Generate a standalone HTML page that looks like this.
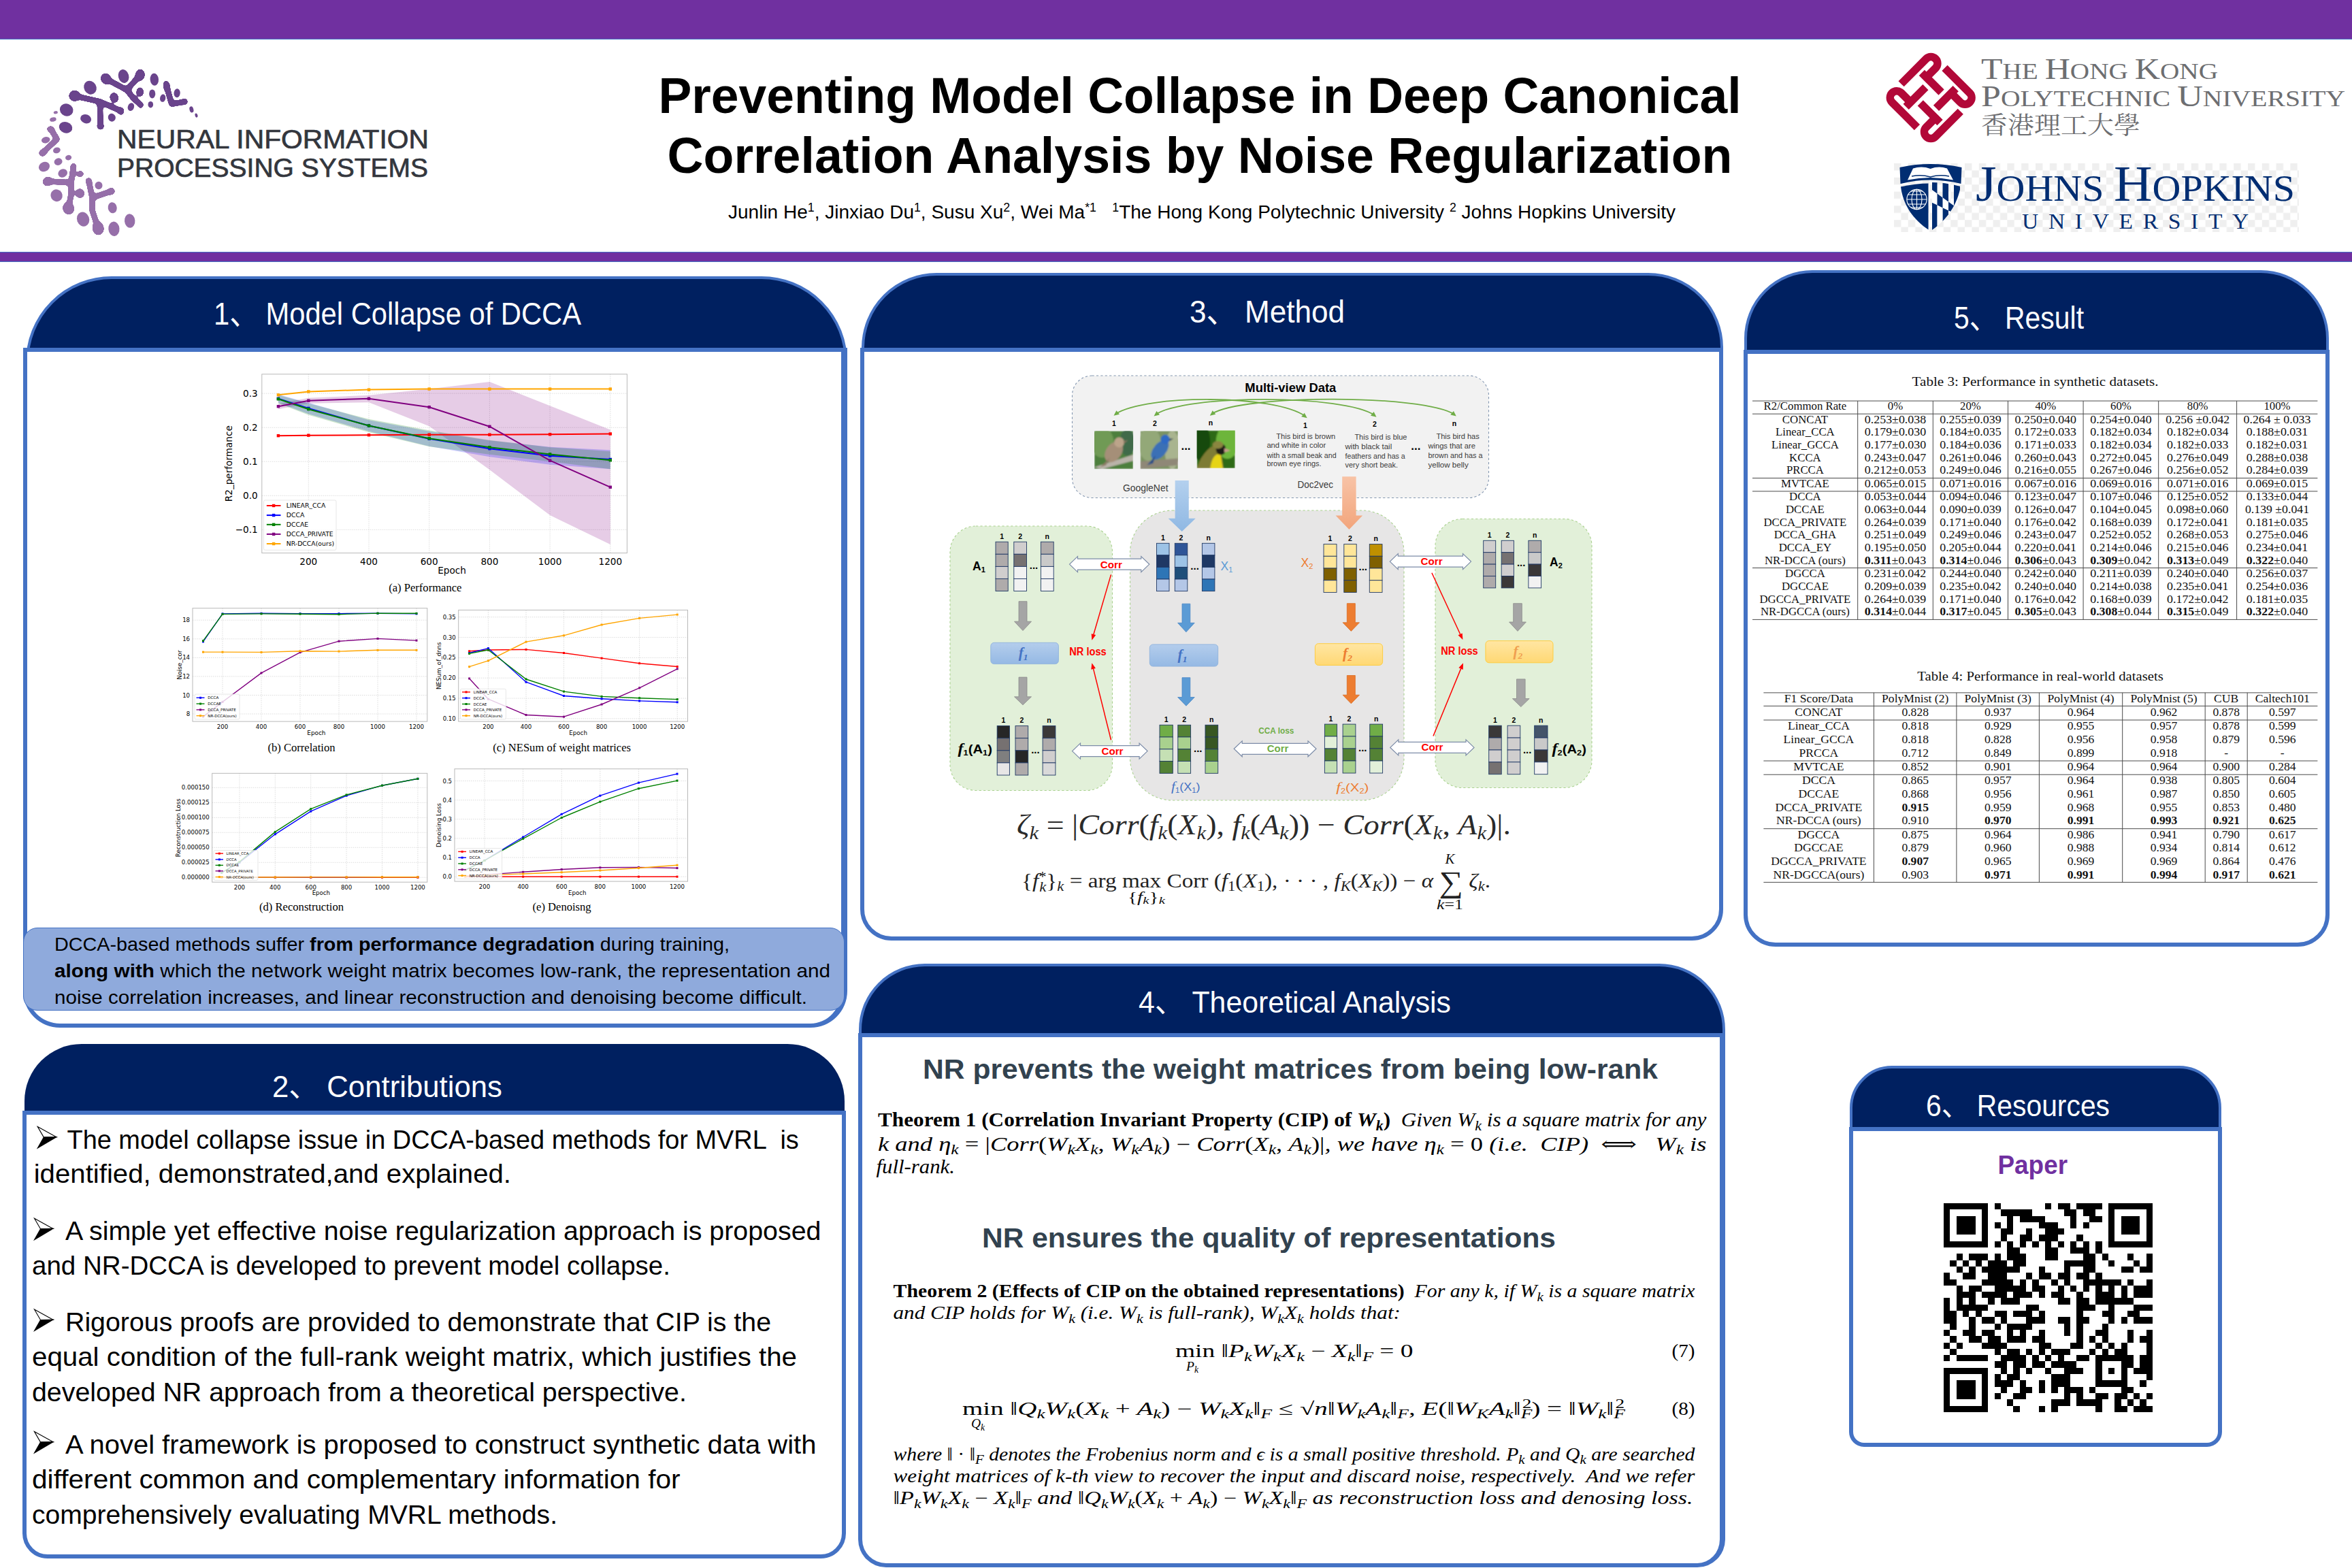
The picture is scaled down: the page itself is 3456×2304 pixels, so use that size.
<!DOCTYPE html>
<html lang="en"><head><meta charset="utf-8">
<title>Preventing Model Collapse in Deep Canonical Correlation Analysis by Noise Regularization</title>
<style>
html,body{margin:0;padding:0;background:#fff;}
#poster{position:relative;width:3456px;height:2304px;overflow:hidden;background:#fff;font-family:"Liberation Sans",sans-serif;}
.abs{position:absolute;box-sizing:border-box;}
.bar{position:absolute;left:0;width:3456px;background:#7030A0;box-sizing:border-box;}
.hd{position:absolute;box-sizing:border-box;background:#002060;}
.bd{position:absolute;box-sizing:border-box;background:#fff;border:6px solid #4472C4;}
svg{position:absolute;left:0;top:0;overflow:visible;}
</style></head>
<body>
<div id="poster">
<div class="bar" style="top:0;height:58px;border-bottom:1px solid #4472C4;"></div>
<div class="bar" style="top:370px;height:15px;border-top:1px solid #4472C4;border-bottom:1px solid #4472C4;"></div>
<div class="hd" id="p1h" style="left:38px;top:406px;width:1207px;height:231px;border-radius:126px 126px 0 0;border:4px solid #4472C4;"></div>
<div class="bd" id="p1b" style="left:34px;top:511px;width:1211px;height:999px;border-width:6px 9px 6px 6px;border-radius:0 0 54px 54px;"></div>
<div class="hd" id="p2h" style="left:36px;top:1534px;width:1205px;height:108px;border-radius:84px 84px 0 0;"></div>
<div class="bd" id="p2b" style="left:33px;top:1632px;width:1210px;height:658px;border-width:6px 6px 6px 6px;border-radius:0 0 37px 37px;"></div>
<div class="hd" id="p3h" style="left:1266px;top:401px;width:1266px;height:120px;border-radius:110px 110px 0 0;border:4px solid #4472C4;"></div>
<div class="bd" id="p3b" style="left:1264px;top:511px;width:1268px;height:871px;border-width:6px 6px 6px 6px;border-radius:0 0 46px 46px;"></div>
<div class="hd" id="p4h" style="left:1262px;top:1416px;width:1273px;height:112px;border-radius:97px 97px 0 0;border:4px solid #4472C4;"></div>
<div class="bd" id="p4b" style="left:1261px;top:1518px;width:1274px;height:785px;border-width:6px 8px 6px 6px;border-radius:0 0 41px 41px;"></div>
<div class="hd" id="p5h" style="left:2563px;top:397px;width:859px;height:127px;border-radius:100px 100px 0 0;border:4px solid #4472C4;"></div>
<div class="bd" id="p5b" style="left:2562px;top:514px;width:861px;height:877px;border-width:6px 6px 6px 6px;border-radius:0 0 47px 47px;"></div>
<div class="hd" id="p6h" style="left:2718px;top:1566px;width:546px;height:100px;border-radius:62px 62px 0 0;border:4px solid #4472C4;"></div>
<div class="bd" id="p6b" style="left:2717px;top:1656px;width:548px;height:470px;border-width:6px 6px 6px 6px;border-radius:0 0 22px 22px;"></div>
<div class="abs" style="left:34px;top:1363px;width:1207px;height:122px;background:#8FAADC;border:1px solid #4472C4;border-radius:21px;"></div>
<svg width="3456" height="2304" viewBox="0 0 3456 2304">
<text x="314" y="477" font-size="47" fill="#fff" font-family='"Liberation Sans", "Noto Sans CJK SC", sans-serif' textLength="540" lengthAdjust="spacingAndGlyphs" xml:space="preserve">1、 Model Collapse of DCCA</text>
<text x="400" y="1612" font-size="44" fill="#fff" font-family='"Liberation Sans", "Noto Sans CJK SC", sans-serif' textLength="338" lengthAdjust="spacingAndGlyphs" xml:space="preserve">2、 Contributions</text>
<text x="1748" y="474" font-size="47" fill="#fff" font-family='"Liberation Sans", "Noto Sans CJK SC", sans-serif' textLength="228" lengthAdjust="spacingAndGlyphs" xml:space="preserve">3、 Method</text>
<text x="1673" y="1488" font-size="44" fill="#fff" font-family='"Liberation Sans", "Noto Sans CJK SC", sans-serif' textLength="459" lengthAdjust="spacingAndGlyphs" xml:space="preserve">4、 Theoretical Analysis</text>
<text x="2871" y="483" font-size="47" fill="#fff" font-family='"Liberation Sans", "Noto Sans CJK SC", sans-serif' textLength="191" lengthAdjust="spacingAndGlyphs" xml:space="preserve">5、 Result</text>
<text x="2830" y="1640" font-size="44" fill="#fff" font-family='"Liberation Sans", "Noto Sans CJK SC", sans-serif' textLength="270" lengthAdjust="spacingAndGlyphs" xml:space="preserve">6、 Resources</text>
<g id="neurips-logo">
<filter id="goo" x="-10%" y="-10%" width="120%" height="120%" color-interpolation-filters="sRGB"><feGaussianBlur in="SourceGraphic" stdDeviation="2.2" result="b"/><feColorMatrix in="b" mode="matrix" values="1 0 0 0 0  0 1 0 0 0  0 0 1 0 0  0 0 0 22 -10"/></filter>
<g fill="#6A448C" stroke="#6A448C" stroke-linecap="round" stroke-linejoin="round" filter="url(#goo)">
<path d="M155.7,115.8 L186.4,132.2 L205.7,110.3" fill="none" stroke-width="8.5"/><path d="M186.4,132.2 L195.8,144.2 L206.7,154.1" fill="none" stroke-width="8.5"/><path d="M109.7,140.8 L146.8,149.4 L177.8,163.2" fill="none" stroke-width="8.5"/><path d="M146.8,149.4 L147.6,185.6" fill="none" stroke-width="8.5"/><path d="M244.9,127.0 L252.2,152.9 L271.6,149.4" fill="none" stroke-width="8.5"/><ellipse cx="205.7" cy="110.3" rx="7.2" ry="9.0" stroke="none" transform="rotate(10 205.7 110.3)"/><ellipse cx="244.9" cy="127.0" rx="5.2" ry="9.0" stroke="none" transform="rotate(-10 244.9 127.0)"/><ellipse cx="155.7" cy="115.8" rx="7.7" ry="8.6" stroke="none" transform="rotate(-30 155.7 115.8)"/><ellipse cx="205.7" cy="135.1" rx="5.5" ry="7.2" stroke="none" transform="rotate(0 205.7 135.1)"/><ellipse cx="167.8" cy="143.4" rx="6.5" ry="7.7" stroke="none" transform="rotate(-20 167.8 143.4)"/><ellipse cx="109.7" cy="140.8" rx="8.6" ry="8.3" stroke="none" transform="rotate(0 109.7 140.8)"/><ellipse cx="206.7" cy="154.1" rx="4.3" ry="5.2" stroke="none" transform="rotate(0 206.7 154.1)"/><ellipse cx="271.6" cy="149.4" rx="4.3" ry="5.2" stroke="none" transform="rotate(0 271.6 149.4)"/><ellipse cx="147.6" cy="185.6" rx="5.5" ry="5.2" stroke="none" transform="rotate(0 147.6 185.6)"/><ellipse cx="177.8" cy="163.2" rx="4.8" ry="6.0" stroke="none" transform="rotate(0 177.8 163.2)"/>
</g>
<g fill="#6A448C"><ellipse cx="181.6" cy="112.0" rx="7.7" ry="10.0" stroke="none" transform="rotate(-15 181.6 112.0)"/><ellipse cx="226.8" cy="116.7" rx="6.2" ry="9.0" stroke="none" transform="rotate(-5 226.8 116.7)"/><ellipse cx="260.1" cy="136.8" rx="4.6" ry="6.5" stroke="none" transform="rotate(5 260.1 136.8)"/><ellipse cx="132.5" cy="128.7" rx="9.0" ry="10.3" stroke="none" transform="rotate(-30 132.5 128.7)"/><ellipse cx="223.7" cy="137.9" rx="4.6" ry="6.5" stroke="none" transform="rotate(0 223.7 137.9)"/><ellipse cx="239.2" cy="144.2" rx="4.1" ry="5.7" stroke="none" transform="rotate(10 239.2 144.2)"/><ellipse cx="97.7" cy="161.5" rx="10.0" ry="9.0" stroke="none" transform="rotate(20 97.7 161.5)"/><ellipse cx="192.4" cy="157.2" rx="4.6" ry="6.0" stroke="none" transform="rotate(20 192.4 157.2)"/><ellipse cx="221.3" cy="153.7" rx="3.8" ry="4.8" stroke="none" transform="rotate(0 221.3 153.7)"/><ellipse cx="281.4" cy="160.9" rx="2.9" ry="4.6" stroke="none" transform="rotate(-15 281.4 160.9)"/><ellipse cx="288.5" cy="169.6" rx="1.9" ry="3.1" stroke="none" transform="rotate(-15 288.5 169.6)"/><ellipse cx="126.1" cy="174.7" rx="8.1" ry="6.5" stroke="none" transform="rotate(20 126.1 174.7)"/><ellipse cx="164.3" cy="172.7" rx="5.5" ry="6.0" stroke="none" transform="rotate(-20 164.3 172.7)"/><ellipse cx="96.5" cy="187.3" rx="10.0" ry="8.1" stroke="none" transform="rotate(20 96.5 187.3)"/></g>
<g fill="#966FA9" stroke="#966FA9" stroke-linecap="round" stroke-linejoin="round" filter="url(#goo)">
<path d="M70.1,266.5 L104.6,268.2 L108.0,244.1" fill="none" stroke-width="8.5"/><path d="M104.6,268.2 L104.1,288.0 L100.6,306.1" fill="none" stroke-width="8.5"/><path d="M130.4,265.7 L135.6,290.6 L163.6,281.1" fill="none" stroke-width="8.5"/><path d="M135.6,290.6 L135.1,307.8 L144.2,335.4" fill="none" stroke-width="8.5"/><path d="M74.4,189.5 L83.9,204.5 L63.2,224.0" fill="none" stroke-width="8.5"/><ellipse cx="74.4" cy="189.5" rx="6.0" ry="4.3" stroke="none" transform="rotate(0 74.4 189.5)"/><ellipse cx="63.2" cy="224.3" rx="6.5" ry="5.5" stroke="none" transform="rotate(-30 63.2 224.3)"/><ellipse cx="108.0" cy="244.1" rx="4.8" ry="4.3" stroke="none" transform="rotate(0 108.0 244.1)"/><ellipse cx="117.8" cy="255.7" rx="5.5" ry="4.8" stroke="none" transform="rotate(-15 117.8 255.7)"/><ellipse cx="70.1" cy="266.5" rx="7.7" ry="6.9" stroke="none" transform="rotate(-20 70.1 266.5)"/><ellipse cx="130.4" cy="265.7" rx="5.2" ry="4.6" stroke="none" transform="rotate(0 130.4 265.7)"/><ellipse cx="117.5" cy="284.1" rx="6.9" ry="7.2" stroke="none" transform="rotate(-20 117.5 284.1)"/><ellipse cx="163.6" cy="281.1" rx="5.5" ry="5.5" stroke="none" transform="rotate(0 163.6 281.1)"/><ellipse cx="100.6" cy="306.1" rx="8.6" ry="9.5" stroke="none" transform="rotate(-20 100.6 306.1)"/><ellipse cx="144.2" cy="335.4" rx="8.6" ry="10.3" stroke="none" transform="rotate(-10 144.2 335.4)"/>
</g>
<g fill="#966FA9"><ellipse cx="81.8" cy="165.3" rx="3.1" ry="2.1" stroke="none" transform="rotate(-10 81.8 165.3)"/><ellipse cx="77.9" cy="175.6" rx="4.8" ry="3.1" stroke="none" transform="rotate(-10 77.9 175.6)"/><ellipse cx="67.2" cy="205.7" rx="6.4" ry="4.6" stroke="none" transform="rotate(-15 67.2 205.7)"/><ellipse cx="83.4" cy="220.9" rx="5.5" ry="4.3" stroke="none" transform="rotate(-20 83.4 220.9)"/><ellipse cx="100.6" cy="231.6" rx="4.6" ry="3.8" stroke="none" transform="rotate(-15 100.6 231.6)"/><ellipse cx="85.6" cy="237.6" rx="6.0" ry="5.2" stroke="none" transform="rotate(-20 85.6 237.6)"/><ellipse cx="65.0" cy="245.0" rx="8.3" ry="6.9" stroke="none" transform="rotate(-25 65.0 245.0)"/><ellipse cx="92.2" cy="254.5" rx="6.9" ry="6.0" stroke="none" transform="rotate(-25 92.2 254.5)"/><ellipse cx="145.0" cy="272.5" rx="5.5" ry="5.7" stroke="none" transform="rotate(0 145.0 272.5)"/><ellipse cx="83.1" cy="287.2" rx="8.6" ry="9.0" stroke="none" transform="rotate(-30 83.1 287.2)"/><ellipse cx="165.2" cy="305.3" rx="6.5" ry="8.1" stroke="none" transform="rotate(-10 165.2 305.3)"/><ellipse cx="122.1" cy="322.1" rx="9.0" ry="10.7" stroke="none" transform="rotate(-20 122.1 322.1)"/><ellipse cx="190.7" cy="324.5" rx="7.7" ry="10.3" stroke="none" transform="rotate(-5 190.7 324.5)"/><ellipse cx="167.4" cy="336.3" rx="8.1" ry="10.7" stroke="none" transform="rotate(-5 167.4 336.3)"/></g>
<text x="172" y="218" font-size="38.5" fill="#33363D" font-family='"Liberation Sans", "DejaVu Sans", sans-serif' textLength="458" lengthAdjust="spacingAndGlyphs" stroke="#33363D" stroke-width="0.7" xml:space="preserve">NEURAL INFORMATION</text>
<text x="172" y="260" font-size="38.5" fill="#33363D" font-family='"Liberation Sans", "DejaVu Sans", sans-serif' textLength="457" lengthAdjust="spacingAndGlyphs" stroke="#33363D" stroke-width="0.7" xml:space="preserve">PROCESSING SYSTEMS</text>
</g>
<text x="1763" y="165.5" font-size="73.3" fill="#000" font-family='"Liberation Sans", "DejaVu Sans", sans-serif' font-weight="bold" text-anchor="middle" textLength="1591" lengthAdjust="spacingAndGlyphs" xml:space="preserve">Preventing Model Collapse in Deep Canonical</text>
<text x="1763" y="253.5" font-size="73.3" fill="#000" font-family='"Liberation Sans", "DejaVu Sans", sans-serif' font-weight="bold" text-anchor="middle" textLength="1565" lengthAdjust="spacingAndGlyphs" xml:space="preserve">Correlation Analysis by Noise Regularization</text>
<text x="1070" y="321" font-size="28.4" fill="#000" font-family='"Liberation Sans", "DejaVu Sans", sans-serif' textLength="1392" lengthAdjust="spacingAndGlyphs" xml:space="preserve"><tspan>Junlin He</tspan><tspan font-size="18" dy="-10">1</tspan><tspan dy="10">, Jinxiao Du</tspan><tspan font-size="18" dy="-10">1</tspan><tspan dy="10">, Susu Xu</tspan><tspan font-size="18" dy="-10">2</tspan><tspan dy="10">, Wei Ma</tspan><tspan font-size="18" dy="-10">*1</tspan><tspan dy="10">   </tspan><tspan font-size="18" dy="-10">1</tspan><tspan dy="10">The Hong Kong Polytechnic University </tspan><tspan font-size="18" dy="-10">2</tspan><tspan dy="10"> Johns Hopkins University</tspan></text>
<g id="polyu-logo"><g transform="translate(2837.2 143.5) rotate(-45)" fill="none" stroke="#B20838" stroke-width="11.6">
<g transform="rotate(0)"><path d="M-16.5,-45.15 H35.5 A9.65,9.65 0 0 1 35.5,-25.85 H11.2"/><path d="M16.4,-35.3 V5.4"/></g>
<g transform="rotate(90)"><path d="M-16.5,-45.15 H35.5 A9.65,9.65 0 0 1 35.5,-25.85 H11.2"/><path d="M16.4,-35.3 V5.4"/></g>
<g transform="rotate(180)"><path d="M-16.5,-45.15 H35.5 A9.65,9.65 0 0 1 35.5,-25.85 H11.2"/><path d="M16.4,-35.3 V5.4"/></g>
<g transform="rotate(270)"><path d="M-16.5,-45.15 H35.5 A9.65,9.65 0 0 1 35.5,-25.85 H11.2"/><path d="M16.4,-35.3 V5.4"/></g>
</g>
<text x="2911" y="116" font-size="33.5" fill="#6D6E71" font-family='"Liberation Serif", "DejaVu Serif", serif' textLength="348" lengthAdjust="spacingAndGlyphs" xml:space="preserve"><tspan font-size="44">T</tspan><tspan>HE </tspan><tspan font-size="44">H</tspan><tspan>ONG </tspan><tspan font-size="44">K</tspan><tspan>ONG</tspan></text>
<text x="2911" y="156" font-size="33.5" fill="#6D6E71" font-family='"Liberation Serif", "DejaVu Serif", serif' textLength="535" lengthAdjust="spacingAndGlyphs" xml:space="preserve"><tspan font-size="44">P</tspan><tspan>OLYTECHNIC </tspan><tspan font-size="44">U</tspan><tspan>NIVERSITY</tspan></text>
<text x="2911" y="197" font-size="36" fill="#6D6E71" font-family='"Liberation Serif", "Noto Serif CJK TC", "Noto Serif CJK SC", serif' textLength="234" lengthAdjust="spacingAndGlyphs" xml:space="preserve">香港理工大學</text>
</g>
<g id="jhu-logo">
<defs><pattern id="chk" x="2783" y="240" width="20.8" height="20.8" patternUnits="userSpaceOnUse"><rect width="20.8" height="20.8" fill="#fff"/><rect width="10.4" height="10.4" fill="#EFEFEF"/><rect x="10.4" y="10.4" width="10.4" height="10.4" fill="#EFEFEF"/></pattern><clipPath id="shl"><path d="M2793,273 Q2836,262 2881,274 C2876,300 2862,322 2838.5,338 L2838.5,266 L2834,266 L2834,338 C2808,320 2796,298 2793,273 Z"/></clipPath></defs>
<rect x="2783" y="240" width="595" height="101" fill="url(#chk)"/>
<path d="M2791.5,246 Q2836,236 2882.5,246 L2881.5,270 Q2836,259 2792.5,270 Z" fill="#002D72"/>
<path d="M2803,264.5 L2811,247.5 Q2824,243.5 2836.5,248 Q2849,243.5 2861,247.5 L2870,264.5 Q2836,257.5 2803,264.5 Z" fill="#fff"/><path d="M2809,259 Q2823,256 2836.5,260 Q2850,256 2864,259" fill="none" stroke="#002D72" stroke-width="1.6"/>
<path d="M2793,274.5 Q2815,269.5 2833.5,269.5 L2833.5,337.5 C2808,320 2796,298 2793,274.5 Z" fill="#002D72"/>
<g fill="none" stroke="#fff" stroke-width="1.1"><circle cx="2816.5" cy="293" r="14.6"/><ellipse cx="2816.5" cy="293" rx="7.5" ry="14.6"/><path d="M2816.5,278.4 V307.6 M2801.9,293 H2831.1 M2803.5,286 H2829.5 M2803.5,300 H2829.5 M2808,281 H2825 M2808,305 H2825"/></g>
<g clip-path="url(#shl)"><rect x="2839" y="266" width="7.5" height="80" fill="#002D72"/><rect x="2854.5" y="266" width="8.5" height="80" fill="#002D72"/><rect x="2871" y="266" width="9" height="80" fill="#002D72"/><path d="M2839,279 L2872,303 L2868,312 L2839,298 Z" fill="#fff"/><path d="M2846.5,284.5 L2854.5,290.5 L2854.5,305.5 L2846.5,301.5 Z" fill="#002D72"/><path d="M2863,296.5 L2872,303 L2868,312 L2863,309.5 Z" fill="#002D72"/><path d="M2839,298 L2846.5,301.5 L2846.5,345 L2839,345 Z" fill="#002D72"/><path d="M2854.5,305.5 L2863,309.5 L2863,330 L2854.5,330 Z" fill="#002D72"/><path d="M2846.5,301.5 L2854.5,305.5 L2854.5,345 L2846.5,345 Z" fill="#fff"/><path d="M2863,309.5 L2868,312 L2863,322 Z" fill="#fff"/></g>
<text x="2903" y="295" font-size="54" fill="#002D72" font-family='"Liberation Serif", "DejaVu Serif", serif' textLength="469" lengthAdjust="spacingAndGlyphs" xml:space="preserve"><tspan font-size="73">J</tspan><tspan>OHNS </tspan><tspan font-size="73">H</tspan><tspan>OPKINS</tspan></text>
<text x="2971" y="336" font-size="32" fill="#002D72" font-family='"Liberation Serif", "DejaVu Serif", serif' textLength="348" lengthAdjust="spacingAndGlyphs" letter-spacing="14" xml:space="preserve">UNIVERSITY</text>
</g>
<g id="panel1">
<g id="ca" font-family='"DejaVu Sans", "Liberation Sans", sans-serif'>
<rect x="384.8" y="549.8" width="536.6" height="262.8" fill="#fff" stroke="none"/>
<path d="M453.3,549.8V812.6M542.0,549.8V812.6M630.7,549.8V812.6M719.4,549.8V812.6M808.1,549.8V812.6M896.8,549.8V812.6M384.8,578.1H921.4M384.8,628.2H921.4M384.8,678.2H921.4M384.8,728.3H921.4M384.8,778.3H921.4" stroke="#cfcfcf" stroke-width="0.7" stroke-dasharray="1.5 1.5" fill="none"/>
<clipPath id="cac"><rect x="384.8" y="549.8" width="536.6" height="262.8"/></clipPath><g clip-path="url(#cac)">
<polygon points="408.9,593.2 453.3,584.7 542.0,580.7 630.7,571.6 719.4,561.1 808.1,596.2 896.8,631.5 896.8,800.1 808.1,757.1 719.4,690.3 630.7,626.2 542.0,591.2 453.3,592.7 408.9,601.2" fill="#800080" fill-opacity="0.2"/>
<polygon points="408.9,579.7 453.3,591.7 542.0,617.2 630.7,633.7 719.4,647.2 808.1,656.7 896.8,661.2 896.8,689.3 808.1,682.8 719.4,671.2 630.7,655.7 542.0,633.7 453.3,608.2 408.9,591.7" fill="#0000FF" fill-opacity="0.2"/>
<polygon points="408.9,580.2 453.3,592.7 542.0,615.7 630.7,632.2 719.4,646.7 808.1,657.2 896.8,663.2 896.8,689.3 808.1,678.2 719.4,667.7 630.7,656.2 542.0,635.2 453.3,609.7 408.9,592.7" fill="#008000" fill-opacity="0.2"/>
<polyline points="408.9,640.2 453.3,639.7 542.0,639.2 630.7,638.7 719.4,638.7 808.1,638.2 896.8,637.5" fill="none" stroke="#FF0000" stroke-width="2" stroke-linejoin="round"/><rect x="406.7" y="638.0" width="4.4" height="4.4" fill="#FF0000"/><rect x="451.1" y="637.5" width="4.4" height="4.4" fill="#FF0000"/><rect x="539.8" y="637.0" width="4.4" height="4.4" fill="#FF0000"/><rect x="628.5" y="636.5" width="4.4" height="4.4" fill="#FF0000"/><rect x="717.2" y="636.5" width="4.4" height="4.4" fill="#FF0000"/><rect x="805.9" y="636.0" width="4.4" height="4.4" fill="#FF0000"/><rect x="894.6" y="635.3" width="4.4" height="4.4" fill="#FF0000"/>
<polyline points="408.9,585.7 453.3,599.9 542.0,625.5 630.7,644.7 719.4,659.2 808.1,669.7 896.8,675.0" fill="none" stroke="#0000FF" stroke-width="2" stroke-linejoin="round"/><rect x="406.7" y="583.5" width="4.4" height="4.4" fill="#0000FF"/><rect x="451.1" y="597.7" width="4.4" height="4.4" fill="#0000FF"/><rect x="539.8" y="623.3" width="4.4" height="4.4" fill="#0000FF"/><rect x="628.5" y="642.5" width="4.4" height="4.4" fill="#0000FF"/><rect x="717.2" y="657.0" width="4.4" height="4.4" fill="#0000FF"/><rect x="805.9" y="667.5" width="4.4" height="4.4" fill="#0000FF"/><rect x="894.6" y="672.8" width="4.4" height="4.4" fill="#0000FF"/>
<polyline points="408.9,586.3 453.3,601.2 542.0,625.5 630.7,644.2 719.4,657.2 808.1,667.4 896.8,676.2" fill="none" stroke="#008000" stroke-width="2" stroke-linejoin="round"/><rect x="406.7" y="584.1" width="4.4" height="4.4" fill="#008000"/><rect x="451.1" y="599.0" width="4.4" height="4.4" fill="#008000"/><rect x="539.8" y="623.3" width="4.4" height="4.4" fill="#008000"/><rect x="628.5" y="642.0" width="4.4" height="4.4" fill="#008000"/><rect x="717.2" y="655.0" width="4.4" height="4.4" fill="#008000"/><rect x="805.9" y="665.2" width="4.4" height="4.4" fill="#008000"/><rect x="894.6" y="674.0" width="4.4" height="4.4" fill="#008000"/>
<polyline points="408.9,597.2 453.3,588.7 542.0,585.7 630.7,598.2 719.4,626.7 808.1,676.7 896.8,715.8" fill="none" stroke="#800080" stroke-width="2" stroke-linejoin="round"/><rect x="406.7" y="595.0" width="4.4" height="4.4" fill="#800080"/><rect x="451.1" y="586.5" width="4.4" height="4.4" fill="#800080"/><rect x="539.8" y="583.5" width="4.4" height="4.4" fill="#800080"/><rect x="628.5" y="596.0" width="4.4" height="4.4" fill="#800080"/><rect x="717.2" y="624.5" width="4.4" height="4.4" fill="#800080"/><rect x="805.9" y="674.5" width="4.4" height="4.4" fill="#800080"/><rect x="894.6" y="713.6" width="4.4" height="4.4" fill="#800080"/>
<polyline points="408.9,580.3 453.3,575.4 542.0,572.6 630.7,571.6 719.4,571.6 808.1,571.6 896.8,571.6" fill="none" stroke="#FFA500" stroke-width="2" stroke-linejoin="round"/><rect x="406.7" y="578.1" width="4.4" height="4.4" fill="#FFA500"/><rect x="451.1" y="573.2" width="4.4" height="4.4" fill="#FFA500"/><rect x="539.8" y="570.4" width="4.4" height="4.4" fill="#FFA500"/><rect x="628.5" y="569.4" width="4.4" height="4.4" fill="#FFA500"/><rect x="717.2" y="569.4" width="4.4" height="4.4" fill="#FFA500"/><rect x="805.9" y="569.4" width="4.4" height="4.4" fill="#FFA500"/><rect x="894.6" y="569.4" width="4.4" height="4.4" fill="#FFA500"/>
</g>
<rect x="387.5" y="735" width="106.5" height="73.3" rx="2" fill="#fff" fill-opacity="0.8" stroke="#ddd" stroke-width="0.7"/>
<path d="M391.8,743H412.5" stroke="#FF0000" stroke-width="2"/><rect x="399.9" y="740.8" width="4.4" height="4.4" fill="#FF0000"/><text x="420.8" y="746.3" font-size="9.3" fill="#000" font-family='"DejaVu Sans", "Liberation Sans", sans-serif' xml:space="preserve">LINEAR_CCA</text>
<path d="M391.8,757.1H412.5" stroke="#0000FF" stroke-width="2"/><rect x="399.9" y="754.9" width="4.4" height="4.4" fill="#0000FF"/><text x="420.8" y="760.4" font-size="9.3" fill="#000" font-family='"DejaVu Sans", "Liberation Sans", sans-serif' xml:space="preserve">DCCA</text>
<path d="M391.8,770.8H412.5" stroke="#008000" stroke-width="2"/><rect x="399.9" y="768.6" width="4.4" height="4.4" fill="#008000"/><text x="420.8" y="774.1" font-size="9.3" fill="#000" font-family='"DejaVu Sans", "Liberation Sans", sans-serif' xml:space="preserve">DCCAE</text>
<path d="M391.8,784.9H412.5" stroke="#800080" stroke-width="2"/><rect x="399.9" y="782.7" width="4.4" height="4.4" fill="#800080"/><text x="420.8" y="788.2" font-size="9.3" fill="#000" font-family='"DejaVu Sans", "Liberation Sans", sans-serif' xml:space="preserve">DCCA_PRIVATE</text>
<path d="M391.8,799H412.5" stroke="#FFA500" stroke-width="2"/><rect x="399.9" y="796.8" width="4.4" height="4.4" fill="#FFA500"/><text x="420.8" y="802.3" font-size="9.3" fill="#000" font-family='"DejaVu Sans", "Liberation Sans", sans-serif' xml:space="preserve">NR-DCCA(ours)</text>
<rect x="384.8" y="549.8" width="536.6" height="262.8" fill="none" stroke="#b8b8b8" stroke-width="1"/>
<text x="453.3" y="830.3" font-size="13.6" fill="#000" font-family='"DejaVu Sans", "Liberation Sans", sans-serif' text-anchor="middle" xml:space="preserve">200</text>
<text x="542.0" y="830.3" font-size="13.6" fill="#000" font-family='"DejaVu Sans", "Liberation Sans", sans-serif' text-anchor="middle" xml:space="preserve">400</text>
<text x="630.7" y="830.3" font-size="13.6" fill="#000" font-family='"DejaVu Sans", "Liberation Sans", sans-serif' text-anchor="middle" xml:space="preserve">600</text>
<text x="719.4" y="830.3" font-size="13.6" fill="#000" font-family='"DejaVu Sans", "Liberation Sans", sans-serif' text-anchor="middle" xml:space="preserve">800</text>
<text x="808.1" y="830.3" font-size="13.6" fill="#000" font-family='"DejaVu Sans", "Liberation Sans", sans-serif' text-anchor="middle" xml:space="preserve">1000</text>
<text x="896.8" y="830.3" font-size="13.6" fill="#000" font-family='"DejaVu Sans", "Liberation Sans", sans-serif' text-anchor="middle" xml:space="preserve">1200</text>
<text x="378.7" y="583.0" font-size="13.6" fill="#000" font-family='"DejaVu Sans", "Liberation Sans", sans-serif' text-anchor="end" xml:space="preserve">0.3</text>
<text x="378.7" y="633.1" font-size="13.6" fill="#000" font-family='"DejaVu Sans", "Liberation Sans", sans-serif' text-anchor="end" xml:space="preserve">0.2</text>
<text x="378.7" y="683.1" font-size="13.6" fill="#000" font-family='"DejaVu Sans", "Liberation Sans", sans-serif' text-anchor="end" xml:space="preserve">0.1</text>
<text x="378.7" y="733.2" font-size="13.6" fill="#000" font-family='"DejaVu Sans", "Liberation Sans", sans-serif' text-anchor="end" xml:space="preserve">0.0</text>
<text x="378.7" y="783.2" font-size="13.6" fill="#000" font-family='"DejaVu Sans", "Liberation Sans", sans-serif' text-anchor="end" xml:space="preserve">−0.1</text>
<text x="664.1" y="842.6" font-size="13.6" fill="#000" font-family='"DejaVu Sans", "Liberation Sans", sans-serif' text-anchor="middle" xml:space="preserve">Epoch</text>
<text transform="translate(341 681.2) rotate(-90)" text-anchor="middle" font-size="13.6" fill="#000">R2_performance</text>
</g>
<g id="cb" font-family='"DejaVu Sans", "Liberation Sans", sans-serif'>
<rect x="283" y="893.7" width="344.8" height="166.4" fill="#fff" stroke="none"/>
<path d="M327.0,893.7V1060.1M384.0,893.7V1060.1M441.0,893.7V1060.1M498.0,893.7V1060.1M555.0,893.7V1060.1M612.0,893.7V1060.1M283,911.2H627.8M283,938.8H627.8M283,966.4H627.8M283,993.9H627.8M283,1021.5H627.8M283,1049.0H627.8" stroke="#cfcfcf" stroke-width="0.7" stroke-dasharray="1.5 1.5" fill="none"/>
<clipPath id="cbc"><rect x="283" y="893.7" width="344.8" height="166.4"/></clipPath><g clip-path="url(#cbc)">
<polyline points="298.5,942.9 327.0,901.9 384.0,901.3 441.0,901.6 498.0,901.6 555.0,901.3 612.0,901.9" fill="none" stroke="#0000FF" stroke-width="1.4" stroke-linejoin="round"/><rect x="297.0" y="941.4" width="3" height="3" fill="#0000FF"/><rect x="325.5" y="900.4" width="3" height="3" fill="#0000FF"/><rect x="382.5" y="899.8" width="3" height="3" fill="#0000FF"/><rect x="439.5" y="900.1" width="3" height="3" fill="#0000FF"/><rect x="496.5" y="900.1" width="3" height="3" fill="#0000FF"/><rect x="553.5" y="899.8" width="3" height="3" fill="#0000FF"/><rect x="610.5" y="900.4" width="3" height="3" fill="#0000FF"/>
<polyline points="298.5,941.6 327.0,902.4 384.0,901.9 441.0,902.2 498.0,902.7 555.0,901.1 612.0,901.3" fill="none" stroke="#008000" stroke-width="1.4" stroke-linejoin="round"/><rect x="297.0" y="940.1" width="3" height="3" fill="#008000"/><rect x="325.5" y="900.9" width="3" height="3" fill="#008000"/><rect x="382.5" y="900.4" width="3" height="3" fill="#008000"/><rect x="439.5" y="900.7" width="3" height="3" fill="#008000"/><rect x="496.5" y="901.2" width="3" height="3" fill="#008000"/><rect x="553.5" y="899.6" width="3" height="3" fill="#008000"/><rect x="610.5" y="899.8" width="3" height="3" fill="#008000"/>
<polyline points="298.5,1053.1 327.0,1031.4 384.0,988.9 441.0,958.6 498.0,942.2 555.0,938.4 612.0,941.1" fill="none" stroke="#800080" stroke-width="1.4" stroke-linejoin="round"/><rect x="297.0" y="1051.6" width="3" height="3" fill="#800080"/><rect x="325.5" y="1029.9" width="3" height="3" fill="#800080"/><rect x="382.5" y="987.4" width="3" height="3" fill="#800080"/><rect x="439.5" y="957.1" width="3" height="3" fill="#800080"/><rect x="496.5" y="940.7" width="3" height="3" fill="#800080"/><rect x="553.5" y="936.9" width="3" height="3" fill="#800080"/><rect x="610.5" y="939.6" width="3" height="3" fill="#800080"/>
<polyline points="298.5,958.1 327.0,958.1 384.0,958.4 441.0,956.7 498.0,957.1 555.0,955.3 612.0,955.3" fill="none" stroke="#FFA500" stroke-width="1.4" stroke-linejoin="round"/><rect x="297.0" y="956.6" width="3" height="3" fill="#FFA500"/><rect x="325.5" y="956.6" width="3" height="3" fill="#FFA500"/><rect x="382.5" y="956.9" width="3" height="3" fill="#FFA500"/><rect x="439.5" y="955.2" width="3" height="3" fill="#FFA500"/><rect x="496.5" y="955.6" width="3" height="3" fill="#FFA500"/><rect x="553.5" y="953.8" width="3" height="3" fill="#FFA500"/><rect x="610.5" y="953.8" width="3" height="3" fill="#FFA500"/>
</g>
<rect x="286" y="1020" width="66" height="37" rx="2" fill="#fff" fill-opacity="0.8" stroke="#ddd" stroke-width="0.7"/>
<path d="M288.5,1025.3H300.5" stroke="#0000FF" stroke-width="1.4"/><rect x="293.0" y="1023.8" width="3" height="3" fill="#0000FF"/><text x="305.3" y="1027.3" font-size="5.6" fill="#000" font-family='"DejaVu Sans", "Liberation Sans", sans-serif' xml:space="preserve">DCCA</text>
<path d="M288.5,1034.1H300.5" stroke="#008000" stroke-width="1.4"/><rect x="293.0" y="1032.6" width="3" height="3" fill="#008000"/><text x="305.3" y="1036.1" font-size="5.6" fill="#000" font-family='"DejaVu Sans", "Liberation Sans", sans-serif' xml:space="preserve">DCCAE</text>
<path d="M288.5,1042.9H300.5" stroke="#800080" stroke-width="1.4"/><rect x="293.0" y="1041.4" width="3" height="3" fill="#800080"/><text x="305.3" y="1044.9" font-size="5.6" fill="#000" font-family='"DejaVu Sans", "Liberation Sans", sans-serif' xml:space="preserve">DCCA_PRIVATE</text>
<path d="M288.5,1051.7H300.5" stroke="#FFA500" stroke-width="1.4"/><rect x="293.0" y="1050.2" width="3" height="3" fill="#FFA500"/><text x="305.3" y="1053.7" font-size="5.6" fill="#000" font-family='"DejaVu Sans", "Liberation Sans", sans-serif' xml:space="preserve">NR-DCCA(ours)</text>
<rect x="283" y="893.7" width="344.8" height="166.4" fill="none" stroke="#b8b8b8" stroke-width="1"/>
<text x="327.0" y="1071.3" font-size="8.6" fill="#000" font-family='"DejaVu Sans", "Liberation Sans", sans-serif' text-anchor="middle" xml:space="preserve">200</text>
<text x="384.0" y="1071.3" font-size="8.6" fill="#000" font-family='"DejaVu Sans", "Liberation Sans", sans-serif' text-anchor="middle" xml:space="preserve">400</text>
<text x="441.0" y="1071.3" font-size="8.6" fill="#000" font-family='"DejaVu Sans", "Liberation Sans", sans-serif' text-anchor="middle" xml:space="preserve">600</text>
<text x="498.0" y="1071.3" font-size="8.6" fill="#000" font-family='"DejaVu Sans", "Liberation Sans", sans-serif' text-anchor="middle" xml:space="preserve">800</text>
<text x="555.0" y="1071.3" font-size="8.6" fill="#000" font-family='"DejaVu Sans", "Liberation Sans", sans-serif' text-anchor="middle" xml:space="preserve">1000</text>
<text x="612.0" y="1071.3" font-size="8.6" fill="#000" font-family='"DejaVu Sans", "Liberation Sans", sans-serif' text-anchor="middle" xml:space="preserve">1200</text>
<text x="279.1" y="914.3" font-size="8.6" fill="#000" font-family='"DejaVu Sans", "Liberation Sans", sans-serif' text-anchor="end" xml:space="preserve">18</text>
<text x="279.1" y="941.9" font-size="8.6" fill="#000" font-family='"DejaVu Sans", "Liberation Sans", sans-serif' text-anchor="end" xml:space="preserve">16</text>
<text x="279.1" y="969.4" font-size="8.6" fill="#000" font-family='"DejaVu Sans", "Liberation Sans", sans-serif' text-anchor="end" xml:space="preserve">14</text>
<text x="279.1" y="997.0" font-size="8.6" fill="#000" font-family='"DejaVu Sans", "Liberation Sans", sans-serif' text-anchor="end" xml:space="preserve">12</text>
<text x="279.1" y="1024.5" font-size="8.6" fill="#000" font-family='"DejaVu Sans", "Liberation Sans", sans-serif' text-anchor="end" xml:space="preserve">10</text>
<text x="279.1" y="1052.1" font-size="8.6" fill="#000" font-family='"DejaVu Sans", "Liberation Sans", sans-serif' text-anchor="end" xml:space="preserve">8</text>
<text x="464.9" y="1079.6" font-size="8.9" fill="#000" font-family='"DejaVu Sans", "Liberation Sans", sans-serif' text-anchor="middle" xml:space="preserve">Epoch</text>
<text transform="translate(266.5 976.9) rotate(-90)" text-anchor="middle" font-size="8.9" fill="#000">Noise_cor</text>
</g>
<g id="cc" font-family='"DejaVu Sans", "Liberation Sans", sans-serif'>
<rect x="673.7" y="896.4" width="336.8" height="163.7" fill="#fff" stroke="none"/>
<path d="M717.4,896.4V1060.1M773.0,896.4V1060.1M828.5,896.4V1060.1M884.1,896.4V1060.1M939.6,896.4V1060.1M995.2,896.4V1060.1M673.7,906.7H1010.5M673.7,936.5H1010.5M673.7,966.4H1010.5M673.7,996.2H1010.5M673.7,1026.1H1010.5M673.7,1055.9H1010.5" stroke="#cfcfcf" stroke-width="0.7" stroke-dasharray="1.5 1.5" fill="none"/>
<clipPath id="ccc"><rect x="673.7" y="896.4" width="336.8" height="163.7"/></clipPath><g clip-path="url(#ccc)">
<polyline points="689.6,956.8 717.4,955.0 773.0,954.4 828.5,959.5 884.1,967.1 939.6,974.7 995.2,979.5" fill="none" stroke="#FF0000" stroke-width="1.4" stroke-linejoin="round"/><rect x="688.1" y="955.3" width="3" height="3" fill="#FF0000"/><rect x="715.9" y="953.5" width="3" height="3" fill="#FF0000"/><rect x="771.5" y="952.9" width="3" height="3" fill="#FF0000"/><rect x="827.0" y="958.0" width="3" height="3" fill="#FF0000"/><rect x="882.6" y="965.6" width="3" height="3" fill="#FF0000"/><rect x="938.1" y="973.2" width="3" height="3" fill="#FF0000"/><rect x="993.7" y="978.0" width="3" height="3" fill="#FF0000"/>
<polyline points="689.6,959.5 717.4,952.6 773.0,1002.2 828.5,1022.5 884.1,1026.8 939.6,1029.9 995.2,1031.8" fill="none" stroke="#0000FF" stroke-width="1.4" stroke-linejoin="round"/><rect x="688.1" y="958.0" width="3" height="3" fill="#0000FF"/><rect x="715.9" y="951.1" width="3" height="3" fill="#0000FF"/><rect x="771.5" y="1000.7" width="3" height="3" fill="#0000FF"/><rect x="827.0" y="1021.0" width="3" height="3" fill="#0000FF"/><rect x="882.6" y="1025.3" width="3" height="3" fill="#0000FF"/><rect x="938.1" y="1028.4" width="3" height="3" fill="#0000FF"/><rect x="993.7" y="1030.3" width="3" height="3" fill="#0000FF"/>
<polyline points="689.6,960.4 717.4,955.0 773.0,998.0 828.5,1016.1 884.1,1023.4 939.6,1025.7 995.2,1027.6" fill="none" stroke="#008000" stroke-width="1.4" stroke-linejoin="round"/><rect x="688.1" y="958.9" width="3" height="3" fill="#008000"/><rect x="715.9" y="953.5" width="3" height="3" fill="#008000"/><rect x="771.5" y="996.5" width="3" height="3" fill="#008000"/><rect x="827.0" y="1014.6" width="3" height="3" fill="#008000"/><rect x="882.6" y="1021.9" width="3" height="3" fill="#008000"/><rect x="938.1" y="1024.2" width="3" height="3" fill="#008000"/><rect x="993.7" y="1026.1" width="3" height="3" fill="#008000"/>
<polyline points="689.6,997.0 717.4,1027.2 773.0,1050.5 828.5,1053.2 884.1,1035.0 939.6,1010.8 995.2,982.8" fill="none" stroke="#800080" stroke-width="1.4" stroke-linejoin="round"/><rect x="688.1" y="995.5" width="3" height="3" fill="#800080"/><rect x="715.9" y="1025.7" width="3" height="3" fill="#800080"/><rect x="771.5" y="1049.0" width="3" height="3" fill="#800080"/><rect x="827.0" y="1051.7" width="3" height="3" fill="#800080"/><rect x="882.6" y="1033.5" width="3" height="3" fill="#800080"/><rect x="938.1" y="1009.3" width="3" height="3" fill="#800080"/><rect x="993.7" y="981.3" width="3" height="3" fill="#800080"/>
<polyline points="689.6,979.7 717.4,970.9 773.0,943.1 828.5,933.8 884.1,918.0 939.6,908.4 995.2,903.1" fill="none" stroke="#FFA500" stroke-width="1.4" stroke-linejoin="round"/><rect x="688.1" y="978.2" width="3" height="3" fill="#FFA500"/><rect x="715.9" y="969.4" width="3" height="3" fill="#FFA500"/><rect x="771.5" y="941.6" width="3" height="3" fill="#FFA500"/><rect x="827.0" y="932.3" width="3" height="3" fill="#FFA500"/><rect x="882.6" y="916.5" width="3" height="3" fill="#FFA500"/><rect x="938.1" y="906.9" width="3" height="3" fill="#FFA500"/><rect x="993.7" y="901.6" width="3" height="3" fill="#FFA500"/>
</g>
<rect x="676.4" y="1012.3" width="67.0" height="44.7" rx="2" fill="#fff" fill-opacity="0.8" stroke="#ddd" stroke-width="0.7"/>
<path d="M679,1016.9H691" stroke="#FF0000" stroke-width="1.4"/><rect x="683.5" y="1015.4" width="3" height="3" fill="#FF0000"/><text x="695.8" y="1018.9" font-size="5.6" fill="#000" font-family='"DejaVu Sans", "Liberation Sans", sans-serif' xml:space="preserve">LINEAR_CCA</text>
<path d="M679,1025.7H691" stroke="#0000FF" stroke-width="1.4"/><rect x="683.5" y="1024.2" width="3" height="3" fill="#0000FF"/><text x="695.8" y="1027.7" font-size="5.6" fill="#000" font-family='"DejaVu Sans", "Liberation Sans", sans-serif' xml:space="preserve">DCCA</text>
<path d="M679,1034.5H691" stroke="#008000" stroke-width="1.4"/><rect x="683.5" y="1033.0" width="3" height="3" fill="#008000"/><text x="695.8" y="1036.5" font-size="5.6" fill="#000" font-family='"DejaVu Sans", "Liberation Sans", sans-serif' xml:space="preserve">DCCAE</text>
<path d="M679,1042.9H691" stroke="#800080" stroke-width="1.4"/><rect x="683.5" y="1041.4" width="3" height="3" fill="#800080"/><text x="695.8" y="1044.9" font-size="5.6" fill="#000" font-family='"DejaVu Sans", "Liberation Sans", sans-serif' xml:space="preserve">DCCA_PRIVATE</text>
<path d="M679,1051.7H691" stroke="#FFA500" stroke-width="1.4"/><rect x="683.5" y="1050.2" width="3" height="3" fill="#FFA500"/><text x="695.8" y="1053.7" font-size="5.6" fill="#000" font-family='"DejaVu Sans", "Liberation Sans", sans-serif' xml:space="preserve">NR-DCCA(ours)</text>
<rect x="673.7" y="896.4" width="336.8" height="163.7" fill="none" stroke="#b8b8b8" stroke-width="1"/>
<text x="717.4" y="1071.3" font-size="8.6" fill="#000" font-family='"DejaVu Sans", "Liberation Sans", sans-serif' text-anchor="middle" xml:space="preserve">200</text>
<text x="773.0" y="1071.3" font-size="8.6" fill="#000" font-family='"DejaVu Sans", "Liberation Sans", sans-serif' text-anchor="middle" xml:space="preserve">400</text>
<text x="828.5" y="1071.3" font-size="8.6" fill="#000" font-family='"DejaVu Sans", "Liberation Sans", sans-serif' text-anchor="middle" xml:space="preserve">600</text>
<text x="884.1" y="1071.3" font-size="8.6" fill="#000" font-family='"DejaVu Sans", "Liberation Sans", sans-serif' text-anchor="middle" xml:space="preserve">800</text>
<text x="939.6" y="1071.3" font-size="8.6" fill="#000" font-family='"DejaVu Sans", "Liberation Sans", sans-serif' text-anchor="middle" xml:space="preserve">1000</text>
<text x="995.2" y="1071.3" font-size="8.6" fill="#000" font-family='"DejaVu Sans", "Liberation Sans", sans-serif' text-anchor="middle" xml:space="preserve">1200</text>
<text x="669.8" y="909.7" font-size="8.6" fill="#000" font-family='"DejaVu Sans", "Liberation Sans", sans-serif' text-anchor="end" xml:space="preserve">0.35</text>
<text x="669.8" y="939.6" font-size="8.6" fill="#000" font-family='"DejaVu Sans", "Liberation Sans", sans-serif' text-anchor="end" xml:space="preserve">0.30</text>
<text x="669.8" y="969.4" font-size="8.6" fill="#000" font-family='"DejaVu Sans", "Liberation Sans", sans-serif' text-anchor="end" xml:space="preserve">0.25</text>
<text x="669.8" y="999.3" font-size="8.6" fill="#000" font-family='"DejaVu Sans", "Liberation Sans", sans-serif' text-anchor="end" xml:space="preserve">0.20</text>
<text x="669.8" y="1029.1" font-size="8.6" fill="#000" font-family='"DejaVu Sans", "Liberation Sans", sans-serif' text-anchor="end" xml:space="preserve">0.15</text>
<text x="669.8" y="1059.0" font-size="8.6" fill="#000" font-family='"DejaVu Sans", "Liberation Sans", sans-serif' text-anchor="end" xml:space="preserve">0.10</text>
<text x="849.6" y="1079.6" font-size="8.7" fill="#000" font-family='"DejaVu Sans", "Liberation Sans", sans-serif' text-anchor="middle" xml:space="preserve">Epoch</text>
<text transform="translate(648 978.2) rotate(-90)" text-anchor="middle" font-size="8.7" fill="#000">NESum_of_dnns</text>
</g>
<g id="cd" font-family='"DejaVu Sans", "Liberation Sans", sans-serif'>
<rect x="311.7" y="1136.3" width="316.1" height="159.9" fill="#fff" stroke="none"/>
<path d="M351.9,1136.3V1296.2M404.3,1136.3V1296.2M456.7,1136.3V1296.2M509.1,1136.3V1296.2M561.5,1136.3V1296.2M613.9,1136.3V1296.2M311.7,1157.3H627.8M311.7,1179.3H627.8M311.7,1201.3H627.8M311.7,1223.3H627.8M311.7,1245.3H627.8M311.7,1267.3H627.8M311.7,1289.3H627.8" stroke="#cfcfcf" stroke-width="0.7" stroke-dasharray="1.5 1.5" fill="none"/>
<clipPath id="cdc"><rect x="311.7" y="1136.3" width="316.1" height="159.9"/></clipPath><g clip-path="url(#cdc)">
<polyline points="325.7,1289.3 351.9,1289.3 404.3,1289.3 456.7,1289.3 509.1,1289.3 561.5,1289.3 613.9,1289.3" fill="none" stroke="#FF0000" stroke-width="1.4" stroke-linejoin="round"/><rect x="324.2" y="1287.8" width="3" height="3" fill="#FF0000"/><rect x="350.4" y="1287.8" width="3" height="3" fill="#FF0000"/><rect x="402.8" y="1287.8" width="3" height="3" fill="#FF0000"/><rect x="455.2" y="1287.8" width="3" height="3" fill="#FF0000"/><rect x="507.6" y="1287.8" width="3" height="3" fill="#FF0000"/><rect x="560.0" y="1287.8" width="3" height="3" fill="#FF0000"/><rect x="612.4" y="1287.8" width="3" height="3" fill="#FF0000"/>
<polyline points="325.7,1282.3 351.9,1267.3 404.3,1225.8 456.7,1192.1 509.1,1169.2 561.5,1154.2 613.9,1144.3" fill="none" stroke="#0000FF" stroke-width="1.4" stroke-linejoin="round"/><rect x="324.2" y="1280.8" width="3" height="3" fill="#0000FF"/><rect x="350.4" y="1265.8" width="3" height="3" fill="#0000FF"/><rect x="402.8" y="1224.3" width="3" height="3" fill="#0000FF"/><rect x="455.2" y="1190.6" width="3" height="3" fill="#0000FF"/><rect x="507.6" y="1167.7" width="3" height="3" fill="#0000FF"/><rect x="560.0" y="1152.7" width="3" height="3" fill="#0000FF"/><rect x="612.4" y="1142.8" width="3" height="3" fill="#0000FF"/>
<polyline points="325.7,1282.3 351.9,1266.4 404.3,1222.4 456.7,1188.7 509.1,1167.9 561.5,1154.2 613.9,1144.3" fill="none" stroke="#008000" stroke-width="1.4" stroke-linejoin="round"/><rect x="324.2" y="1280.8" width="3" height="3" fill="#008000"/><rect x="350.4" y="1264.9" width="3" height="3" fill="#008000"/><rect x="402.8" y="1220.9" width="3" height="3" fill="#008000"/><rect x="455.2" y="1187.2" width="3" height="3" fill="#008000"/><rect x="507.6" y="1166.4" width="3" height="3" fill="#008000"/><rect x="560.0" y="1152.7" width="3" height="3" fill="#008000"/><rect x="612.4" y="1142.8" width="3" height="3" fill="#008000"/>
<polyline points="325.7,1289.3 351.9,1289.3 404.3,1289.3 456.7,1289.3 509.1,1289.3 561.5,1288.9 613.9,1288.9" fill="none" stroke="#800080" stroke-width="1.4" stroke-linejoin="round"/><rect x="324.2" y="1287.8" width="3" height="3" fill="#800080"/><rect x="350.4" y="1287.8" width="3" height="3" fill="#800080"/><rect x="402.8" y="1287.8" width="3" height="3" fill="#800080"/><rect x="455.2" y="1287.8" width="3" height="3" fill="#800080"/><rect x="507.6" y="1287.8" width="3" height="3" fill="#800080"/><rect x="560.0" y="1287.4" width="3" height="3" fill="#800080"/><rect x="612.4" y="1287.4" width="3" height="3" fill="#800080"/>
<polyline points="325.7,1289.0 351.9,1289.0 404.3,1289.0 456.7,1288.9 509.1,1288.9 561.5,1288.8 613.9,1288.7" fill="none" stroke="#FFA500" stroke-width="1.4" stroke-linejoin="round"/><rect x="324.2" y="1287.5" width="3" height="3" fill="#FFA500"/><rect x="350.4" y="1287.5" width="3" height="3" fill="#FFA500"/><rect x="402.8" y="1287.5" width="3" height="3" fill="#FFA500"/><rect x="455.2" y="1287.4" width="3" height="3" fill="#FFA500"/><rect x="507.6" y="1287.4" width="3" height="3" fill="#FFA500"/><rect x="560.0" y="1287.3" width="3" height="3" fill="#FFA500"/><rect x="612.4" y="1287.2" width="3" height="3" fill="#FFA500"/>
</g>
<rect x="314" y="1249.5" width="65" height="44.0" rx="2" fill="#fff" fill-opacity="0.8" stroke="#ddd" stroke-width="0.7"/>
<path d="M316.5,1254.1H328" stroke="#FF0000" stroke-width="1.4"/><rect x="320.8" y="1252.6" width="3" height="3" fill="#FF0000"/><text x="332.6" y="1256.0" font-size="5.3" fill="#000" font-family='"DejaVu Sans", "Liberation Sans", sans-serif' xml:space="preserve">LINEAR_CCA</text>
<path d="M316.5,1262.9H328" stroke="#0000FF" stroke-width="1.4"/><rect x="320.8" y="1261.4" width="3" height="3" fill="#0000FF"/><text x="332.6" y="1264.8" font-size="5.3" fill="#000" font-family='"DejaVu Sans", "Liberation Sans", sans-serif' xml:space="preserve">DCCA</text>
<path d="M316.5,1271.4H328" stroke="#008000" stroke-width="1.4"/><rect x="320.8" y="1269.9" width="3" height="3" fill="#008000"/><text x="332.6" y="1273.3" font-size="5.3" fill="#000" font-family='"DejaVu Sans", "Liberation Sans", sans-serif' xml:space="preserve">DCCAE</text>
<path d="M316.5,1279.8H328" stroke="#800080" stroke-width="1.4"/><rect x="320.8" y="1278.3" width="3" height="3" fill="#800080"/><text x="332.6" y="1281.7" font-size="5.3" fill="#000" font-family='"DejaVu Sans", "Liberation Sans", sans-serif' xml:space="preserve">DCCA_PRIVATE</text>
<path d="M316.5,1288.6H328" stroke="#FFA500" stroke-width="1.4"/><rect x="320.8" y="1287.1" width="3" height="3" fill="#FFA500"/><text x="332.6" y="1290.5" font-size="5.3" fill="#000" font-family='"DejaVu Sans", "Liberation Sans", sans-serif' xml:space="preserve">NR-DCCA(ours)</text>
<rect x="311.7" y="1136.3" width="316.1" height="159.9" fill="none" stroke="#b8b8b8" stroke-width="1"/>
<text x="351.9" y="1307.4" font-size="8.6" fill="#000" font-family='"DejaVu Sans", "Liberation Sans", sans-serif' text-anchor="middle" xml:space="preserve">200</text>
<text x="404.3" y="1307.4" font-size="8.6" fill="#000" font-family='"DejaVu Sans", "Liberation Sans", sans-serif' text-anchor="middle" xml:space="preserve">400</text>
<text x="456.7" y="1307.4" font-size="8.6" fill="#000" font-family='"DejaVu Sans", "Liberation Sans", sans-serif' text-anchor="middle" xml:space="preserve">600</text>
<text x="509.1" y="1307.4" font-size="8.6" fill="#000" font-family='"DejaVu Sans", "Liberation Sans", sans-serif' text-anchor="middle" xml:space="preserve">800</text>
<text x="561.5" y="1307.4" font-size="8.6" fill="#000" font-family='"DejaVu Sans", "Liberation Sans", sans-serif' text-anchor="middle" xml:space="preserve">1000</text>
<text x="613.9" y="1307.4" font-size="8.6" fill="#000" font-family='"DejaVu Sans", "Liberation Sans", sans-serif' text-anchor="middle" xml:space="preserve">1200</text>
<text x="307.8" y="1160.4" font-size="8.6" fill="#000" font-family='"DejaVu Sans", "Liberation Sans", sans-serif' text-anchor="end" xml:space="preserve">0.000150</text>
<text x="307.8" y="1182.4" font-size="8.6" fill="#000" font-family='"DejaVu Sans", "Liberation Sans", sans-serif' text-anchor="end" xml:space="preserve">0.000125</text>
<text x="307.8" y="1204.4" font-size="8.6" fill="#000" font-family='"DejaVu Sans", "Liberation Sans", sans-serif' text-anchor="end" xml:space="preserve">0.000100</text>
<text x="307.8" y="1226.4" font-size="8.6" fill="#000" font-family='"DejaVu Sans", "Liberation Sans", sans-serif' text-anchor="end" xml:space="preserve">0.000075</text>
<text x="307.8" y="1248.4" font-size="8.6" fill="#000" font-family='"DejaVu Sans", "Liberation Sans", sans-serif' text-anchor="end" xml:space="preserve">0.000050</text>
<text x="307.8" y="1270.4" font-size="8.6" fill="#000" font-family='"DejaVu Sans", "Liberation Sans", sans-serif' text-anchor="end" xml:space="preserve">0.000025</text>
<text x="307.8" y="1292.4" font-size="8.6" fill="#000" font-family='"DejaVu Sans", "Liberation Sans", sans-serif' text-anchor="end" xml:space="preserve">0.000000</text>
<text x="471.8" y="1314.7" font-size="8.6" fill="#000" font-family='"DejaVu Sans", "Liberation Sans", sans-serif' text-anchor="middle" xml:space="preserve">Epoch</text>
<text transform="translate(265 1216.2) rotate(-90)" text-anchor="middle" font-size="8.6" fill="#000">Reconstruction Loss</text>
</g>
<g id="ce" font-family='"DejaVu Sans", "Liberation Sans", sans-serif'>
<rect x="668" y="1129.8" width="342.5" height="165.3" fill="#fff" stroke="none"/>
<path d="M712.0,1129.8V1295.1M768.6,1129.8V1295.1M825.2,1129.8V1295.1M881.8,1129.8V1295.1M938.4,1129.8V1295.1M995.0,1129.8V1295.1M668,1147.4H1010.5M668,1175.6H1010.5M668,1203.7H1010.5M668,1231.9H1010.5M668,1260.0H1010.5M668,1288.2H1010.5" stroke="#cfcfcf" stroke-width="0.7" stroke-dasharray="1.5 1.5" fill="none"/>
<clipPath id="cec"><rect x="668" y="1129.8" width="342.5" height="165.3"/></clipPath><g clip-path="url(#cec)">
<polyline points="683.7,1288.2 712.0,1288.2 768.6,1288.2 825.2,1288.2 881.8,1288.2 938.4,1288.2 995.0,1288.2" fill="none" stroke="#FF0000" stroke-width="1.4" stroke-linejoin="round"/><rect x="682.2" y="1286.7" width="3" height="3" fill="#FF0000"/><rect x="710.5" y="1286.7" width="3" height="3" fill="#FF0000"/><rect x="767.1" y="1286.7" width="3" height="3" fill="#FF0000"/><rect x="823.7" y="1286.7" width="3" height="3" fill="#FF0000"/><rect x="880.3" y="1286.7" width="3" height="3" fill="#FF0000"/><rect x="936.9" y="1286.7" width="3" height="3" fill="#FF0000"/><rect x="993.5" y="1286.7" width="3" height="3" fill="#FF0000"/>
<polyline points="683.7,1278.3 712.0,1264.3 768.6,1230.0 825.2,1196.4 881.8,1169.2 938.4,1150.1 995.0,1137.1" fill="none" stroke="#0000FF" stroke-width="1.4" stroke-linejoin="round"/><rect x="682.2" y="1276.8" width="3" height="3" fill="#0000FF"/><rect x="710.5" y="1262.8" width="3" height="3" fill="#0000FF"/><rect x="767.1" y="1228.5" width="3" height="3" fill="#0000FF"/><rect x="823.7" y="1194.9" width="3" height="3" fill="#0000FF"/><rect x="880.3" y="1167.7" width="3" height="3" fill="#0000FF"/><rect x="936.9" y="1148.6" width="3" height="3" fill="#0000FF"/><rect x="993.5" y="1135.6" width="3" height="3" fill="#0000FF"/>
<polyline points="683.7,1278.6 712.0,1264.5 768.6,1232.4 825.2,1201.5 881.8,1178.1 938.4,1158.7 995.0,1147.1" fill="none" stroke="#008000" stroke-width="1.4" stroke-linejoin="round"/><rect x="682.2" y="1277.1" width="3" height="3" fill="#008000"/><rect x="710.5" y="1263.0" width="3" height="3" fill="#008000"/><rect x="767.1" y="1230.9" width="3" height="3" fill="#008000"/><rect x="823.7" y="1200.0" width="3" height="3" fill="#008000"/><rect x="880.3" y="1176.6" width="3" height="3" fill="#008000"/><rect x="936.9" y="1157.2" width="3" height="3" fill="#008000"/><rect x="993.5" y="1145.6" width="3" height="3" fill="#008000"/>
<polyline points="683.7,1287.1 712.0,1285.4 768.6,1281.3 825.2,1277.5 881.8,1274.8 938.4,1274.4 995.0,1275.5" fill="none" stroke="#800080" stroke-width="1.4" stroke-linejoin="round"/><rect x="682.2" y="1285.6" width="3" height="3" fill="#800080"/><rect x="710.5" y="1283.9" width="3" height="3" fill="#800080"/><rect x="767.1" y="1279.8" width="3" height="3" fill="#800080"/><rect x="823.7" y="1276.0" width="3" height="3" fill="#800080"/><rect x="880.3" y="1273.3" width="3" height="3" fill="#800080"/><rect x="936.9" y="1272.9" width="3" height="3" fill="#800080"/><rect x="993.5" y="1274.0" width="3" height="3" fill="#800080"/>
<polyline points="683.7,1287.4 712.0,1285.9 768.6,1284.0 825.2,1281.7 881.8,1279.0 938.4,1275.5 995.0,1271.3" fill="none" stroke="#FFA500" stroke-width="1.4" stroke-linejoin="round"/><rect x="682.2" y="1285.9" width="3" height="3" fill="#FFA500"/><rect x="710.5" y="1284.4" width="3" height="3" fill="#FFA500"/><rect x="767.1" y="1282.5" width="3" height="3" fill="#FFA500"/><rect x="823.7" y="1280.2" width="3" height="3" fill="#FFA500"/><rect x="880.3" y="1277.5" width="3" height="3" fill="#FFA500"/><rect x="936.9" y="1274.0" width="3" height="3" fill="#FFA500"/><rect x="993.5" y="1269.8" width="3" height="3" fill="#FFA500"/>
</g>
<rect x="670.7" y="1246.5" width="66.9" height="45.1" rx="2" fill="#fff" fill-opacity="0.8" stroke="#ddd" stroke-width="0.7"/>
<path d="M673.2,1251.4H685" stroke="#FF0000" stroke-width="1.4"/><rect x="677.6" y="1249.9" width="3" height="3" fill="#FF0000"/><text x="689.7" y="1253.4" font-size="5.6" fill="#000" font-family='"DejaVu Sans", "Liberation Sans", sans-serif' xml:space="preserve">LINEAR_CCA</text>
<path d="M673.2,1260.2H685" stroke="#0000FF" stroke-width="1.4"/><rect x="677.6" y="1258.7" width="3" height="3" fill="#0000FF"/><text x="689.7" y="1262.2" font-size="5.6" fill="#000" font-family='"DejaVu Sans", "Liberation Sans", sans-serif' xml:space="preserve">DCCA</text>
<path d="M673.2,1269H685" stroke="#008000" stroke-width="1.4"/><rect x="677.6" y="1267.5" width="3" height="3" fill="#008000"/><text x="689.7" y="1271.0" font-size="5.6" fill="#000" font-family='"DejaVu Sans", "Liberation Sans", sans-serif' xml:space="preserve">DCCAE</text>
<path d="M673.2,1277.8H685" stroke="#800080" stroke-width="1.4"/><rect x="677.6" y="1276.3" width="3" height="3" fill="#800080"/><text x="689.7" y="1279.8" font-size="5.6" fill="#000" font-family='"DejaVu Sans", "Liberation Sans", sans-serif' xml:space="preserve">DCCA_PRIVATE</text>
<path d="M673.2,1286.6H685" stroke="#FFA500" stroke-width="1.4"/><rect x="677.6" y="1285.1" width="3" height="3" fill="#FFA500"/><text x="689.7" y="1288.6" font-size="5.6" fill="#000" font-family='"DejaVu Sans", "Liberation Sans", sans-serif' xml:space="preserve">NR-DCCA(ours)</text>
<rect x="668" y="1129.8" width="342.5" height="165.3" fill="none" stroke="#b8b8b8" stroke-width="1"/>
<text x="712.0" y="1306.3" font-size="8.6" fill="#000" font-family='"DejaVu Sans", "Liberation Sans", sans-serif' text-anchor="middle" xml:space="preserve">200</text>
<text x="768.6" y="1306.3" font-size="8.6" fill="#000" font-family='"DejaVu Sans", "Liberation Sans", sans-serif' text-anchor="middle" xml:space="preserve">400</text>
<text x="825.2" y="1306.3" font-size="8.6" fill="#000" font-family='"DejaVu Sans", "Liberation Sans", sans-serif' text-anchor="middle" xml:space="preserve">600</text>
<text x="881.8" y="1306.3" font-size="8.6" fill="#000" font-family='"DejaVu Sans", "Liberation Sans", sans-serif' text-anchor="middle" xml:space="preserve">800</text>
<text x="938.4" y="1306.3" font-size="8.6" fill="#000" font-family='"DejaVu Sans", "Liberation Sans", sans-serif' text-anchor="middle" xml:space="preserve">1000</text>
<text x="995.0" y="1306.3" font-size="8.6" fill="#000" font-family='"DejaVu Sans", "Liberation Sans", sans-serif' text-anchor="middle" xml:space="preserve">1200</text>
<text x="664.1" y="1150.5" font-size="8.6" fill="#000" font-family='"DejaVu Sans", "Liberation Sans", sans-serif' text-anchor="end" xml:space="preserve">0.5</text>
<text x="664.1" y="1178.7" font-size="8.6" fill="#000" font-family='"DejaVu Sans", "Liberation Sans", sans-serif' text-anchor="end" xml:space="preserve">0.4</text>
<text x="664.1" y="1206.8" font-size="8.6" fill="#000" font-family='"DejaVu Sans", "Liberation Sans", sans-serif' text-anchor="end" xml:space="preserve">0.3</text>
<text x="664.1" y="1235.0" font-size="8.6" fill="#000" font-family='"DejaVu Sans", "Liberation Sans", sans-serif' text-anchor="end" xml:space="preserve">0.2</text>
<text x="664.1" y="1263.1" font-size="8.6" fill="#000" font-family='"DejaVu Sans", "Liberation Sans", sans-serif' text-anchor="end" xml:space="preserve">0.1</text>
<text x="664.1" y="1291.3" font-size="8.6" fill="#000" font-family='"DejaVu Sans", "Liberation Sans", sans-serif' text-anchor="end" xml:space="preserve">0.0</text>
<text x="848.2" y="1314.6" font-size="8.7" fill="#000" font-family='"DejaVu Sans", "Liberation Sans", sans-serif' text-anchor="middle" xml:space="preserve">Epoch</text>
<text transform="translate(647.5 1212.4) rotate(-90)" text-anchor="middle" font-size="8.7" fill="#000">Denoising Loss</text>
</g>
<text x="624.8" y="868.7" font-size="16.6" fill="#000" font-family='"Liberation Serif", "DejaVu Serif", serif' text-anchor="middle" xml:space="preserve">(a) Performance</text>
<text x="443" y="1103.8" font-size="16.6" fill="#000" font-family='"Liberation Serif", "DejaVu Serif", serif' text-anchor="middle" xml:space="preserve">(b) Correlation</text>
<text x="825.6" y="1103.8" font-size="16.6" fill="#000" font-family='"Liberation Serif", "DejaVu Serif", serif' text-anchor="middle" xml:space="preserve">(c) NESum of weight matrices</text>
<text x="443" y="1338.3" font-size="16.6" fill="#000" font-family='"Liberation Serif", "DejaVu Serif", serif' text-anchor="middle" xml:space="preserve">(d) Reconstruction</text>
<text x="825.6" y="1338.3" font-size="16.6" fill="#000" font-family='"Liberation Serif", "DejaVu Serif", serif' text-anchor="middle" xml:space="preserve">(e) Denoisng</text>
<text x="80" y="1397" font-size="28" fill="#000" font-family='"Liberation Sans", sans-serif' textLength="992" lengthAdjust="spacingAndGlyphs" xml:space="preserve"><tspan>DCCA-based methods suffer </tspan><tspan font-weight="bold">from performance degradation</tspan><tspan> during training,</tspan></text>
<text x="80" y="1436" font-size="28" fill="#000" font-family='"Liberation Sans", sans-serif' textLength="1140" lengthAdjust="spacingAndGlyphs" xml:space="preserve"><tspan font-weight="bold">along with</tspan><tspan> which the network weight matrix becomes low-rank, the representation and</tspan></text>
<text x="80" y="1475" font-size="28" fill="#000" font-family='"Liberation Sans", sans-serif' textLength="1106" lengthAdjust="spacingAndGlyphs" xml:space="preserve">noise correlation increases, and linear reconstruction and denoising become difficult.</text>
</g>
<g id="panel2">
<g stroke="#000" stroke-width="1.1" stroke-linejoin="miter"><path d="M55.3,1655.6 L82.8,1670.8 L64.3,1671.1 Z" fill="#fff"/><path d="M64.3,1671.1 L82.8,1670.8 L55.3,1687.1 Z" fill="#000"/></g>
<text x="98.5" y="1687.6" font-size="39.5" fill="#000" font-family='"Liberation Sans", sans-serif' textLength="1075.3" lengthAdjust="spacingAndGlyphs" xml:space="preserve">The model collapse issue in DCCA-based methods for MVRL  is</text>
<text x="49.7" y="1738.4" font-size="39.5" fill="#000" font-family='"Liberation Sans", sans-serif' textLength="701.3" lengthAdjust="spacingAndGlyphs" xml:space="preserve">identified, demonstrated,and explained.</text>
<g stroke="#000" stroke-width="1.1" stroke-linejoin="miter"><path d="M50.5,1790.2 L78.0,1805.4 L59.5,1805.7 Z" fill="#fff"/><path d="M59.5,1805.7 L78.0,1805.4 L50.5,1821.7 Z" fill="#000"/></g>
<text x="96" y="1822.2" font-size="39.5" fill="#000" font-family='"Liberation Sans", sans-serif' textLength="1110.4" lengthAdjust="spacingAndGlyphs" xml:space="preserve">A simple yet effective noise regularization approach is proposed</text>
<text x="47" y="1873.3" font-size="39.5" fill="#000" font-family='"Liberation Sans", sans-serif' textLength="938" lengthAdjust="spacingAndGlyphs" xml:space="preserve">and NR-DCCA is developed to prevent model collapse.</text>
<g stroke="#000" stroke-width="1.1" stroke-linejoin="miter"><path d="M50.5,1924 L78.0,1939.2 L59.5,1939.5 Z" fill="#fff"/><path d="M59.5,1939.5 L78.0,1939.2 L50.5,1955.5 Z" fill="#000"/></g>
<text x="96" y="1956" font-size="39.5" fill="#000" font-family='"Liberation Sans", sans-serif' textLength="1037" lengthAdjust="spacingAndGlyphs" xml:space="preserve">Rigorous proofs are provided to demonstrate that CIP is the</text>
<text x="47" y="2007.2" font-size="39.5" fill="#000" font-family='"Liberation Sans", sans-serif' textLength="1124" lengthAdjust="spacingAndGlyphs" xml:space="preserve">equal condition of the full-rank weight matrix, which justifies the</text>
<text x="47" y="2058.9" font-size="39.5" fill="#000" font-family='"Liberation Sans", sans-serif' textLength="961.9" lengthAdjust="spacingAndGlyphs" xml:space="preserve">developed NR approach from a theoretical perspective.</text>
<g stroke="#000" stroke-width="1.1" stroke-linejoin="miter"><path d="M50.5,2103.6 L78.0,2118.7999999999997 L59.5,2119.1 Z" fill="#fff"/><path d="M59.5,2119.1 L78.0,2118.7999999999997 L50.5,2135.1 Z" fill="#000"/></g>
<text x="96" y="2135.6" font-size="39.5" fill="#000" font-family='"Liberation Sans", sans-serif' textLength="1103.4" lengthAdjust="spacingAndGlyphs" xml:space="preserve">A novel framework is proposed to construct synthetic data with</text>
<text x="47" y="2186.8" font-size="39.5" fill="#000" font-family='"Liberation Sans", sans-serif' textLength="952.6" lengthAdjust="spacingAndGlyphs" xml:space="preserve">different common and complementary information for</text>
<text x="47" y="2238.5" font-size="39.5" fill="#000" font-family='"Liberation Sans", sans-serif' textLength="772" lengthAdjust="spacingAndGlyphs" xml:space="preserve">comprehensively evaluating MVRL methods.</text>
</g>
<g id="panel3">
<rect x="1575.5" y="552" width="612" height="179.5" rx="29" fill="#F2F2F2" stroke="#8497B0" stroke-width="1.1" stroke-dasharray="3.2 3.2"/>
<rect x="1396" y="773" width="238.5" height="388.5" rx="38" fill="#E2F0D9" stroke="#A9D18E" stroke-width="1.1" stroke-dasharray="3.2 3.2"/>
<rect x="2109" y="762.5" width="230" height="395" rx="40" fill="#E2F0D9" stroke="#A9D18E" stroke-width="1.1" stroke-dasharray="3.2 3.2"/>
<rect x="1660.5" y="750" width="402.5" height="426" rx="62" fill="#E7E6E6" stroke="#A9D18E" stroke-width="1.1" stroke-dasharray="3.2 3.2"/>
<text x="1896.3" y="576.2" font-size="17.8" fill="#000" font-family='"Liberation Sans", "DejaVu Sans", sans-serif' font-weight="bold" text-anchor="middle" textLength="134" lengthAdjust="spacingAndGlyphs" xml:space="preserve">Multi-view Data</text>
<path d="M1639,608.3 C1684,579.3 1873.2,579.3 1918.2,611.8" fill="none" stroke="#70AD47" stroke-width="1.8"/><path d="M1636.5,610.8 l8.5,-2 l-4.6,-5.6 Z" fill="#70AD47"/><path d="M1920.7,614.3 l-8.5,-2 l4.6,-5.6 Z" fill="#70AD47"/>
<path d="M1698,609 C1743,579.3 1975,579.3 2020,610.2" fill="none" stroke="#70AD47" stroke-width="1.8"/><path d="M1695.5,611.5 l8.5,-2 l-4.6,-5.6 Z" fill="#70AD47"/><path d="M2022.5,612.7 l-8.5,-2 l4.6,-5.6 Z" fill="#70AD47"/>
<path d="M1780.3,608.3 C1825.3,579.3 2092.3,579.3 2137.3,609" fill="none" stroke="#70AD47" stroke-width="1.8"/><path d="M1777.8,610.8 l8.5,-2 l-4.6,-5.6 Z" fill="#70AD47"/><path d="M2139.8,611.5 l-8.5,-2 l4.6,-5.6 Z" fill="#70AD47"/>
<text x="1637" y="625.7" font-size="10.5" fill="#000" font-family='"Liberation Sans", "DejaVu Sans", sans-serif' font-weight="bold" text-anchor="middle" xml:space="preserve">1</text>
<text x="1697" y="625.7" font-size="10.5" fill="#000" font-family='"Liberation Sans", "DejaVu Sans", sans-serif' font-weight="bold" text-anchor="middle" xml:space="preserve">2</text>
<text x="1779" y="624.5" font-size="10.5" fill="#000" font-family='"Liberation Sans", "DejaVu Sans", sans-serif' font-weight="bold" text-anchor="middle" xml:space="preserve">n</text>
<text x="1918" y="629" font-size="10.5" fill="#000" font-family='"Liberation Sans", "DejaVu Sans", sans-serif' font-weight="bold" text-anchor="middle" xml:space="preserve">1</text>
<text x="2020" y="627" font-size="10.5" fill="#000" font-family='"Liberation Sans", "DejaVu Sans", sans-serif' font-weight="bold" text-anchor="middle" xml:space="preserve">2</text>
<text x="2137" y="626" font-size="10.5" fill="#000" font-family='"Liberation Sans", "DejaVu Sans", sans-serif' font-weight="bold" text-anchor="middle" xml:space="preserve">n</text>
<filter id="bblur" x="-10%" y="-10%" width="120%" height="120%"><feGaussianBlur stdDeviation="0.9"/></filter><clipPath id="b1"><rect x="1608" y="633.2" width="57.1" height="56"/></clipPath><g clip-path="url(#b1)"><g filter="url(#bblur)"><rect x="1608" y="633.2" width="57.1" height="56" fill="#4E7F3C"/><ellipse cx="1619.42" cy="650.0" rx="17.13" ry="22.400000000000002" fill="#6F9A55"/><ellipse cx="1656.535" cy="650.0" rx="11.420000000000002" ry="19.599999999999998" fill="#3F6B4A"/><path d="M1608,686.4000000000001 L1665.1,667.9200000000001 L1665.1,676.88 L1619.42,689.2 Z" fill="#B9B3A9"/><ellipse cx="1636.55" cy="664.0" rx="11.420000000000002" ry="16.8" fill="#A58F78" transform="rotate(35 1636.55 664.0)"/><circle cx="1644.544" cy="650.0" r="7.423" fill="#BCA48A"/><path d="M1650.825,648.32 L1657.677,646.6400000000001 L1651.396,651.6800000000001 Z" fill="#8A7560"/><path d="M1630.84,672.4000000000001 L1616.565,686.4000000000001 L1625.13,683.6 Z" fill="#8E7B66"/></g></g>
<clipPath id="b2"><rect x="1675.5" y="633.2" width="55.5" height="56"/></clipPath><g clip-path="url(#b2)"><g filter="url(#bblur)"><rect x="1675.5" y="633.2" width="55.5" height="56" fill="#7C9362"/><ellipse cx="1689.375" cy="652.8000000000001" rx="16.65" ry="25.2" fill="#93A878"/><ellipse cx="1722.675" cy="661.2" rx="11.100000000000001" ry="28.0" fill="#A9B48F"/><path d="M1675.5,678.0 L1731.0,673.5200000000001 L1731.0,683.6 L1675.5,689.2 Z" fill="#8F8877"/><ellipse cx="1704.36" cy="661.2" rx="9.435" ry="16.8" fill="#3B6FB5" transform="rotate(40 1704.36 661.2)"/><circle cx="1712.13" cy="645.5200000000001" r="6.66" fill="#2F69C4"/><path d="M1718.235,644.4000000000001 L1724.34,644.4000000000001 L1718.235,648.32 Z" fill="#39465A"/><path d="M1697.7,669.6 L1685.49,683.6 L1694.37,680.8000000000001 Z" fill="#2C4F86"/></g></g>
<clipPath id="b3"><rect x="1758.6" y="632.4" width="56.2" height="55.7"/></clipPath><g clip-path="url(#b3)"><g filter="url(#bblur)"><rect x="1758.6" y="632.4" width="56.2" height="55.7" fill="#2E6A14"/><ellipse cx="1803.56" cy="649.11" rx="16.86" ry="25.065" fill="#6DB53A"/><ellipse cx="1764.2199999999998" cy="649.11" rx="14.05" ry="27.85" fill="#174A0C"/><path d="M1758.6,688.1 L1764.2199999999998,674.175 Q1778.27,651.895 1792.32,653.566 L1797.9399999999998,688.1 Z" fill="#7E7B35"/><path d="M1778.27,688.1 Q1781.08,665.8199999999999 1793.444,666.934 L1796.8159999999998,688.1 Z" fill="#E6D417"/><ellipse cx="1794.0059999999999" cy="660.25" rx="7.306000000000001" ry="8.355" fill="#1B1B18"/><path d="M1799.0639999999999,658.579 L1808.0559999999998,661.9209999999999 L1799.0639999999999,664.706 Z" fill="#C99A8C"/><ellipse cx="1789.51" cy="653.566" rx="7.868000000000001" ry="5.57" fill="#8A8640"/></g></g>
<text x="1742.5" y="660.5" font-size="17" fill="#000" font-family='"Liberation Sans", "DejaVu Sans", sans-serif' font-weight="bold" text-anchor="middle" xml:space="preserve">...</text>
<text x="2080.3" y="660.5" font-size="17" fill="#000" font-family='"Liberation Sans", "DejaVu Sans", sans-serif' font-weight="bold" text-anchor="middle" xml:space="preserve">...</text>
<text x="1875.3000000000002" y="644.5" font-size="11.6" fill="#3A3A3A" font-family='"Liberation Sans", "DejaVu Sans", sans-serif' textLength="86.9" lengthAdjust="spacingAndGlyphs" xml:space="preserve">This bird is brown</text>
<text x="1861.4" y="658.4" font-size="11.6" fill="#3A3A3A" font-family='"Liberation Sans", "DejaVu Sans", sans-serif' textLength="86.9" lengthAdjust="spacingAndGlyphs" xml:space="preserve">and white in color</text>
<text x="1861.4" y="672.6" font-size="11.6" fill="#3A3A3A" font-family='"Liberation Sans", "DejaVu Sans", sans-serif' textLength="102.2" lengthAdjust="spacingAndGlyphs" xml:space="preserve">with a small beak and</text>
<text x="1861.4" y="685.4" font-size="11.6" fill="#3A3A3A" font-family='"Liberation Sans", "DejaVu Sans", sans-serif' textLength="80.2" lengthAdjust="spacingAndGlyphs" xml:space="preserve">brown eye rings.</text>
<text x="1990.4" y="645.8" font-size="11.6" fill="#3A3A3A" font-family='"Liberation Sans", "DejaVu Sans", sans-serif' textLength="77.1" lengthAdjust="spacingAndGlyphs" xml:space="preserve">This bird is blue</text>
<text x="1976.5" y="660" font-size="11.6" fill="#3A3A3A" font-family='"Liberation Sans", "DejaVu Sans", sans-serif' textLength="68.7" lengthAdjust="spacingAndGlyphs" xml:space="preserve">with black tail</text>
<text x="1976.5" y="673.9" font-size="11.6" fill="#3A3A3A" font-family='"Liberation Sans", "DejaVu Sans", sans-serif' textLength="88.3" lengthAdjust="spacingAndGlyphs" xml:space="preserve">feathers and has a</text>
<text x="1976.5" y="687.3" font-size="11.6" fill="#3A3A3A" font-family='"Liberation Sans", "DejaVu Sans", sans-serif' textLength="77.6" lengthAdjust="spacingAndGlyphs" xml:space="preserve">very short beak.</text>
<text x="2110.4" y="645" font-size="11.6" fill="#3A3A3A" font-family='"Liberation Sans", "DejaVu Sans", sans-serif' textLength="63.4" lengthAdjust="spacingAndGlyphs" xml:space="preserve">This bird has</text>
<text x="2098.4" y="659.2" font-size="11.6" fill="#3A3A3A" font-family='"Liberation Sans", "DejaVu Sans", sans-serif' textLength="69.5" lengthAdjust="spacingAndGlyphs" xml:space="preserve">wings that are</text>
<text x="2098.4" y="673.1" font-size="11.6" fill="#3A3A3A" font-family='"Liberation Sans", "DejaVu Sans", sans-serif' textLength="80.2" lengthAdjust="spacingAndGlyphs" xml:space="preserve">brown and has a</text>
<text x="2098.4" y="686.8" font-size="11.6" fill="#3A3A3A" font-family='"Liberation Sans", "DejaVu Sans", sans-serif' textLength="59.3" lengthAdjust="spacingAndGlyphs" xml:space="preserve">yellow belly</text>
<text x="1650" y="722.1" font-size="15" fill="#3A3A3A" font-family='"Liberation Sans", "DejaVu Sans", sans-serif' textLength="66.5" lengthAdjust="spacingAndGlyphs" xml:space="preserve">GoogleNet</text>
<text x="1906.5" y="716.8" font-size="15" fill="#3A3A3A" font-family='"Liberation Sans", "DejaVu Sans", sans-serif' textLength="52.5" lengthAdjust="spacingAndGlyphs" xml:space="preserve">Doc2vec</text>
<linearGradient id="gbl" x1="0" y1="0" x2="0" y2="1"><stop offset="0" stop-color="#B4D0EE"/><stop offset="1" stop-color="#8FB8E3"/></linearGradient><linearGradient id="gor" x1="0" y1="0" x2="0" y2="1"><stop offset="0" stop-color="#F8C3A6"/><stop offset="1" stop-color="#F2A57C"/></linearGradient>
<path d="M1726.65,706 H1746.75 V761.8 H1756.7 L1736.7,781.1 L1716.7,761.8 H1726.65 Z" fill="url(#gbl)"/>
<path d="M1972.2,700.2 H1992.6000000000001 V757.5 H2002.2 L1982.4,777.9 L1962.6000000000001,757.5 H1972.2 Z" fill="url(#gor)"/>
<rect x="1463" y="796.2" width="18.2" height="18.1" fill="#AFABAB" stroke="#1F3864" stroke-width="0.9"/><rect x="1463" y="814.3" width="18.2" height="18.1" fill="#AFABAB" stroke="#1F3864" stroke-width="0.9"/><rect x="1463" y="832.4" width="18.2" height="18.1" fill="#D0CECE" stroke="#1F3864" stroke-width="0.9"/><rect x="1463" y="850.4" width="18.2" height="18.1" fill="#AFABAB" stroke="#1F3864" stroke-width="0.9"/><text x="1472.1" y="791.5" font-size="10.5" fill="#000" font-family='"Liberation Sans", "DejaVu Sans", sans-serif' font-weight="bold" text-anchor="middle" xml:space="preserve">1</text>

<rect x="1489.8" y="796.2" width="18.7" height="18.1" fill="#D0CECE" stroke="#1F3864" stroke-width="0.9"/><rect x="1489.8" y="814.3" width="18.7" height="18.1" fill="#767171" stroke="#1F3864" stroke-width="0.9"/><rect x="1489.8" y="832.4" width="18.7" height="18.1" fill="#F2F2F2" stroke="#1F3864" stroke-width="0.9"/><rect x="1489.8" y="850.4" width="18.7" height="18.1" fill="#F2F2F2" stroke="#1F3864" stroke-width="0.9"/><text x="1499.2" y="791.5" font-size="10.5" fill="#000" font-family='"Liberation Sans", "DejaVu Sans", sans-serif' font-weight="bold" text-anchor="middle" xml:space="preserve">2</text>

<rect x="1529.4" y="796.2" width="18.8" height="18.1" fill="#AFABAB" stroke="#1F3864" stroke-width="0.9"/><rect x="1529.4" y="814.3" width="18.8" height="18.1" fill="#C9C9C9" stroke="#1F3864" stroke-width="0.9"/><rect x="1529.4" y="832.4" width="18.8" height="18.1" fill="#F2F2F2" stroke="#1F3864" stroke-width="0.9"/><rect x="1529.4" y="850.4" width="18.8" height="18.1" fill="#F2F2F2" stroke="#1F3864" stroke-width="0.9"/><text x="1538.8" y="791.5" font-size="10.5" fill="#000" font-family='"Liberation Sans", "DejaVu Sans", sans-serif' font-weight="bold" text-anchor="middle" xml:space="preserve">n</text>

<text x="1519.0" y="836" font-size="15" fill="#000" font-family='"Liberation Sans", "DejaVu Sans", sans-serif' font-weight="bold" text-anchor="middle" xml:space="preserve">...</text>
<text x="1429" y="837.7" font-size="17.5" fill="#000" font-family='"Liberation Sans", "DejaVu Sans", sans-serif' font-weight="bold" xml:space="preserve"><tspan>A</tspan><tspan font-size="11" dy="3">1</tspan></text>
<path d="M1497.0,883.7 H1509.0 V913.2 H1515.5 L1503,926.6 L1490.5,913.2 H1497.0 Z" fill="#A5A5A5" stroke="#8C8C8C" stroke-width="0.8"/>
<linearGradient id="g1455" x1="0" y1="0" x2="0" y2="1"><stop offset="0" stop-color="#B4CDEC"/><stop offset="1" stop-color="#95B9E4"/></linearGradient><rect x="1455.8" y="944.3" width="99.6" height="31.3" rx="5" fill="url(#g1455)" stroke="#8FB2DD" stroke-width="0.9"/><text x="1503.6" y="965.6" font-size="21.5" fill="#4472C4" font-family='"Liberation Serif", "DejaVu Serif", serif' text-anchor="middle" xml:space="preserve"><tspan font-weight="bold" font-style="italic" font-size="21.5" font-family='"Liberation Serif", "DejaVu Serif", serif'>f</tspan><tspan font-weight="bold" font-style="italic" font-size="13.5" dy="4" font-family='"Liberation Serif", "DejaVu Serif", serif'>1</tspan></text>

<path d="M1497.0,995.1 H1509.0 V1023.8 H1515.5 L1503,1035.8 L1490.5,1023.8 H1497.0 Z" fill="#A5A5A5" stroke="#8C8C8C" stroke-width="0.8"/>
<rect x="1465.2" y="1066.6" width="18.2" height="18.1" fill="#262626" stroke="#1F3864" stroke-width="0.9"/><rect x="1465.2" y="1084.7" width="18.2" height="18.1" fill="#767171" stroke="#1F3864" stroke-width="0.9"/><rect x="1465.2" y="1102.8" width="18.2" height="18.1" fill="#7F7F7F" stroke="#1F3864" stroke-width="0.9"/><rect x="1465.2" y="1120.9" width="18.2" height="18.1" fill="#E7E6E6" stroke="#1F3864" stroke-width="0.9"/><text x="1474.3" y="1062" font-size="10.5" fill="#000" font-family='"Liberation Sans", "DejaVu Sans", sans-serif' font-weight="bold" text-anchor="middle" xml:space="preserve">1</text>

<rect x="1492" y="1066.6" width="18.7" height="18.1" fill="#AFABAB" stroke="#1F3864" stroke-width="0.9"/><rect x="1492" y="1084.7" width="18.7" height="18.1" fill="#AFABAB" stroke="#1F3864" stroke-width="0.9"/><rect x="1492" y="1102.8" width="18.7" height="18.1" fill="#262626" stroke="#1F3864" stroke-width="0.9"/><rect x="1492" y="1120.9" width="18.7" height="18.1" fill="#AFABAB" stroke="#1F3864" stroke-width="0.9"/><text x="1501.3" y="1062" font-size="10.5" fill="#000" font-family='"Liberation Sans", "DejaVu Sans", sans-serif' font-weight="bold" text-anchor="middle" xml:space="preserve">2</text>

<rect x="1532.1" y="1066.6" width="18.8" height="18.1" fill="#3B3838" stroke="#1F3864" stroke-width="0.9"/><rect x="1532.1" y="1084.7" width="18.8" height="18.1" fill="#AFABAB" stroke="#1F3864" stroke-width="0.9"/><rect x="1532.1" y="1102.8" width="18.8" height="18.1" fill="#D0CECE" stroke="#1F3864" stroke-width="0.9"/><rect x="1532.1" y="1120.9" width="18.8" height="18.1" fill="#D9D9D9" stroke="#1F3864" stroke-width="0.9"/><text x="1541.5" y="1062" font-size="10.5" fill="#000" font-family='"Liberation Sans", "DejaVu Sans", sans-serif' font-weight="bold" text-anchor="middle" xml:space="preserve">n</text>

<text x="1521.4" y="1107" font-size="15" fill="#000" font-family='"Liberation Sans", "DejaVu Sans", sans-serif' font-weight="bold" text-anchor="middle" xml:space="preserve">...</text>
<text x="1407.5" y="1106.8" font-size="17.5" fill="#000" font-family='"Liberation Sans", "DejaVu Sans", sans-serif' font-weight="bold" textLength="50.5" lengthAdjust="spacingAndGlyphs" xml:space="preserve"><tspan font-style="italic" font-size="21" font-family='"Liberation Serif", "DejaVu Serif", serif'>f</tspan><tspan font-size="11" dy="3">1</tspan><tspan dy="-3">(A</tspan><tspan font-size="11" dy="3">1</tspan><tspan dy="-3">)</tspan></text>
<path d="M1571.5,829.1 L1583.5,817.6 V821.1 H1676.8 V817.6 L1688.8,829.1 L1676.8,840.6 V837.1 H1583.5 V840.6 Z" fill="#fff" stroke="#7C8CA8" stroke-width="1.2" stroke-linejoin="miter"/><text x="1632.8" y="834.5" font-size="15.5" fill="#FF0000" font-family='"Liberation Sans", "DejaVu Sans", sans-serif' font-weight="bold" text-anchor="middle" textLength="32" lengthAdjust="spacingAndGlyphs" xml:space="preserve">Corr</text>
<path d="M1575.5,1103.6 L1587.5,1092.1 V1095.6 H1674.1 V1092.1 L1686.1,1103.6 L1674.1,1115.1 V1111.6 H1587.5 V1115.1 Z" fill="#fff" stroke="#7C8CA8" stroke-width="1.2" stroke-linejoin="miter"/><text x="1634.5" y="1109" font-size="15.5" fill="#FF0000" font-family='"Liberation Sans", "DejaVu Sans", sans-serif' font-weight="bold" text-anchor="middle" textLength="32" lengthAdjust="spacingAndGlyphs" xml:space="preserve">Corr</text>
<text x="1571.2" y="963" font-size="15.8" fill="#FF0000" font-family='"Liberation Sans", "DejaVu Sans", sans-serif' font-weight="bold" textLength="54.6" lengthAdjust="spacingAndGlyphs" xml:space="preserve">NR loss</text>
<path d="M1632.5,844.4 L1606.9,932.2" stroke="#FF0000" stroke-width="1.5" fill="none"/><path d="M1604.4,940.8 L1603.7,931.2 L1610.2,933.1 Z" fill="#FF0000"/>
<path d="M1632.5,1087.3 L1606.6,982.9" stroke="#FF0000" stroke-width="1.5" fill="none"/><path d="M1604.4,974.2 L1609.9,982.1 L1603.3,983.8 Z" fill="#FF0000"/>
<rect x="1699.5" y="798.3" width="18.5" height="17.6" fill="#9DC3E6" stroke="#1F3864" stroke-width="0.9"/><rect x="1699.5" y="815.8" width="18.5" height="17.6" fill="#1F3864" stroke="#1F3864" stroke-width="0.9"/><rect x="1699.5" y="833.4" width="18.5" height="17.6" fill="#2E75B6" stroke="#1F3864" stroke-width="0.9"/><rect x="1699.5" y="851.0" width="18.5" height="17.6" fill="#B4C7E7" stroke="#1F3864" stroke-width="0.9"/><text x="1708.8" y="793.5" font-size="10.5" fill="#000" font-family='"Liberation Sans", "DejaVu Sans", sans-serif' font-weight="bold" text-anchor="middle" xml:space="preserve">1</text>

<rect x="1726.3" y="798.3" width="18.5" height="17.6" fill="#2F5597" stroke="#1F3864" stroke-width="0.9"/><rect x="1726.3" y="815.8" width="18.5" height="17.6" fill="#9DC3E6" stroke="#1F3864" stroke-width="0.9"/><rect x="1726.3" y="833.4" width="18.5" height="17.6" fill="#1F4E79" stroke="#1F3864" stroke-width="0.9"/><rect x="1726.3" y="851.0" width="18.5" height="17.6" fill="#B4C7E7" stroke="#1F3864" stroke-width="0.9"/><text x="1735.5" y="793.5" font-size="10.5" fill="#000" font-family='"Liberation Sans", "DejaVu Sans", sans-serif' font-weight="bold" text-anchor="middle" xml:space="preserve">2</text>

<rect x="1766.4" y="798.3" width="18.5" height="17.6" fill="#B4C7E7" stroke="#1F3864" stroke-width="0.9"/><rect x="1766.4" y="815.8" width="18.5" height="17.6" fill="#1F3864" stroke="#1F3864" stroke-width="0.9"/><rect x="1766.4" y="833.4" width="18.5" height="17.6" fill="#B4C7E7" stroke="#1F3864" stroke-width="0.9"/><rect x="1766.4" y="851.0" width="18.5" height="17.6" fill="#2E75B6" stroke="#1F3864" stroke-width="0.9"/><text x="1775.7" y="793.5" font-size="10.5" fill="#000" font-family='"Liberation Sans", "DejaVu Sans", sans-serif' font-weight="bold" text-anchor="middle" xml:space="preserve">n</text>

<text x="1755.6" y="837" font-size="15" fill="#000" font-family='"Liberation Sans", "DejaVu Sans", sans-serif' font-weight="bold" text-anchor="middle" xml:space="preserve">...</text>
<text x="1793.5" y="837.7" font-size="17.5" fill="#5B9BD5" font-family='"Liberation Sans", "DejaVu Sans", sans-serif' xml:space="preserve"><tspan>X</tspan><tspan font-size="11" dy="3">1</tspan></text>
<path d="M1737.0,887.2 H1748.8000000000002 V915.3 H1755.2 L1742.9,928.7 L1730.6000000000001,915.3 H1737.0 Z" fill="#5B9BD5" stroke="#4A86C5" stroke-width="0.8"/>
<linearGradient id="g1689" x1="0" y1="0" x2="0" y2="1"><stop offset="0" stop-color="#B4CDEC"/><stop offset="1" stop-color="#95B9E4"/></linearGradient><rect x="1689.3" y="946.9" width="100.4" height="32.2" rx="5" fill="url(#g1689)" stroke="#8FB2DD" stroke-width="0.9"/><text x="1737.5" y="968.8" font-size="21.5" fill="#4472C4" font-family='"Liberation Serif", "DejaVu Serif", serif' text-anchor="middle" xml:space="preserve"><tspan font-weight="bold" font-style="italic" font-size="21.5" font-family='"Liberation Serif", "DejaVu Serif", serif'>f</tspan><tspan font-weight="bold" font-style="italic" font-size="13.5" dy="4" font-family='"Liberation Serif", "DejaVu Serif", serif'>1</tspan></text>

<path d="M1737.0,995.7 H1748.8000000000002 V1024.5 H1755.2 L1742.9,1037.2 L1730.6000000000001,1024.5 H1737.0 Z" fill="#5B9BD5" stroke="#4A86C5" stroke-width="0.8"/>
<rect x="1704" y="1065.3" width="19.3" height="17.8" fill="#70AD47" stroke="#1F3864" stroke-width="0.9"/><rect x="1704" y="1083.0" width="19.3" height="17.8" fill="#A9D18E" stroke="#1F3864" stroke-width="0.9"/><rect x="1704" y="1100.8" width="19.3" height="17.8" fill="#C5E0B4" stroke="#1F3864" stroke-width="0.9"/><rect x="1704" y="1118.5" width="19.3" height="17.8" fill="#548235" stroke="#1F3864" stroke-width="0.9"/><text x="1713.7" y="1060.5" font-size="10.5" fill="#000" font-family='"Liberation Sans", "DejaVu Sans", sans-serif' font-weight="bold" text-anchor="middle" xml:space="preserve">1</text>

<rect x="1730.8" y="1065.3" width="18.8" height="17.8" fill="#548235" stroke="#1F3864" stroke-width="0.9"/><rect x="1730.8" y="1083.0" width="18.8" height="17.8" fill="#A9D18E" stroke="#1F3864" stroke-width="0.9"/><rect x="1730.8" y="1100.8" width="18.8" height="17.8" fill="#548235" stroke="#1F3864" stroke-width="0.9"/><rect x="1730.8" y="1118.5" width="18.8" height="17.8" fill="#C5E0B4" stroke="#1F3864" stroke-width="0.9"/><text x="1740.2" y="1060.5" font-size="10.5" fill="#000" font-family='"Liberation Sans", "DejaVu Sans", sans-serif' font-weight="bold" text-anchor="middle" xml:space="preserve">2</text>

<rect x="1771" y="1065.3" width="18.7" height="17.8" fill="#385723" stroke="#1F3864" stroke-width="0.9"/><rect x="1771" y="1083.0" width="18.7" height="17.8" fill="#385723" stroke="#1F3864" stroke-width="0.9"/><rect x="1771" y="1100.8" width="18.7" height="17.8" fill="#548235" stroke="#1F3864" stroke-width="0.9"/><rect x="1771" y="1118.5" width="18.7" height="17.8" fill="#A9D18E" stroke="#1F3864" stroke-width="0.9"/><text x="1780.3" y="1060.5" font-size="10.5" fill="#000" font-family='"Liberation Sans", "DejaVu Sans", sans-serif' font-weight="bold" text-anchor="middle" xml:space="preserve">n</text>

<text x="1760.3" y="1105" font-size="15" fill="#000" font-family='"Liberation Sans", "DejaVu Sans", sans-serif' font-weight="bold" text-anchor="middle" xml:space="preserve">...</text>
<text x="1721" y="1161.7" font-size="16" fill="#4472C4" font-family='"Liberation Sans", "DejaVu Sans", sans-serif' textLength="42.5" lengthAdjust="spacingAndGlyphs" xml:space="preserve"><tspan font-style="italic" font-size="19" font-family='"Liberation Serif", "DejaVu Serif", serif'>f</tspan><tspan font-size="10" dy="3">1</tspan><tspan dy="-3">(X</tspan><tspan font-size="10" dy="3">1</tspan><tspan dy="-3">)</tspan></text>
<text x="1849.3" y="1078" font-size="13.2" fill="#70AD47" font-family='"Liberation Sans", "DejaVu Sans", sans-serif' font-weight="bold" textLength="52" lengthAdjust="spacingAndGlyphs" xml:space="preserve">CCA loss</text>
<path d="M1813.2,1100.3 L1825.2,1088.8 V1092.3 H1922 V1088.8 L1934,1100.3 L1922,1111.8 V1108.3 H1825.2 V1111.8 Z" fill="#fff" stroke="#7C8CA8" stroke-width="1.2" stroke-linejoin="miter"/><text x="1877.5" y="1104.6" font-size="15.5" fill="#70AD47" font-family='"Liberation Sans", "DejaVu Sans", sans-serif' font-weight="bold" text-anchor="middle" textLength="31.5" lengthAdjust="spacingAndGlyphs" xml:space="preserve">Corr</text>
<rect x="1945" y="799.6" width="19" height="17.7" fill="#FFE699" stroke="#1F3864" stroke-width="0.9"/><rect x="1945" y="817.3" width="19" height="17.7" fill="#FFE699" stroke="#1F3864" stroke-width="0.9"/><rect x="1945" y="835.0" width="19" height="17.7" fill="#7F6000" stroke="#1F3864" stroke-width="0.9"/><rect x="1945" y="852.7" width="19" height="17.7" fill="#FFE699" stroke="#1F3864" stroke-width="0.9"/><text x="1954.5" y="795" font-size="10.5" fill="#000" font-family='"Liberation Sans", "DejaVu Sans", sans-serif' font-weight="bold" text-anchor="middle" xml:space="preserve">1</text>

<rect x="1974.8" y="799.6" width="18.4" height="17.7" fill="#FFE699" stroke="#1F3864" stroke-width="0.9"/><rect x="1974.8" y="817.3" width="18.4" height="17.7" fill="#FFE699" stroke="#1F3864" stroke-width="0.9"/><rect x="1974.8" y="835.0" width="18.4" height="17.7" fill="#7F6000" stroke="#1F3864" stroke-width="0.9"/><rect x="1974.8" y="852.7" width="18.4" height="17.7" fill="#7F6000" stroke="#1F3864" stroke-width="0.9"/><text x="1984.0" y="795" font-size="10.5" fill="#000" font-family='"Liberation Sans", "DejaVu Sans", sans-serif' font-weight="bold" text-anchor="middle" xml:space="preserve">2</text>

<rect x="2012.3" y="799.6" width="18.7" height="17.7" fill="#BF9000" stroke="#1F3864" stroke-width="0.9"/><rect x="2012.3" y="817.3" width="18.7" height="17.7" fill="#7F6000" stroke="#1F3864" stroke-width="0.9"/><rect x="2012.3" y="835.0" width="18.7" height="17.7" fill="#FFE699" stroke="#1F3864" stroke-width="0.9"/><rect x="2012.3" y="852.7" width="18.7" height="17.7" fill="#FFE699" stroke="#1F3864" stroke-width="0.9"/><text x="2021.7" y="795" font-size="10.5" fill="#000" font-family='"Liberation Sans", "DejaVu Sans", sans-serif' font-weight="bold" text-anchor="middle" xml:space="preserve">n</text>

<text x="2002.8" y="838" font-size="15" fill="#000" font-family='"Liberation Sans", "DejaVu Sans", sans-serif' font-weight="bold" text-anchor="middle" xml:space="preserve">...</text>
<text x="1911.5" y="832.9" font-size="17.5" fill="#ED7D31" font-family='"Liberation Sans", "DejaVu Sans", sans-serif' xml:space="preserve"><tspan>X</tspan><tspan font-size="11" dy="3">2</tspan></text>
<path d="M1979.3,886.7 H1991.3 V914.8 H1997.5 L1985.3,927.4 L1973.1,914.8 H1979.3 Z" fill="#ED7D31" stroke="#D96C22" stroke-width="0.8"/>
<linearGradient id="g1932" x1="0" y1="0" x2="0" y2="1"><stop offset="0" stop-color="#FFE6A3"/><stop offset="1" stop-color="#FFD874"/></linearGradient><rect x="1932.4" y="945.7" width="99.2" height="31.8" rx="5" fill="url(#g1932)" stroke="#FFC933" stroke-width="0.9"/><text x="1980.0" y="967.3" font-size="21.5" fill="#ED7D31" font-family='"Liberation Serif", "DejaVu Serif", serif' text-anchor="middle" xml:space="preserve"><tspan font-weight="bold" font-style="italic" font-size="21.5" font-family='"Liberation Serif", "DejaVu Serif", serif'>f</tspan><tspan font-weight="bold" font-style="italic" font-size="13.5" dy="4" font-family='"Liberation Serif", "DejaVu Serif", serif'>2</tspan></text>

<path d="M1979.3,992.5 H1991.3 V1021.2 H1997.5 L1985.3,1033.8 L1973.1,1021.2 H1979.3 Z" fill="#ED7D31" stroke="#D96C22" stroke-width="0.8"/>
<rect x="1946.4" y="1064.1" width="18.2" height="18.0" fill="#70AD47" stroke="#1F3864" stroke-width="0.9"/><rect x="1946.4" y="1082.0" width="18.2" height="18.0" fill="#E2F0D9" stroke="#1F3864" stroke-width="0.9"/><rect x="1946.4" y="1100.0" width="18.2" height="18.0" fill="#548235" stroke="#1F3864" stroke-width="0.9"/><rect x="1946.4" y="1118.0" width="18.2" height="18.0" fill="#C5E0B4" stroke="#1F3864" stroke-width="0.9"/><text x="1955.5" y="1059.5" font-size="10.5" fill="#000" font-family='"Liberation Sans", "DejaVu Sans", sans-serif' font-weight="bold" text-anchor="middle" xml:space="preserve">1</text>

<rect x="1973.1" y="1064.1" width="18.8" height="18.0" fill="#A9D18E" stroke="#1F3864" stroke-width="0.9"/><rect x="1973.1" y="1082.0" width="18.8" height="18.0" fill="#A9D18E" stroke="#1F3864" stroke-width="0.9"/><rect x="1973.1" y="1100.0" width="18.8" height="18.0" fill="#548235" stroke="#1F3864" stroke-width="0.9"/><rect x="1973.1" y="1118.0" width="18.8" height="18.0" fill="#A9D18E" stroke="#1F3864" stroke-width="0.9"/><text x="1982.5" y="1059.5" font-size="10.5" fill="#000" font-family='"Liberation Sans", "DejaVu Sans", sans-serif' font-weight="bold" text-anchor="middle" xml:space="preserve">2</text>

<rect x="2012.8" y="1064.1" width="18.8" height="18.0" fill="#70AD47" stroke="#1F3864" stroke-width="0.9"/><rect x="2012.8" y="1082.0" width="18.8" height="18.0" fill="#548235" stroke="#1F3864" stroke-width="0.9"/><rect x="2012.8" y="1100.0" width="18.8" height="18.0" fill="#548235" stroke="#1F3864" stroke-width="0.9"/><rect x="2012.8" y="1118.0" width="18.8" height="18.0" fill="#E2F0D9" stroke="#1F3864" stroke-width="0.9"/><text x="2022.2" y="1059.5" font-size="10.5" fill="#000" font-family='"Liberation Sans", "DejaVu Sans", sans-serif' font-weight="bold" text-anchor="middle" xml:space="preserve">n</text>

<text x="2002.3" y="1104" font-size="15" fill="#000" font-family='"Liberation Sans", "DejaVu Sans", sans-serif' font-weight="bold" text-anchor="middle" xml:space="preserve">...</text>
<text x="1963.3" y="1163.2" font-size="16" fill="#ED7D31" font-family='"Liberation Sans", "DejaVu Sans", sans-serif' textLength="48" lengthAdjust="spacingAndGlyphs" xml:space="preserve"><tspan font-style="italic" font-size="19" font-family='"Liberation Serif", "DejaVu Serif", serif'>f</tspan><tspan font-size="10" dy="3">2</tspan><tspan dy="-3">(X</tspan><tspan font-size="10" dy="3">2</tspan><tspan dy="-3">)</tspan></text>
<path d="M2042.3,825.1 L2054.3,813.6 V817.1 H2149.5 V813.6 L2161.5,825.1 L2149.5,836.6 V833.1 H2054.3 V836.6 Z" fill="#fff" stroke="#7C8CA8" stroke-width="1.2" stroke-linejoin="miter"/><text x="2103.6" y="830.3" font-size="15.5" fill="#FF0000" font-family='"Liberation Sans", "DejaVu Sans", sans-serif' font-weight="bold" text-anchor="middle" textLength="32" lengthAdjust="spacingAndGlyphs" xml:space="preserve">Corr</text>
<path d="M2042.8,1098.4 L2054.8,1086.9 V1090.4 H2154 V1086.9 L2166,1098.4 L2154,1109.9 V1106.4 H2054.8 V1109.9 Z" fill="#fff" stroke="#7C8CA8" stroke-width="1.2" stroke-linejoin="miter"/><text x="2104.5" y="1103.2" font-size="15.5" fill="#FF0000" font-family='"Liberation Sans", "DejaVu Sans", sans-serif' font-weight="bold" text-anchor="middle" textLength="32" lengthAdjust="spacingAndGlyphs" xml:space="preserve">Corr</text>
<text x="2117.2" y="961.5" font-size="15.8" fill="#FF0000" font-family='"Liberation Sans", "DejaVu Sans", sans-serif' font-weight="bold" textLength="54.6" lengthAdjust="spacingAndGlyphs" xml:space="preserve">NR loss</text>
<path d="M2103.9,841.7 L2145.6,931.8" stroke="#FF0000" stroke-width="1.5" fill="none"/><path d="M2149.4,940 L2142.5,933.3 L2148.7,930.4 Z" fill="#FF0000"/>
<path d="M2106,1081.5 L2146.6,982.6" stroke="#FF0000" stroke-width="1.5" fill="none"/><path d="M2150,974.3 L2149.7,983.9 L2143.4,981.3 Z" fill="#FF0000"/>
<rect x="2179.7" y="794.3" width="18.0" height="17.4" fill="#D0CECE" stroke="#1F3864" stroke-width="0.9"/><rect x="2179.7" y="811.7" width="18.0" height="17.4" fill="#AFABAB" stroke="#1F3864" stroke-width="0.9"/><rect x="2179.7" y="829.1" width="18.0" height="17.4" fill="#AFABAB" stroke="#1F3864" stroke-width="0.9"/><rect x="2179.7" y="846.5" width="18.0" height="17.4" fill="#AFABAB" stroke="#1F3864" stroke-width="0.9"/><text x="2188.7" y="789.5" font-size="10.5" fill="#000" font-family='"Liberation Sans", "DejaVu Sans", sans-serif' font-weight="bold" text-anchor="middle" xml:space="preserve">1</text>

<rect x="2206.2" y="794.3" width="18.2" height="17.4" fill="#D0CECE" stroke="#1F3864" stroke-width="0.9"/><rect x="2206.2" y="811.7" width="18.2" height="17.4" fill="#767171" stroke="#1F3864" stroke-width="0.9"/><rect x="2206.2" y="829.1" width="18.2" height="17.4" fill="#D0CECE" stroke="#1F3864" stroke-width="0.9"/><rect x="2206.2" y="846.5" width="18.2" height="17.4" fill="#3B3838" stroke="#1F3864" stroke-width="0.9"/><text x="2215.3" y="789.5" font-size="10.5" fill="#000" font-family='"Liberation Sans", "DejaVu Sans", sans-serif' font-weight="bold" text-anchor="middle" xml:space="preserve">2</text>

<rect x="2245.9" y="794.3" width="18.7" height="17.4" fill="#AFABAB" stroke="#1F3864" stroke-width="0.9"/><rect x="2245.9" y="811.7" width="18.7" height="17.4" fill="#C9C9C9" stroke="#1F3864" stroke-width="0.9"/><rect x="2245.9" y="829.1" width="18.7" height="17.4" fill="#3B3838" stroke="#1F3864" stroke-width="0.9"/><rect x="2245.9" y="846.5" width="18.7" height="17.4" fill="#F2F2F2" stroke="#1F3864" stroke-width="0.9"/><text x="2255.2" y="789.5" font-size="10.5" fill="#000" font-family='"Liberation Sans", "DejaVu Sans", sans-serif' font-weight="bold" text-anchor="middle" xml:space="preserve">n</text>

<text x="2235.2" y="832" font-size="15" fill="#000" font-family='"Liberation Sans", "DejaVu Sans", sans-serif' font-weight="bold" text-anchor="middle" xml:space="preserve">...</text>
<text x="2277" y="831.8" font-size="17.5" fill="#000" font-family='"Liberation Sans", "DejaVu Sans", sans-serif' font-weight="bold" xml:space="preserve"><tspan>A</tspan><tspan font-size="11" dy="3">2</tspan></text>
<path d="M2223.7,886.7 H2236.3 V914 H2242.4 L2230,927.4 L2217.6,914 H2223.7 Z" fill="#A5A5A5" stroke="#8C8C8C" stroke-width="0.8"/>
<linearGradient id="g2182" x1="0" y1="0" x2="0" y2="1"><stop offset="0" stop-color="#FFE6A3"/><stop offset="1" stop-color="#FFD874"/></linearGradient><rect x="2182.9" y="941.6" width="99.1" height="32.2" rx="5" fill="url(#g2182)" stroke="#FFC933" stroke-width="0.9"/><text x="2230.4" y="963.5" font-size="21.5" fill="#F0A050" font-family='"Liberation Serif", "DejaVu Serif", serif' text-anchor="middle" xml:space="preserve"><tspan font-weight="bold" font-style="italic" font-size="21.5" font-family='"Liberation Serif", "DejaVu Serif", serif'>f</tspan><tspan font-weight="bold" font-style="italic" font-size="13.5" dy="4" font-family='"Liberation Serif", "DejaVu Serif", serif'>2</tspan></text>

<path d="M2228.5,997.9 H2241.1000000000004 V1026.6 H2247.2000000000003 L2234.8,1038.6 L2222.4,1026.6 H2228.5 Z" fill="#A5A5A5" stroke="#8C8C8C" stroke-width="0.8"/>
<rect x="2187.7" y="1066.2" width="18.5" height="17.9" fill="#3B3838" stroke="#1F3864" stroke-width="0.9"/><rect x="2187.7" y="1084.1" width="18.5" height="17.9" fill="#AFABAB" stroke="#1F3864" stroke-width="0.9"/><rect x="2187.7" y="1102.0" width="18.5" height="17.9" fill="#D0CECE" stroke="#1F3864" stroke-width="0.9"/><rect x="2187.7" y="1119.8" width="18.5" height="17.9" fill="#767171" stroke="#1F3864" stroke-width="0.9"/><text x="2196.9" y="1061.5" font-size="10.5" fill="#000" font-family='"Liberation Sans", "DejaVu Sans", sans-serif' font-weight="bold" text-anchor="middle" xml:space="preserve">1</text>

<rect x="2215.1" y="1066.2" width="18.7" height="17.9" fill="#D0CECE" stroke="#1F3864" stroke-width="0.9"/><rect x="2215.1" y="1084.1" width="18.7" height="17.9" fill="#D0CECE" stroke="#1F3864" stroke-width="0.9"/><rect x="2215.1" y="1102.0" width="18.7" height="17.9" fill="#D0CECE" stroke="#1F3864" stroke-width="0.9"/><rect x="2215.1" y="1119.8" width="18.7" height="17.9" fill="#D0CECE" stroke="#1F3864" stroke-width="0.9"/><text x="2224.4" y="1061.5" font-size="10.5" fill="#000" font-family='"Liberation Sans", "DejaVu Sans", sans-serif' font-weight="bold" text-anchor="middle" xml:space="preserve">2</text>

<rect x="2254.7" y="1066.2" width="19.3" height="17.9" fill="#44546A" stroke="#1F3864" stroke-width="0.9"/><rect x="2254.7" y="1084.1" width="19.3" height="17.9" fill="#C9C9C9" stroke="#1F3864" stroke-width="0.9"/><rect x="2254.7" y="1102.0" width="19.3" height="17.9" fill="#3B3838" stroke="#1F3864" stroke-width="0.9"/><rect x="2254.7" y="1119.8" width="19.3" height="17.9" fill="#F2F2F2" stroke="#1F3864" stroke-width="0.9"/><text x="2264.3" y="1061.5" font-size="10.5" fill="#000" font-family='"Liberation Sans", "DejaVu Sans", sans-serif' font-weight="bold" text-anchor="middle" xml:space="preserve">n</text>

<text x="2244.2" y="1107" font-size="15" fill="#000" font-family='"Liberation Sans", "DejaVu Sans", sans-serif' font-weight="bold" text-anchor="middle" xml:space="preserve">...</text>
<text x="2280.5" y="1106.9" font-size="17.5" fill="#000" font-family='"Liberation Sans", "DejaVu Sans", sans-serif' font-weight="bold" textLength="50.5" lengthAdjust="spacingAndGlyphs" xml:space="preserve"><tspan font-style="italic" font-size="21" font-family='"Liberation Serif", "DejaVu Serif", serif'>f</tspan><tspan font-size="11" dy="3">2</tspan><tspan dy="-3">(A</tspan><tspan font-size="11" dy="3">2</tspan><tspan dy="-3">)</tspan></text>
<text x="1494" y="1226.3" font-size="42" fill="#2a2a2a" font-family='"Liberation Serif", "DejaVu Serif", serif' textLength="726" lengthAdjust="spacingAndGlyphs" xml:space="preserve"><tspan font-style="italic">ζ</tspan><tspan font-style="italic" font-size="28" dy="7">k</tspan><tspan dy="-7"> = |</tspan><tspan font-style="italic">Corr</tspan><tspan>(</tspan><tspan font-style="italic">f</tspan><tspan font-style="italic" font-size="28" dy="7">k</tspan><tspan dy="-7">(</tspan><tspan font-style="italic">X</tspan><tspan font-style="italic" font-size="28" dy="7">k</tspan><tspan dy="-7">), </tspan><tspan font-style="italic">f</tspan><tspan font-style="italic" font-size="28" dy="7">k</tspan><tspan dy="-7">(</tspan><tspan font-style="italic">A</tspan><tspan font-style="italic" font-size="28" dy="7">k</tspan><tspan dy="-7">)) − </tspan><tspan font-style="italic">Corr</tspan><tspan>(</tspan><tspan font-style="italic">X</tspan><tspan font-style="italic" font-size="28" dy="7">k</tspan><tspan dy="-7">, </tspan><tspan font-style="italic">A</tspan><tspan font-style="italic" font-size="28" dy="7">k</tspan><tspan dy="-7">)|.</tspan></text>
<text x="1501" y="1303.7" font-size="29.5" fill="#222" font-family='"Liberation Serif", "DejaVu Serif", serif' textLength="689" lengthAdjust="spacingAndGlyphs" xml:space="preserve"><tspan>{</tspan><tspan font-style="italic">f</tspan><tspan font-size="20" dy="-9">*</tspan><tspan font-style="italic" font-size="20" dy="15" dx="-9">k</tspan><tspan dy="-6">}</tspan><tspan font-style="italic" font-size="20" dy="5.5">k</tspan><tspan dy="-5.5"> = arg max Corr (</tspan><tspan font-style="italic">f</tspan><tspan font-size="20" dy="5.5">1</tspan><tspan dy="-5.5">(</tspan><tspan font-style="italic">X</tspan><tspan font-size="20" dy="5.5">1</tspan><tspan dy="-5.5">), · · · , </tspan><tspan font-style="italic">f</tspan><tspan font-style="italic" font-size="20" dy="5.5">K</tspan><tspan dy="-5.5">(</tspan><tspan font-style="italic">X</tspan><tspan font-style="italic" font-size="20" dy="5.5">K</tspan><tspan dy="-5.5">)) − </tspan><tspan font-style="italic">α </tspan><tspan font-size="44" dy="7">∑</tspan><tspan dy="-7"> </tspan><tspan font-style="italic">ζ</tspan><tspan font-style="italic" font-size="20" dy="5.5">k</tspan><tspan dy="-5.5">.</tspan></text>
<text x="1684.5" y="1324.5" font-size="21" fill="#111" font-family='"Liberation Serif", "DejaVu Serif", serif' text-anchor="middle" textLength="55" lengthAdjust="spacingAndGlyphs" xml:space="preserve"><tspan>{</tspan><tspan font-style="italic">f</tspan><tspan font-style="italic" font-size="15" dy="3.5">k</tspan><tspan dy="-3.5">}</tspan><tspan font-style="italic" font-size="15" dy="3.5">k</tspan></text>
<text x="2130.5" y="1268.5" font-size="21" fill="#111" font-family='"Liberation Serif", "DejaVu Serif", serif' font-style="italic" text-anchor="middle" xml:space="preserve">K</text>
<text x="2130.5" y="1336" font-size="21" fill="#111" font-family='"Liberation Serif", "DejaVu Serif", serif' text-anchor="middle" textLength="39" lengthAdjust="spacingAndGlyphs" xml:space="preserve"><tspan font-style="italic">k</tspan><tspan>=1</tspan></text>
</g>
<g id="panel4">
<text x="1356" y="1585.2" font-size="41.5" fill="#32424F" font-family='"Liberation Sans", "DejaVu Sans", sans-serif' font-weight="bold" textLength="1080" lengthAdjust="spacingAndGlyphs" xml:space="preserve">NR prevents the weight matrices from being low-rank</text>
<text x="1443" y="1833.3" font-size="41.5" fill="#32424F" font-family='"Liberation Sans", "DejaVu Sans", sans-serif' font-weight="bold" textLength="843" lengthAdjust="spacingAndGlyphs" xml:space="preserve">NR ensures the quality of representations</text>
<text x="1290" y="1655.4" font-size="28.75" fill="#000" font-family='"Liberation Serif", "DejaVu Serif", serif' textLength="1217.5" lengthAdjust="spacingAndGlyphs" xml:space="preserve"><tspan font-weight="bold">Theorem 1 (Correlation Invariant Property (CIP) of </tspan><tspan font-weight="bold" font-style="italic">W</tspan><tspan font-weight="bold" font-style="italic" font-size="20.1" dy="5.75">k</tspan><tspan font-weight="bold" dy="-5.75">)</tspan><tspan font-style="italic">  Given </tspan><tspan font-style="italic">W</tspan><tspan font-style="italic" font-size="20.1" dy="5.75">k</tspan><tspan font-style="italic" dy="-5.75"> is a square matrix for any</tspan></text>
<text x="1290" y="1690.7" font-size="28.75" fill="#000" font-family='"Liberation Serif", "DejaVu Serif", serif' textLength="1217.5" lengthAdjust="spacingAndGlyphs" xml:space="preserve"><tspan font-style="italic">k and </tspan><tspan font-style="italic">η</tspan><tspan font-style="italic" font-size="20.1" dy="5.75">k</tspan><tspan dy="-5.75"> = |</tspan><tspan font-style="italic">Corr</tspan><tspan>(</tspan><tspan font-style="italic">W</tspan><tspan font-style="italic" font-size="20.1" dy="5.75">k</tspan><tspan font-style="italic" dy="-5.75">X</tspan><tspan font-style="italic" font-size="20.1" dy="5.75">k</tspan><tspan dy="-5.75">, </tspan><tspan font-style="italic">W</tspan><tspan font-style="italic" font-size="20.1" dy="5.75">k</tspan><tspan font-style="italic" dy="-5.75">A</tspan><tspan font-style="italic" font-size="20.1" dy="5.75">k</tspan><tspan dy="-5.75">) − </tspan><tspan font-style="italic">Corr</tspan><tspan>(</tspan><tspan font-style="italic">X</tspan><tspan font-style="italic" font-size="20.1" dy="5.75">k</tspan><tspan dy="-5.75">, </tspan><tspan font-style="italic">A</tspan><tspan font-style="italic" font-size="20.1" dy="5.75">k</tspan><tspan dy="-5.75">)|</tspan><tspan font-style="italic">, we have </tspan><tspan font-style="italic">η</tspan><tspan font-style="italic" font-size="20.1" dy="5.75">k</tspan><tspan dy="-5.75"> = 0 </tspan><tspan font-style="italic">(i.e.  CIP)</tspan><tspan>  ⟺   </tspan><tspan font-style="italic">W</tspan><tspan font-style="italic" font-size="20.1" dy="5.75">k</tspan><tspan font-style="italic" dy="-5.75"> is</tspan></text>
<text x="1287.5" y="1724.4" font-size="28.75" fill="#000" font-family='"Liberation Serif", "DejaVu Serif", serif' textLength="115.5" lengthAdjust="spacingAndGlyphs" xml:space="preserve"><tspan font-style="italic">full-rank.</tspan></text>
<text x="1312.5" y="1906.2" font-size="26.7" fill="#000" font-family='"Liberation Serif", "DejaVu Serif", serif' textLength="1178" lengthAdjust="spacingAndGlyphs" xml:space="preserve"><tspan font-weight="bold">Theorem 2 (Effects of CIP on the obtained representations)</tspan><tspan font-style="italic">  For any </tspan><tspan font-style="italic">k</tspan><tspan font-style="italic">, if </tspan><tspan font-style="italic">W</tspan><tspan font-style="italic" font-size="18.7" dy="5.34">k</tspan><tspan font-style="italic" dy="-5.34"> is a square matrix</tspan></text>
<text x="1312.5" y="1938.2" font-size="26.7" fill="#000" font-family='"Liberation Serif", "DejaVu Serif", serif' textLength="745.5" lengthAdjust="spacingAndGlyphs" xml:space="preserve"><tspan font-style="italic">and CIP holds for </tspan><tspan font-style="italic">W</tspan><tspan font-style="italic" font-size="18.7" dy="5.34">k</tspan><tspan font-style="italic" dy="-5.34"> (i.e. </tspan><tspan font-style="italic">W</tspan><tspan font-style="italic" font-size="18.7" dy="5.34">k</tspan><tspan font-style="italic" dy="-5.34"> is full-rank), </tspan><tspan font-style="italic">W</tspan><tspan font-style="italic" font-size="18.7" dy="5.34">k</tspan><tspan font-style="italic" dy="-5.34">X</tspan><tspan font-style="italic" font-size="18.7" dy="5.34">k</tspan><tspan font-style="italic" dy="-5.34"> holds that:</tspan></text>
<text x="1727" y="1994.3" font-size="26.7" fill="#000" font-family='"Liberation Serif", "DejaVu Serif", serif' textLength="349.5" lengthAdjust="spacingAndGlyphs" xml:space="preserve"><tspan>min ‖</tspan><tspan font-style="italic">P</tspan><tspan font-style="italic" font-size="18.7" dy="5.34">k</tspan><tspan font-style="italic" dy="-5.34">W</tspan><tspan font-style="italic" font-size="18.7" dy="5.34">k</tspan><tspan font-style="italic" dy="-5.34">X</tspan><tspan font-style="italic" font-size="18.7" dy="5.34">k</tspan><tspan dy="-5.34"> − </tspan><tspan font-style="italic">X</tspan><tspan font-style="italic" font-size="18.7" dy="5.34">k</tspan><tspan dy="-5.34">‖</tspan><tspan font-style="italic" font-size="18.7" dy="5.34">F</tspan><tspan dy="-5.34"> = 0</tspan></text>
<text x="1752" y="2013.5" font-size="19.5" fill="#000" font-family='"Liberation Serif", "DejaVu Serif", serif' text-anchor="middle" xml:space="preserve"><tspan font-style="italic">P</tspan><tspan font-style="italic" font-size="13.6" dy="3.9">k</tspan></text>
<text x="2456.5" y="1994.3" font-size="26.7" fill="#000" font-family='"Liberation Serif", "DejaVu Serif", serif' textLength="34" lengthAdjust="spacingAndGlyphs" xml:space="preserve">(7)</text>
<text x="1414" y="2078.5" font-size="26.7" fill="#000" font-family='"Liberation Serif", "DejaVu Serif", serif' textLength="974" lengthAdjust="spacingAndGlyphs" xml:space="preserve"><tspan>min ‖</tspan><tspan font-style="italic">Q</tspan><tspan font-style="italic" font-size="18.7" dy="5.34">k</tspan><tspan font-style="italic" dy="-5.34">W</tspan><tspan font-style="italic" font-size="18.7" dy="5.34">k</tspan><tspan dy="-5.34">(</tspan><tspan font-style="italic">X</tspan><tspan font-style="italic" font-size="18.7" dy="5.34">k</tspan><tspan dy="-5.34"> + </tspan><tspan font-style="italic">A</tspan><tspan font-style="italic" font-size="18.7" dy="5.34">k</tspan><tspan dy="-5.34">) − </tspan><tspan font-style="italic">W</tspan><tspan font-style="italic" font-size="18.7" dy="5.34">k</tspan><tspan font-style="italic" dy="-5.34">X</tspan><tspan font-style="italic" font-size="18.7" dy="5.34">k</tspan><tspan dy="-5.34">‖</tspan><tspan font-style="italic" font-size="18.7" dy="5.34">F</tspan><tspan dy="-5.34"> ≤ √</tspan><tspan font-style="italic">n</tspan><tspan>‖</tspan><tspan font-style="italic">W</tspan><tspan font-style="italic" font-size="18.7" dy="5.34">k</tspan><tspan font-style="italic" dy="-5.34">A</tspan><tspan font-style="italic" font-size="18.7" dy="5.34">k</tspan><tspan dy="-5.34">‖</tspan><tspan font-style="italic" font-size="18.7" dy="5.34">F</tspan><tspan dy="-5.34">, </tspan><tspan font-style="italic">E</tspan><tspan>(‖</tspan><tspan font-style="italic">W</tspan><tspan font-style="italic" font-size="18.7" dy="5.34">K</tspan><tspan font-style="italic" dy="-5.34">A</tspan><tspan font-style="italic" font-size="18.7" dy="5.34">k</tspan><tspan dy="-5.34">‖</tspan><tspan font-style="italic" font-size="18.7" dy="5.34">F</tspan><tspan font-size="18.7" dy="-14.95" dx="-10">2</tspan><tspan dy="9.61">) = ‖</tspan><tspan font-style="italic">W</tspan><tspan font-style="italic" font-size="18.7" dy="5.34">k</tspan><tspan dy="-5.34">‖</tspan><tspan font-style="italic" font-size="18.7" dy="5.34">F</tspan><tspan font-size="18.7" dy="-14.95" dx="-10">2</tspan></text>
<text x="1437" y="2098" font-size="19.5" fill="#000" font-family='"Liberation Serif", "DejaVu Serif", serif' text-anchor="middle" xml:space="preserve"><tspan font-style="italic">Q</tspan><tspan font-style="italic" font-size="13.6" dy="3.9">k</tspan></text>
<text x="2456.5" y="2078.5" font-size="26.7" fill="#000" font-family='"Liberation Serif", "DejaVu Serif", serif' textLength="34" lengthAdjust="spacingAndGlyphs" xml:space="preserve">(8)</text>
<text x="1312.5" y="2145.9" font-size="26.7" fill="#000" font-family='"Liberation Serif", "DejaVu Serif", serif' textLength="1178" lengthAdjust="spacingAndGlyphs" xml:space="preserve"><tspan font-style="italic">where </tspan><tspan>‖ · ‖</tspan><tspan font-style="italic" font-size="18.7" dy="5.34">F</tspan><tspan font-style="italic" dy="-5.34"> denotes the Frobenius norm and </tspan><tspan font-style="italic">ϵ</tspan><tspan font-style="italic"> is a small positive threshold. </tspan><tspan font-style="italic">P</tspan><tspan font-style="italic" font-size="18.7" dy="5.34">k</tspan><tspan font-style="italic" dy="-5.34"> and </tspan><tspan font-style="italic">Q</tspan><tspan font-style="italic" font-size="18.7" dy="5.34">k</tspan><tspan font-style="italic" dy="-5.34"> are searched</tspan></text>
<text x="1312.5" y="2178.4" font-size="26.7" fill="#000" font-family='"Liberation Serif", "DejaVu Serif", serif' textLength="1178" lengthAdjust="spacingAndGlyphs" xml:space="preserve"><tspan font-style="italic">weight matrices of </tspan><tspan font-style="italic">k</tspan><tspan font-style="italic">-th view to recover the input and discard noise, respectively.  And we refer</tspan></text>
<text x="1312.5" y="2210.4" font-size="26.7" fill="#000" font-family='"Liberation Serif", "DejaVu Serif", serif' textLength="1175" lengthAdjust="spacingAndGlyphs" xml:space="preserve"><tspan>‖</tspan><tspan font-style="italic">P</tspan><tspan font-style="italic" font-size="18.7" dy="5.34">k</tspan><tspan font-style="italic" dy="-5.34">W</tspan><tspan font-style="italic" font-size="18.7" dy="5.34">k</tspan><tspan font-style="italic" dy="-5.34">X</tspan><tspan font-style="italic" font-size="18.7" dy="5.34">k</tspan><tspan dy="-5.34"> − </tspan><tspan font-style="italic">X</tspan><tspan font-style="italic" font-size="18.7" dy="5.34">k</tspan><tspan dy="-5.34">‖</tspan><tspan font-style="italic" font-size="18.7" dy="5.34">F</tspan><tspan font-style="italic" dy="-5.34"> and </tspan><tspan>‖</tspan><tspan font-style="italic">Q</tspan><tspan font-style="italic" font-size="18.7" dy="5.34">k</tspan><tspan font-style="italic" dy="-5.34">W</tspan><tspan font-style="italic" font-size="18.7" dy="5.34">k</tspan><tspan dy="-5.34">(</tspan><tspan font-style="italic">X</tspan><tspan font-style="italic" font-size="18.7" dy="5.34">k</tspan><tspan dy="-5.34"> + </tspan><tspan font-style="italic">A</tspan><tspan font-style="italic" font-size="18.7" dy="5.34">k</tspan><tspan dy="-5.34">) − </tspan><tspan font-style="italic">W</tspan><tspan font-style="italic" font-size="18.7" dy="5.34">k</tspan><tspan font-style="italic" dy="-5.34">X</tspan><tspan font-style="italic" font-size="18.7" dy="5.34">k</tspan><tspan dy="-5.34">‖</tspan><tspan font-style="italic" font-size="18.7" dy="5.34">F</tspan><tspan font-style="italic" dy="-5.34"> as reconstruction loss and denosing loss.</tspan></text>
</g>
<g id="panel5">
<text x="2990.6" y="566.9" font-size="19.6" fill="#111" font-family='"Liberation Serif", "DejaVu Serif", serif' text-anchor="middle" textLength="362" lengthAdjust="spacingAndGlyphs" xml:space="preserve">Table 3: Performance in synthetic datasets.</text>
<path d="M2575,589.1H3405.4M2575,608.2H3405.4M2575,702.5H3405.4M2575,721.9H3405.4M2575,834.5H3405.4M2575,910.4H3405.4M2729.7,589.1V910.4M2840.3,589.1V910.4M2950.5,589.1V910.4M3061.1,589.1V910.4M3171.7,589.1V910.4M3286.6,589.1V910.4" stroke="#4a4a4a" stroke-width="1" fill="none"/>
<text x="2652.4" y="602" font-size="16.8" fill="#111" font-family='"Liberation Serif", "DejaVu Serif", serif' text-anchor="middle" xml:space="preserve">R2/Common Rate</text>
<text x="2785" y="602" font-size="16.8" fill="#111" font-family='"Liberation Serif", "DejaVu Serif", serif' text-anchor="middle" xml:space="preserve">0%</text>
<text x="2895.4" y="602" font-size="16.8" fill="#111" font-family='"Liberation Serif", "DejaVu Serif", serif' text-anchor="middle" xml:space="preserve">20%</text>
<text x="3005.8" y="602" font-size="16.8" fill="#111" font-family='"Liberation Serif", "DejaVu Serif", serif' text-anchor="middle" xml:space="preserve">40%</text>
<text x="3116.4" y="602" font-size="16.8" fill="#111" font-family='"Liberation Serif", "DejaVu Serif", serif' text-anchor="middle" xml:space="preserve">60%</text>
<text x="3229.2" y="602" font-size="16.8" fill="#111" font-family='"Liberation Serif", "DejaVu Serif", serif' text-anchor="middle" xml:space="preserve">80%</text>
<text x="3346" y="602" font-size="16.8" fill="#111" font-family='"Liberation Serif", "DejaVu Serif", serif' text-anchor="middle" xml:space="preserve">100%</text>
<text x="2652.4" y="621.5" font-size="16.8" fill="#111" font-family='"Liberation Serif", "DejaVu Serif", serif' text-anchor="middle" xml:space="preserve">CONCAT</text>
<text x="2785" y="621.5" font-size="16.8" fill="#111" font-family='"Liberation Serif", "DejaVu Serif", serif' text-anchor="middle" textLength="90.4" lengthAdjust="spacingAndGlyphs" xml:space="preserve">0.253±0.038</text>
<text x="2895.4" y="621.5" font-size="16.8" fill="#111" font-family='"Liberation Serif", "DejaVu Serif", serif' text-anchor="middle" textLength="90.4" lengthAdjust="spacingAndGlyphs" xml:space="preserve">0.255±0.039</text>
<text x="3005.8" y="621.5" font-size="16.8" fill="#111" font-family='"Liberation Serif", "DejaVu Serif", serif' text-anchor="middle" textLength="90.4" lengthAdjust="spacingAndGlyphs" xml:space="preserve">0.250±0.040</text>
<text x="3116.4" y="621.5" font-size="16.8" fill="#111" font-family='"Liberation Serif", "DejaVu Serif", serif' text-anchor="middle" textLength="90.4" lengthAdjust="spacingAndGlyphs" xml:space="preserve">0.254±0.040</text>
<text x="3229.2" y="621.5" font-size="16.8" fill="#111" font-family='"Liberation Serif", "DejaVu Serif", serif' text-anchor="middle" textLength="94" lengthAdjust="spacingAndGlyphs" xml:space="preserve">0.256 ±0.042</text>
<text x="3346" y="621.5" font-size="16.8" fill="#111" font-family='"Liberation Serif", "DejaVu Serif", serif' text-anchor="middle" textLength="98.9" lengthAdjust="spacingAndGlyphs" xml:space="preserve">0.264 ± 0.033</text>
<text x="2652.4" y="640.2" font-size="16.8" fill="#111" font-family='"Liberation Serif", "DejaVu Serif", serif' text-anchor="middle" xml:space="preserve">Linear_CCA</text>
<text x="2785" y="640.2" font-size="16.8" fill="#111" font-family='"Liberation Serif", "DejaVu Serif", serif' text-anchor="middle" textLength="90.4" lengthAdjust="spacingAndGlyphs" xml:space="preserve">0.179±0.030</text>
<text x="2895.4" y="640.2" font-size="16.8" fill="#111" font-family='"Liberation Serif", "DejaVu Serif", serif' text-anchor="middle" textLength="90.4" lengthAdjust="spacingAndGlyphs" xml:space="preserve">0.184±0.035</text>
<text x="3005.8" y="640.2" font-size="16.8" fill="#111" font-family='"Liberation Serif", "DejaVu Serif", serif' text-anchor="middle" textLength="90.4" lengthAdjust="spacingAndGlyphs" xml:space="preserve">0.172±0.033</text>
<text x="3116.4" y="640.2" font-size="16.8" fill="#111" font-family='"Liberation Serif", "DejaVu Serif", serif' text-anchor="middle" textLength="90.4" lengthAdjust="spacingAndGlyphs" xml:space="preserve">0.182±0.034</text>
<text x="3229.2" y="640.2" font-size="16.8" fill="#111" font-family='"Liberation Serif", "DejaVu Serif", serif' text-anchor="middle" textLength="90.4" lengthAdjust="spacingAndGlyphs" xml:space="preserve">0.182±0.034</text>
<text x="3346" y="640.2" font-size="16.8" fill="#111" font-family='"Liberation Serif", "DejaVu Serif", serif' text-anchor="middle" textLength="90.4" lengthAdjust="spacingAndGlyphs" xml:space="preserve">0.188±0.031</text>
<text x="2652.4" y="658.9" font-size="16.8" fill="#111" font-family='"Liberation Serif", "DejaVu Serif", serif' text-anchor="middle" xml:space="preserve">Linear_GCCA</text>
<text x="2785" y="658.9" font-size="16.8" fill="#111" font-family='"Liberation Serif", "DejaVu Serif", serif' text-anchor="middle" textLength="90.4" lengthAdjust="spacingAndGlyphs" xml:space="preserve">0.177±0.030</text>
<text x="2895.4" y="658.9" font-size="16.8" fill="#111" font-family='"Liberation Serif", "DejaVu Serif", serif' text-anchor="middle" textLength="90.4" lengthAdjust="spacingAndGlyphs" xml:space="preserve">0.184±0.036</text>
<text x="3005.8" y="658.9" font-size="16.8" fill="#111" font-family='"Liberation Serif", "DejaVu Serif", serif' text-anchor="middle" textLength="90.4" lengthAdjust="spacingAndGlyphs" xml:space="preserve">0.171±0.033</text>
<text x="3116.4" y="658.9" font-size="16.8" fill="#111" font-family='"Liberation Serif", "DejaVu Serif", serif' text-anchor="middle" textLength="90.4" lengthAdjust="spacingAndGlyphs" xml:space="preserve">0.182±0.034</text>
<text x="3229.2" y="658.9" font-size="16.8" fill="#111" font-family='"Liberation Serif", "DejaVu Serif", serif' text-anchor="middle" textLength="90.4" lengthAdjust="spacingAndGlyphs" xml:space="preserve">0.182±0.033</text>
<text x="3346" y="658.9" font-size="16.8" fill="#111" font-family='"Liberation Serif", "DejaVu Serif", serif' text-anchor="middle" textLength="90.4" lengthAdjust="spacingAndGlyphs" xml:space="preserve">0.182±0.031</text>
<text x="2652.4" y="677.5" font-size="16.8" fill="#111" font-family='"Liberation Serif", "DejaVu Serif", serif' text-anchor="middle" xml:space="preserve">KCCA</text>
<text x="2785" y="677.5" font-size="16.8" fill="#111" font-family='"Liberation Serif", "DejaVu Serif", serif' text-anchor="middle" textLength="90.4" lengthAdjust="spacingAndGlyphs" xml:space="preserve">0.243±0.047</text>
<text x="2895.4" y="677.5" font-size="16.8" fill="#111" font-family='"Liberation Serif", "DejaVu Serif", serif' text-anchor="middle" textLength="90.4" lengthAdjust="spacingAndGlyphs" xml:space="preserve">0.261±0.046</text>
<text x="3005.8" y="677.5" font-size="16.8" fill="#111" font-family='"Liberation Serif", "DejaVu Serif", serif' text-anchor="middle" textLength="90.4" lengthAdjust="spacingAndGlyphs" xml:space="preserve">0.260±0.043</text>
<text x="3116.4" y="677.5" font-size="16.8" fill="#111" font-family='"Liberation Serif", "DejaVu Serif", serif' text-anchor="middle" textLength="90.4" lengthAdjust="spacingAndGlyphs" xml:space="preserve">0.272±0.045</text>
<text x="3229.2" y="677.5" font-size="16.8" fill="#111" font-family='"Liberation Serif", "DejaVu Serif", serif' text-anchor="middle" textLength="90.4" lengthAdjust="spacingAndGlyphs" xml:space="preserve">0.276±0.049</text>
<text x="3346" y="677.5" font-size="16.8" fill="#111" font-family='"Liberation Serif", "DejaVu Serif", serif' text-anchor="middle" textLength="90.4" lengthAdjust="spacingAndGlyphs" xml:space="preserve">0.288±0.038</text>
<text x="2652.4" y="696.2" font-size="16.8" fill="#111" font-family='"Liberation Serif", "DejaVu Serif", serif' text-anchor="middle" xml:space="preserve">PRCCA</text>
<text x="2785" y="696.2" font-size="16.8" fill="#111" font-family='"Liberation Serif", "DejaVu Serif", serif' text-anchor="middle" textLength="90.4" lengthAdjust="spacingAndGlyphs" xml:space="preserve">0.212±0.053</text>
<text x="2895.4" y="696.2" font-size="16.8" fill="#111" font-family='"Liberation Serif", "DejaVu Serif", serif' text-anchor="middle" textLength="90.4" lengthAdjust="spacingAndGlyphs" xml:space="preserve">0.249±0.046</text>
<text x="3005.8" y="696.2" font-size="16.8" fill="#111" font-family='"Liberation Serif", "DejaVu Serif", serif' text-anchor="middle" textLength="90.4" lengthAdjust="spacingAndGlyphs" xml:space="preserve">0.216±0.055</text>
<text x="3116.4" y="696.2" font-size="16.8" fill="#111" font-family='"Liberation Serif", "DejaVu Serif", serif' text-anchor="middle" textLength="90.4" lengthAdjust="spacingAndGlyphs" xml:space="preserve">0.267±0.046</text>
<text x="3229.2" y="696.2" font-size="16.8" fill="#111" font-family='"Liberation Serif", "DejaVu Serif", serif' text-anchor="middle" textLength="90.4" lengthAdjust="spacingAndGlyphs" xml:space="preserve">0.256±0.052</text>
<text x="3346" y="696.2" font-size="16.8" fill="#111" font-family='"Liberation Serif", "DejaVu Serif", serif' text-anchor="middle" textLength="90.4" lengthAdjust="spacingAndGlyphs" xml:space="preserve">0.284±0.039</text>
<text x="2652.4" y="715.7" font-size="16.8" fill="#111" font-family='"Liberation Serif", "DejaVu Serif", serif' text-anchor="middle" xml:space="preserve">MVTCAE</text>
<text x="2785" y="715.7" font-size="16.8" fill="#111" font-family='"Liberation Serif", "DejaVu Serif", serif' text-anchor="middle" textLength="90.4" lengthAdjust="spacingAndGlyphs" xml:space="preserve">0.065±0.015</text>
<text x="2895.4" y="715.7" font-size="16.8" fill="#111" font-family='"Liberation Serif", "DejaVu Serif", serif' text-anchor="middle" textLength="90.4" lengthAdjust="spacingAndGlyphs" xml:space="preserve">0.071±0.016</text>
<text x="3005.8" y="715.7" font-size="16.8" fill="#111" font-family='"Liberation Serif", "DejaVu Serif", serif' text-anchor="middle" textLength="90.4" lengthAdjust="spacingAndGlyphs" xml:space="preserve">0.067±0.016</text>
<text x="3116.4" y="715.7" font-size="16.8" fill="#111" font-family='"Liberation Serif", "DejaVu Serif", serif' text-anchor="middle" textLength="90.4" lengthAdjust="spacingAndGlyphs" xml:space="preserve">0.069±0.016</text>
<text x="3229.2" y="715.7" font-size="16.8" fill="#111" font-family='"Liberation Serif", "DejaVu Serif", serif' text-anchor="middle" textLength="90.4" lengthAdjust="spacingAndGlyphs" xml:space="preserve">0.071±0.016</text>
<text x="3346" y="715.7" font-size="16.8" fill="#111" font-family='"Liberation Serif", "DejaVu Serif", serif' text-anchor="middle" textLength="90.4" lengthAdjust="spacingAndGlyphs" xml:space="preserve">0.069±0.015</text>
<text x="2652.4" y="735.2" font-size="16.8" fill="#111" font-family='"Liberation Serif", "DejaVu Serif", serif' text-anchor="middle" xml:space="preserve">DCCA</text>
<text x="2785" y="735.2" font-size="16.8" fill="#111" font-family='"Liberation Serif", "DejaVu Serif", serif' text-anchor="middle" textLength="90.4" lengthAdjust="spacingAndGlyphs" xml:space="preserve">0.053±0.044</text>
<text x="2895.4" y="735.2" font-size="16.8" fill="#111" font-family='"Liberation Serif", "DejaVu Serif", serif' text-anchor="middle" textLength="90.4" lengthAdjust="spacingAndGlyphs" xml:space="preserve">0.094±0.046</text>
<text x="3005.8" y="735.2" font-size="16.8" fill="#111" font-family='"Liberation Serif", "DejaVu Serif", serif' text-anchor="middle" textLength="90.4" lengthAdjust="spacingAndGlyphs" xml:space="preserve">0.123±0.047</text>
<text x="3116.4" y="735.2" font-size="16.8" fill="#111" font-family='"Liberation Serif", "DejaVu Serif", serif' text-anchor="middle" textLength="90.4" lengthAdjust="spacingAndGlyphs" xml:space="preserve">0.107±0.046</text>
<text x="3229.2" y="735.2" font-size="16.8" fill="#111" font-family='"Liberation Serif", "DejaVu Serif", serif' text-anchor="middle" textLength="90.4" lengthAdjust="spacingAndGlyphs" xml:space="preserve">0.125±0.052</text>
<text x="3346" y="735.2" font-size="16.8" fill="#111" font-family='"Liberation Serif", "DejaVu Serif", serif' text-anchor="middle" textLength="90.4" lengthAdjust="spacingAndGlyphs" xml:space="preserve">0.133±0.044</text>
<text x="2652.4" y="753.9" font-size="16.8" fill="#111" font-family='"Liberation Serif", "DejaVu Serif", serif' text-anchor="middle" xml:space="preserve">DCCAE</text>
<text x="2785" y="753.9" font-size="16.8" fill="#111" font-family='"Liberation Serif", "DejaVu Serif", serif' text-anchor="middle" textLength="90.4" lengthAdjust="spacingAndGlyphs" xml:space="preserve">0.063±0.044</text>
<text x="2895.4" y="753.9" font-size="16.8" fill="#111" font-family='"Liberation Serif", "DejaVu Serif", serif' text-anchor="middle" textLength="90.4" lengthAdjust="spacingAndGlyphs" xml:space="preserve">0.090±0.039</text>
<text x="3005.8" y="753.9" font-size="16.8" fill="#111" font-family='"Liberation Serif", "DejaVu Serif", serif' text-anchor="middle" textLength="90.4" lengthAdjust="spacingAndGlyphs" xml:space="preserve">0.126±0.047</text>
<text x="3116.4" y="753.9" font-size="16.8" fill="#111" font-family='"Liberation Serif", "DejaVu Serif", serif' text-anchor="middle" textLength="90.4" lengthAdjust="spacingAndGlyphs" xml:space="preserve">0.104±0.045</text>
<text x="3229.2" y="753.9" font-size="16.8" fill="#111" font-family='"Liberation Serif", "DejaVu Serif", serif' text-anchor="middle" textLength="90.4" lengthAdjust="spacingAndGlyphs" xml:space="preserve">0.098±0.060</text>
<text x="3346" y="753.9" font-size="16.8" fill="#111" font-family='"Liberation Serif", "DejaVu Serif", serif' text-anchor="middle" textLength="94" lengthAdjust="spacingAndGlyphs" xml:space="preserve">0.139 ±0.041</text>
<text x="2652.4" y="772.6" font-size="16.8" fill="#111" font-family='"Liberation Serif", "DejaVu Serif", serif' text-anchor="middle" xml:space="preserve">DCCA_PRIVATE</text>
<text x="2785" y="772.6" font-size="16.8" fill="#111" font-family='"Liberation Serif", "DejaVu Serif", serif' text-anchor="middle" textLength="90.4" lengthAdjust="spacingAndGlyphs" xml:space="preserve">0.264±0.039</text>
<text x="2895.4" y="772.6" font-size="16.8" fill="#111" font-family='"Liberation Serif", "DejaVu Serif", serif' text-anchor="middle" textLength="90.4" lengthAdjust="spacingAndGlyphs" xml:space="preserve">0.171±0.040</text>
<text x="3005.8" y="772.6" font-size="16.8" fill="#111" font-family='"Liberation Serif", "DejaVu Serif", serif' text-anchor="middle" textLength="90.4" lengthAdjust="spacingAndGlyphs" xml:space="preserve">0.176±0.042</text>
<text x="3116.4" y="772.6" font-size="16.8" fill="#111" font-family='"Liberation Serif", "DejaVu Serif", serif' text-anchor="middle" textLength="90.4" lengthAdjust="spacingAndGlyphs" xml:space="preserve">0.168±0.039</text>
<text x="3229.2" y="772.6" font-size="16.8" fill="#111" font-family='"Liberation Serif", "DejaVu Serif", serif' text-anchor="middle" textLength="90.4" lengthAdjust="spacingAndGlyphs" xml:space="preserve">0.172±0.041</text>
<text x="3346" y="772.6" font-size="16.8" fill="#111" font-family='"Liberation Serif", "DejaVu Serif", serif' text-anchor="middle" textLength="90.4" lengthAdjust="spacingAndGlyphs" xml:space="preserve">0.181±0.035</text>
<text x="2652.4" y="791.3" font-size="16.8" fill="#111" font-family='"Liberation Serif", "DejaVu Serif", serif' text-anchor="middle" xml:space="preserve">DCCA_GHA</text>
<text x="2785" y="791.3" font-size="16.8" fill="#111" font-family='"Liberation Serif", "DejaVu Serif", serif' text-anchor="middle" textLength="90.4" lengthAdjust="spacingAndGlyphs" xml:space="preserve">0.251±0.049</text>
<text x="2895.4" y="791.3" font-size="16.8" fill="#111" font-family='"Liberation Serif", "DejaVu Serif", serif' text-anchor="middle" textLength="90.4" lengthAdjust="spacingAndGlyphs" xml:space="preserve">0.249±0.046</text>
<text x="3005.8" y="791.3" font-size="16.8" fill="#111" font-family='"Liberation Serif", "DejaVu Serif", serif' text-anchor="middle" textLength="90.4" lengthAdjust="spacingAndGlyphs" xml:space="preserve">0.243±0.047</text>
<text x="3116.4" y="791.3" font-size="16.8" fill="#111" font-family='"Liberation Serif", "DejaVu Serif", serif' text-anchor="middle" textLength="90.4" lengthAdjust="spacingAndGlyphs" xml:space="preserve">0.252±0.052</text>
<text x="3229.2" y="791.3" font-size="16.8" fill="#111" font-family='"Liberation Serif", "DejaVu Serif", serif' text-anchor="middle" textLength="90.4" lengthAdjust="spacingAndGlyphs" xml:space="preserve">0.268±0.053</text>
<text x="3346" y="791.3" font-size="16.8" fill="#111" font-family='"Liberation Serif", "DejaVu Serif", serif' text-anchor="middle" textLength="90.4" lengthAdjust="spacingAndGlyphs" xml:space="preserve">0.275±0.046</text>
<text x="2652.4" y="810" font-size="16.8" fill="#111" font-family='"Liberation Serif", "DejaVu Serif", serif' text-anchor="middle" xml:space="preserve">DCCA_EY</text>
<text x="2785" y="810" font-size="16.8" fill="#111" font-family='"Liberation Serif", "DejaVu Serif", serif' text-anchor="middle" textLength="90.4" lengthAdjust="spacingAndGlyphs" xml:space="preserve">0.195±0.050</text>
<text x="2895.4" y="810" font-size="16.8" fill="#111" font-family='"Liberation Serif", "DejaVu Serif", serif' text-anchor="middle" textLength="90.4" lengthAdjust="spacingAndGlyphs" xml:space="preserve">0.205±0.044</text>
<text x="3005.8" y="810" font-size="16.8" fill="#111" font-family='"Liberation Serif", "DejaVu Serif", serif' text-anchor="middle" textLength="90.4" lengthAdjust="spacingAndGlyphs" xml:space="preserve">0.220±0.041</text>
<text x="3116.4" y="810" font-size="16.8" fill="#111" font-family='"Liberation Serif", "DejaVu Serif", serif' text-anchor="middle" textLength="90.4" lengthAdjust="spacingAndGlyphs" xml:space="preserve">0.214±0.046</text>
<text x="3229.2" y="810" font-size="16.8" fill="#111" font-family='"Liberation Serif", "DejaVu Serif", serif' text-anchor="middle" textLength="90.4" lengthAdjust="spacingAndGlyphs" xml:space="preserve">0.215±0.046</text>
<text x="3346" y="810" font-size="16.8" fill="#111" font-family='"Liberation Serif", "DejaVu Serif", serif' text-anchor="middle" textLength="90.4" lengthAdjust="spacingAndGlyphs" xml:space="preserve">0.234±0.041</text>
<text x="2652.4" y="828.7" font-size="16.8" fill="#111" font-family='"Liberation Serif", "DejaVu Serif", serif' text-anchor="middle" xml:space="preserve">NR-DCCA (ours)</text>
<text x="2785" y="828.7" font-size="16.8" fill="#111" font-family='"Liberation Serif", "DejaVu Serif", serif' text-anchor="middle" textLength="90.4" lengthAdjust="spacingAndGlyphs" xml:space="preserve"><tspan font-weight="bold">0.311</tspan><tspan>±0.043</tspan></text>
<text x="2895.4" y="828.7" font-size="16.8" fill="#111" font-family='"Liberation Serif", "DejaVu Serif", serif' text-anchor="middle" textLength="90.4" lengthAdjust="spacingAndGlyphs" xml:space="preserve"><tspan font-weight="bold">0.314</tspan><tspan>±0.046</tspan></text>
<text x="3005.8" y="828.7" font-size="16.8" fill="#111" font-family='"Liberation Serif", "DejaVu Serif", serif' text-anchor="middle" textLength="90.4" lengthAdjust="spacingAndGlyphs" xml:space="preserve"><tspan font-weight="bold">0.306</tspan><tspan>±0.043</tspan></text>
<text x="3116.4" y="828.7" font-size="16.8" fill="#111" font-family='"Liberation Serif", "DejaVu Serif", serif' text-anchor="middle" textLength="90.4" lengthAdjust="spacingAndGlyphs" xml:space="preserve"><tspan font-weight="bold">0.309</tspan><tspan>±0.042</tspan></text>
<text x="3229.2" y="828.7" font-size="16.8" fill="#111" font-family='"Liberation Serif", "DejaVu Serif", serif' text-anchor="middle" textLength="90.4" lengthAdjust="spacingAndGlyphs" xml:space="preserve"><tspan font-weight="bold">0.313</tspan><tspan>±0.049</tspan></text>
<text x="3346" y="828.7" font-size="16.8" fill="#111" font-family='"Liberation Serif", "DejaVu Serif", serif' text-anchor="middle" textLength="90.4" lengthAdjust="spacingAndGlyphs" xml:space="preserve"><tspan font-weight="bold">0.322</tspan><tspan>±0.040</tspan></text>
<text x="2652.4" y="848.1" font-size="16.8" fill="#111" font-family='"Liberation Serif", "DejaVu Serif", serif' text-anchor="middle" xml:space="preserve">DGCCA</text>
<text x="2785" y="848.1" font-size="16.8" fill="#111" font-family='"Liberation Serif", "DejaVu Serif", serif' text-anchor="middle" textLength="90.4" lengthAdjust="spacingAndGlyphs" xml:space="preserve">0.231±0.042</text>
<text x="2895.4" y="848.1" font-size="16.8" fill="#111" font-family='"Liberation Serif", "DejaVu Serif", serif' text-anchor="middle" textLength="90.4" lengthAdjust="spacingAndGlyphs" xml:space="preserve">0.244±0.040</text>
<text x="3005.8" y="848.1" font-size="16.8" fill="#111" font-family='"Liberation Serif", "DejaVu Serif", serif' text-anchor="middle" textLength="90.4" lengthAdjust="spacingAndGlyphs" xml:space="preserve">0.242±0.040</text>
<text x="3116.4" y="848.1" font-size="16.8" fill="#111" font-family='"Liberation Serif", "DejaVu Serif", serif' text-anchor="middle" textLength="90.4" lengthAdjust="spacingAndGlyphs" xml:space="preserve">0.211±0.039</text>
<text x="3229.2" y="848.1" font-size="16.8" fill="#111" font-family='"Liberation Serif", "DejaVu Serif", serif' text-anchor="middle" textLength="90.4" lengthAdjust="spacingAndGlyphs" xml:space="preserve">0.240±0.040</text>
<text x="3346" y="848.1" font-size="16.8" fill="#111" font-family='"Liberation Serif", "DejaVu Serif", serif' text-anchor="middle" textLength="90.4" lengthAdjust="spacingAndGlyphs" xml:space="preserve">0.256±0.037</text>
<text x="2652.4" y="866.8" font-size="16.8" fill="#111" font-family='"Liberation Serif", "DejaVu Serif", serif' text-anchor="middle" xml:space="preserve">DGCCAE</text>
<text x="2785" y="866.8" font-size="16.8" fill="#111" font-family='"Liberation Serif", "DejaVu Serif", serif' text-anchor="middle" textLength="90.4" lengthAdjust="spacingAndGlyphs" xml:space="preserve">0.209±0.039</text>
<text x="2895.4" y="866.8" font-size="16.8" fill="#111" font-family='"Liberation Serif", "DejaVu Serif", serif' text-anchor="middle" textLength="90.4" lengthAdjust="spacingAndGlyphs" xml:space="preserve">0.235±0.042</text>
<text x="3005.8" y="866.8" font-size="16.8" fill="#111" font-family='"Liberation Serif", "DejaVu Serif", serif' text-anchor="middle" textLength="90.4" lengthAdjust="spacingAndGlyphs" xml:space="preserve">0.240±0.040</text>
<text x="3116.4" y="866.8" font-size="16.8" fill="#111" font-family='"Liberation Serif", "DejaVu Serif", serif' text-anchor="middle" textLength="90.4" lengthAdjust="spacingAndGlyphs" xml:space="preserve">0.214±0.038</text>
<text x="3229.2" y="866.8" font-size="16.8" fill="#111" font-family='"Liberation Serif", "DejaVu Serif", serif' text-anchor="middle" textLength="90.4" lengthAdjust="spacingAndGlyphs" xml:space="preserve">0.235±0.041</text>
<text x="3346" y="866.8" font-size="16.8" fill="#111" font-family='"Liberation Serif", "DejaVu Serif", serif' text-anchor="middle" textLength="90.4" lengthAdjust="spacingAndGlyphs" xml:space="preserve">0.254±0.036</text>
<text x="2652.4" y="885.5" font-size="16.8" fill="#111" font-family='"Liberation Serif", "DejaVu Serif", serif' text-anchor="middle" xml:space="preserve">DGCCA_PRIVATE</text>
<text x="2785" y="885.5" font-size="16.8" fill="#111" font-family='"Liberation Serif", "DejaVu Serif", serif' text-anchor="middle" textLength="90.4" lengthAdjust="spacingAndGlyphs" xml:space="preserve">0.264±0.039</text>
<text x="2895.4" y="885.5" font-size="16.8" fill="#111" font-family='"Liberation Serif", "DejaVu Serif", serif' text-anchor="middle" textLength="90.4" lengthAdjust="spacingAndGlyphs" xml:space="preserve">0.171±0.040</text>
<text x="3005.8" y="885.5" font-size="16.8" fill="#111" font-family='"Liberation Serif", "DejaVu Serif", serif' text-anchor="middle" textLength="90.4" lengthAdjust="spacingAndGlyphs" xml:space="preserve">0.176±0.042</text>
<text x="3116.4" y="885.5" font-size="16.8" fill="#111" font-family='"Liberation Serif", "DejaVu Serif", serif' text-anchor="middle" textLength="90.4" lengthAdjust="spacingAndGlyphs" xml:space="preserve">0.168±0.039</text>
<text x="3229.2" y="885.5" font-size="16.8" fill="#111" font-family='"Liberation Serif", "DejaVu Serif", serif' text-anchor="middle" textLength="90.4" lengthAdjust="spacingAndGlyphs" xml:space="preserve">0.172±0.042</text>
<text x="3346" y="885.5" font-size="16.8" fill="#111" font-family='"Liberation Serif", "DejaVu Serif", serif' text-anchor="middle" textLength="90.4" lengthAdjust="spacingAndGlyphs" xml:space="preserve">0.181±0.035</text>
<text x="2652.4" y="904.2" font-size="16.8" fill="#111" font-family='"Liberation Serif", "DejaVu Serif", serif' text-anchor="middle" xml:space="preserve">NR-DGCCA (ours)</text>
<text x="2785" y="904.2" font-size="16.8" fill="#111" font-family='"Liberation Serif", "DejaVu Serif", serif' text-anchor="middle" textLength="90.4" lengthAdjust="spacingAndGlyphs" xml:space="preserve"><tspan font-weight="bold">0.314</tspan><tspan>±0.044</tspan></text>
<text x="2895.4" y="904.2" font-size="16.8" fill="#111" font-family='"Liberation Serif", "DejaVu Serif", serif' text-anchor="middle" textLength="90.4" lengthAdjust="spacingAndGlyphs" xml:space="preserve"><tspan font-weight="bold">0.317</tspan><tspan>±0.045</tspan></text>
<text x="3005.8" y="904.2" font-size="16.8" fill="#111" font-family='"Liberation Serif", "DejaVu Serif", serif' text-anchor="middle" textLength="90.4" lengthAdjust="spacingAndGlyphs" xml:space="preserve"><tspan font-weight="bold">0.305</tspan><tspan>±0.043</tspan></text>
<text x="3116.4" y="904.2" font-size="16.8" fill="#111" font-family='"Liberation Serif", "DejaVu Serif", serif' text-anchor="middle" textLength="90.4" lengthAdjust="spacingAndGlyphs" xml:space="preserve"><tspan font-weight="bold">0.308</tspan><tspan>±0.044</tspan></text>
<text x="3229.2" y="904.2" font-size="16.8" fill="#111" font-family='"Liberation Serif", "DejaVu Serif", serif' text-anchor="middle" textLength="90.4" lengthAdjust="spacingAndGlyphs" xml:space="preserve"><tspan font-weight="bold">0.315</tspan><tspan>±0.049</tspan></text>
<text x="3346" y="904.2" font-size="16.8" fill="#111" font-family='"Liberation Serif", "DejaVu Serif", serif' text-anchor="middle" textLength="90.4" lengthAdjust="spacingAndGlyphs" xml:space="preserve"><tspan font-weight="bold">0.322</tspan><tspan>±0.040</tspan></text>
<text x="2998" y="1000.4" font-size="19.6" fill="#111" font-family='"Liberation Serif", "DejaVu Serif", serif' text-anchor="middle" textLength="361.5" lengthAdjust="spacingAndGlyphs" xml:space="preserve">Table 4: Performance in real-world datasets</text>
<path d="M2591.4,1017.9H3405.4M2591.4,1037.4H3405.4M2591.4,1058H3405.4M2591.4,1118H3405.4M2591.4,1138.2H3405.4M2591.4,1217.7H3405.4M2591.4,1296.4H3405.4M2753.4,1017.9V1296.4M2874.9,1017.9V1296.4M2996.4,1017.9V1296.4M3118.7,1017.9V1296.4M3240.2,1017.9V1296.4M3302.2,1017.9V1296.4" stroke="#4a4a4a" stroke-width="1" fill="none"/>
<text x="2672.4" y="1031.5" font-size="17.6" fill="#111" font-family='"Liberation Serif", "DejaVu Serif", serif' text-anchor="middle" xml:space="preserve">F1 Score/Data</text>
<text x="2814.2" y="1031.5" font-size="17.6" fill="#111" font-family='"Liberation Serif", "DejaVu Serif", serif' text-anchor="middle" xml:space="preserve">PolyMnist (2)</text>
<text x="2935.7" y="1031.5" font-size="17.6" fill="#111" font-family='"Liberation Serif", "DejaVu Serif", serif' text-anchor="middle" xml:space="preserve">PolyMnist (3)</text>
<text x="3057.6" y="1031.5" font-size="17.6" fill="#111" font-family='"Liberation Serif", "DejaVu Serif", serif' text-anchor="middle" xml:space="preserve">PolyMnist (4)</text>
<text x="3179.5" y="1031.5" font-size="17.6" fill="#111" font-family='"Liberation Serif", "DejaVu Serif", serif' text-anchor="middle" xml:space="preserve">PolyMnist (5)</text>
<text x="3271.2" y="1031.5" font-size="17.6" fill="#111" font-family='"Liberation Serif", "DejaVu Serif", serif' text-anchor="middle" xml:space="preserve">CUB</text>
<text x="3353.8" y="1031.5" font-size="17.6" fill="#111" font-family='"Liberation Serif", "DejaVu Serif", serif' text-anchor="middle" xml:space="preserve">Caltech101</text>
<text x="2672.4" y="1052.2" font-size="17.6" fill="#111" font-family='"Liberation Serif", "DejaVu Serif", serif' text-anchor="middle" xml:space="preserve">CONCAT</text>
<text x="2814.2" y="1052.2" font-size="17.6" fill="#111" font-family='"Liberation Serif", "DejaVu Serif", serif' text-anchor="middle" xml:space="preserve">0.828</text>
<text x="2935.7" y="1052.2" font-size="17.6" fill="#111" font-family='"Liberation Serif", "DejaVu Serif", serif' text-anchor="middle" xml:space="preserve">0.937</text>
<text x="3057.6" y="1052.2" font-size="17.6" fill="#111" font-family='"Liberation Serif", "DejaVu Serif", serif' text-anchor="middle" xml:space="preserve">0.964</text>
<text x="3179.5" y="1052.2" font-size="17.6" fill="#111" font-family='"Liberation Serif", "DejaVu Serif", serif' text-anchor="middle" xml:space="preserve">0.962</text>
<text x="3271.2" y="1052.2" font-size="17.6" fill="#111" font-family='"Liberation Serif", "DejaVu Serif", serif' text-anchor="middle" xml:space="preserve">0.878</text>
<text x="3353.8" y="1052.2" font-size="17.6" fill="#111" font-family='"Liberation Serif", "DejaVu Serif", serif' text-anchor="middle" xml:space="preserve">0.597</text>
<text x="2672.4" y="1072.4" font-size="17.6" fill="#111" font-family='"Liberation Serif", "DejaVu Serif", serif' text-anchor="middle" xml:space="preserve">Linear_CCA</text>
<text x="2814.2" y="1072.4" font-size="17.6" fill="#111" font-family='"Liberation Serif", "DejaVu Serif", serif' text-anchor="middle" xml:space="preserve">0.818</text>
<text x="2935.7" y="1072.4" font-size="17.6" fill="#111" font-family='"Liberation Serif", "DejaVu Serif", serif' text-anchor="middle" xml:space="preserve">0.929</text>
<text x="3057.6" y="1072.4" font-size="17.6" fill="#111" font-family='"Liberation Serif", "DejaVu Serif", serif' text-anchor="middle" xml:space="preserve">0.955</text>
<text x="3179.5" y="1072.4" font-size="17.6" fill="#111" font-family='"Liberation Serif", "DejaVu Serif", serif' text-anchor="middle" xml:space="preserve">0.957</text>
<text x="3271.2" y="1072.4" font-size="17.6" fill="#111" font-family='"Liberation Serif", "DejaVu Serif", serif' text-anchor="middle" xml:space="preserve">0.878</text>
<text x="3353.8" y="1072.4" font-size="17.6" fill="#111" font-family='"Liberation Serif", "DejaVu Serif", serif' text-anchor="middle" xml:space="preserve">0.599</text>
<text x="2672.4" y="1091.9" font-size="17.6" fill="#111" font-family='"Liberation Serif", "DejaVu Serif", serif' text-anchor="middle" xml:space="preserve">Linear_GCCA</text>
<text x="2814.2" y="1091.9" font-size="17.6" fill="#111" font-family='"Liberation Serif", "DejaVu Serif", serif' text-anchor="middle" xml:space="preserve">0.818</text>
<text x="2935.7" y="1091.9" font-size="17.6" fill="#111" font-family='"Liberation Serif", "DejaVu Serif", serif' text-anchor="middle" xml:space="preserve">0.828</text>
<text x="3057.6" y="1091.9" font-size="17.6" fill="#111" font-family='"Liberation Serif", "DejaVu Serif", serif' text-anchor="middle" xml:space="preserve">0.956</text>
<text x="3179.5" y="1091.9" font-size="17.6" fill="#111" font-family='"Liberation Serif", "DejaVu Serif", serif' text-anchor="middle" xml:space="preserve">0.958</text>
<text x="3271.2" y="1091.9" font-size="17.6" fill="#111" font-family='"Liberation Serif", "DejaVu Serif", serif' text-anchor="middle" xml:space="preserve">0.879</text>
<text x="3353.8" y="1091.9" font-size="17.6" fill="#111" font-family='"Liberation Serif", "DejaVu Serif", serif' text-anchor="middle" xml:space="preserve">0.596</text>
<text x="2672.4" y="1111.7" font-size="17.6" fill="#111" font-family='"Liberation Serif", "DejaVu Serif", serif' text-anchor="middle" xml:space="preserve">PRCCA</text>
<text x="2814.2" y="1111.7" font-size="17.6" fill="#111" font-family='"Liberation Serif", "DejaVu Serif", serif' text-anchor="middle" xml:space="preserve">0.712</text>
<text x="2935.7" y="1111.7" font-size="17.6" fill="#111" font-family='"Liberation Serif", "DejaVu Serif", serif' text-anchor="middle" xml:space="preserve">0.849</text>
<text x="3057.6" y="1111.7" font-size="17.6" fill="#111" font-family='"Liberation Serif", "DejaVu Serif", serif' text-anchor="middle" xml:space="preserve">0.899</text>
<text x="3179.5" y="1111.7" font-size="17.6" fill="#111" font-family='"Liberation Serif", "DejaVu Serif", serif' text-anchor="middle" xml:space="preserve">0.918</text>
<text x="3271.2" y="1111.7" font-size="17.6" fill="#111" font-family='"Liberation Serif", "DejaVu Serif", serif' text-anchor="middle" xml:space="preserve">-</text>
<text x="3353.8" y="1111.7" font-size="17.6" fill="#111" font-family='"Liberation Serif", "DejaVu Serif", serif' text-anchor="middle" xml:space="preserve">-</text>
<text x="2672.4" y="1132.4" font-size="17.6" fill="#111" font-family='"Liberation Serif", "DejaVu Serif", serif' text-anchor="middle" xml:space="preserve">MVTCAE</text>
<text x="2814.2" y="1132.4" font-size="17.6" fill="#111" font-family='"Liberation Serif", "DejaVu Serif", serif' text-anchor="middle" xml:space="preserve">0.852</text>
<text x="2935.7" y="1132.4" font-size="17.6" fill="#111" font-family='"Liberation Serif", "DejaVu Serif", serif' text-anchor="middle" xml:space="preserve">0.901</text>
<text x="3057.6" y="1132.4" font-size="17.6" fill="#111" font-family='"Liberation Serif", "DejaVu Serif", serif' text-anchor="middle" xml:space="preserve">0.964</text>
<text x="3179.5" y="1132.4" font-size="17.6" fill="#111" font-family='"Liberation Serif", "DejaVu Serif", serif' text-anchor="middle" xml:space="preserve">0.964</text>
<text x="3271.2" y="1132.4" font-size="17.6" fill="#111" font-family='"Liberation Serif", "DejaVu Serif", serif' text-anchor="middle" xml:space="preserve">0.900</text>
<text x="3353.8" y="1132.4" font-size="17.6" fill="#111" font-family='"Liberation Serif", "DejaVu Serif", serif' text-anchor="middle" xml:space="preserve">0.284</text>
<text x="2672.4" y="1152.3" font-size="17.6" fill="#111" font-family='"Liberation Serif", "DejaVu Serif", serif' text-anchor="middle" xml:space="preserve">DCCA</text>
<text x="2814.2" y="1152.3" font-size="17.6" fill="#111" font-family='"Liberation Serif", "DejaVu Serif", serif' text-anchor="middle" xml:space="preserve">0.865</text>
<text x="2935.7" y="1152.3" font-size="17.6" fill="#111" font-family='"Liberation Serif", "DejaVu Serif", serif' text-anchor="middle" xml:space="preserve">0.957</text>
<text x="3057.6" y="1152.3" font-size="17.6" fill="#111" font-family='"Liberation Serif", "DejaVu Serif", serif' text-anchor="middle" xml:space="preserve">0.964</text>
<text x="3179.5" y="1152.3" font-size="17.6" fill="#111" font-family='"Liberation Serif", "DejaVu Serif", serif' text-anchor="middle" xml:space="preserve">0.938</text>
<text x="3271.2" y="1152.3" font-size="17.6" fill="#111" font-family='"Liberation Serif", "DejaVu Serif", serif' text-anchor="middle" xml:space="preserve">0.805</text>
<text x="3353.8" y="1152.3" font-size="17.6" fill="#111" font-family='"Liberation Serif", "DejaVu Serif", serif' text-anchor="middle" xml:space="preserve">0.604</text>
<text x="2672.4" y="1172.1" font-size="17.6" fill="#111" font-family='"Liberation Serif", "DejaVu Serif", serif' text-anchor="middle" xml:space="preserve">DCCAE</text>
<text x="2814.2" y="1172.1" font-size="17.6" fill="#111" font-family='"Liberation Serif", "DejaVu Serif", serif' text-anchor="middle" xml:space="preserve">0.868</text>
<text x="2935.7" y="1172.1" font-size="17.6" fill="#111" font-family='"Liberation Serif", "DejaVu Serif", serif' text-anchor="middle" xml:space="preserve">0.956</text>
<text x="3057.6" y="1172.1" font-size="17.6" fill="#111" font-family='"Liberation Serif", "DejaVu Serif", serif' text-anchor="middle" xml:space="preserve">0.961</text>
<text x="3179.5" y="1172.1" font-size="17.6" fill="#111" font-family='"Liberation Serif", "DejaVu Serif", serif' text-anchor="middle" xml:space="preserve">0.987</text>
<text x="3271.2" y="1172.1" font-size="17.6" fill="#111" font-family='"Liberation Serif", "DejaVu Serif", serif' text-anchor="middle" xml:space="preserve">0.850</text>
<text x="3353.8" y="1172.1" font-size="17.6" fill="#111" font-family='"Liberation Serif", "DejaVu Serif", serif' text-anchor="middle" xml:space="preserve">0.605</text>
<text x="2672.4" y="1191.6" font-size="17.6" fill="#111" font-family='"Liberation Serif", "DejaVu Serif", serif' text-anchor="middle" xml:space="preserve">DCCA_PRIVATE</text>
<text x="2814.2" y="1191.6" font-size="17.6" fill="#111" font-family='"Liberation Serif", "DejaVu Serif", serif' text-anchor="middle" xml:space="preserve"><tspan font-weight="bold">0.915</tspan></text>
<text x="2935.7" y="1191.6" font-size="17.6" fill="#111" font-family='"Liberation Serif", "DejaVu Serif", serif' text-anchor="middle" xml:space="preserve">0.959</text>
<text x="3057.6" y="1191.6" font-size="17.6" fill="#111" font-family='"Liberation Serif", "DejaVu Serif", serif' text-anchor="middle" xml:space="preserve">0.968</text>
<text x="3179.5" y="1191.6" font-size="17.6" fill="#111" font-family='"Liberation Serif", "DejaVu Serif", serif' text-anchor="middle" xml:space="preserve">0.955</text>
<text x="3271.2" y="1191.6" font-size="17.6" fill="#111" font-family='"Liberation Serif", "DejaVu Serif", serif' text-anchor="middle" xml:space="preserve">0.853</text>
<text x="3353.8" y="1191.6" font-size="17.6" fill="#111" font-family='"Liberation Serif", "DejaVu Serif", serif' text-anchor="middle" xml:space="preserve">0.480</text>
<text x="2672.4" y="1211.1" font-size="17.6" fill="#111" font-family='"Liberation Serif", "DejaVu Serif", serif' text-anchor="middle" xml:space="preserve">NR-DCCA (ours)</text>
<text x="2814.2" y="1211.1" font-size="17.6" fill="#111" font-family='"Liberation Serif", "DejaVu Serif", serif' text-anchor="middle" xml:space="preserve">0.910</text>
<text x="2935.7" y="1211.1" font-size="17.6" fill="#111" font-family='"Liberation Serif", "DejaVu Serif", serif' text-anchor="middle" xml:space="preserve"><tspan font-weight="bold">0.970</tspan></text>
<text x="3057.6" y="1211.1" font-size="17.6" fill="#111" font-family='"Liberation Serif", "DejaVu Serif", serif' text-anchor="middle" xml:space="preserve"><tspan font-weight="bold">0.991</tspan></text>
<text x="3179.5" y="1211.1" font-size="17.6" fill="#111" font-family='"Liberation Serif", "DejaVu Serif", serif' text-anchor="middle" xml:space="preserve"><tspan font-weight="bold">0.993</tspan></text>
<text x="3271.2" y="1211.1" font-size="17.6" fill="#111" font-family='"Liberation Serif", "DejaVu Serif", serif' text-anchor="middle" xml:space="preserve"><tspan font-weight="bold">0.921</tspan></text>
<text x="3353.8" y="1211.1" font-size="17.6" fill="#111" font-family='"Liberation Serif", "DejaVu Serif", serif' text-anchor="middle" xml:space="preserve"><tspan font-weight="bold">0.625</tspan></text>
<text x="2672.4" y="1231.7" font-size="17.6" fill="#111" font-family='"Liberation Serif", "DejaVu Serif", serif' text-anchor="middle" xml:space="preserve">DGCCA</text>
<text x="2814.2" y="1231.7" font-size="17.6" fill="#111" font-family='"Liberation Serif", "DejaVu Serif", serif' text-anchor="middle" xml:space="preserve">0.875</text>
<text x="2935.7" y="1231.7" font-size="17.6" fill="#111" font-family='"Liberation Serif", "DejaVu Serif", serif' text-anchor="middle" xml:space="preserve">0.964</text>
<text x="3057.6" y="1231.7" font-size="17.6" fill="#111" font-family='"Liberation Serif", "DejaVu Serif", serif' text-anchor="middle" xml:space="preserve">0.986</text>
<text x="3179.5" y="1231.7" font-size="17.6" fill="#111" font-family='"Liberation Serif", "DejaVu Serif", serif' text-anchor="middle" xml:space="preserve">0.941</text>
<text x="3271.2" y="1231.7" font-size="17.6" fill="#111" font-family='"Liberation Serif", "DejaVu Serif", serif' text-anchor="middle" xml:space="preserve">0.790</text>
<text x="3353.8" y="1231.7" font-size="17.6" fill="#111" font-family='"Liberation Serif", "DejaVu Serif", serif' text-anchor="middle" xml:space="preserve">0.617</text>
<text x="2672.4" y="1251.2" font-size="17.6" fill="#111" font-family='"Liberation Serif", "DejaVu Serif", serif' text-anchor="middle" xml:space="preserve">DGCCAE</text>
<text x="2814.2" y="1251.2" font-size="17.6" fill="#111" font-family='"Liberation Serif", "DejaVu Serif", serif' text-anchor="middle" xml:space="preserve">0.879</text>
<text x="2935.7" y="1251.2" font-size="17.6" fill="#111" font-family='"Liberation Serif", "DejaVu Serif", serif' text-anchor="middle" xml:space="preserve">0.960</text>
<text x="3057.6" y="1251.2" font-size="17.6" fill="#111" font-family='"Liberation Serif", "DejaVu Serif", serif' text-anchor="middle" xml:space="preserve">0.988</text>
<text x="3179.5" y="1251.2" font-size="17.6" fill="#111" font-family='"Liberation Serif", "DejaVu Serif", serif' text-anchor="middle" xml:space="preserve">0.934</text>
<text x="3271.2" y="1251.2" font-size="17.6" fill="#111" font-family='"Liberation Serif", "DejaVu Serif", serif' text-anchor="middle" xml:space="preserve">0.814</text>
<text x="3353.8" y="1251.2" font-size="17.6" fill="#111" font-family='"Liberation Serif", "DejaVu Serif", serif' text-anchor="middle" xml:space="preserve">0.612</text>
<text x="2672.4" y="1271" font-size="17.6" fill="#111" font-family='"Liberation Serif", "DejaVu Serif", serif' text-anchor="middle" xml:space="preserve">DGCCA_PRIVATE</text>
<text x="2814.2" y="1271" font-size="17.6" fill="#111" font-family='"Liberation Serif", "DejaVu Serif", serif' text-anchor="middle" xml:space="preserve"><tspan font-weight="bold">0.907</tspan></text>
<text x="2935.7" y="1271" font-size="17.6" fill="#111" font-family='"Liberation Serif", "DejaVu Serif", serif' text-anchor="middle" xml:space="preserve">0.965</text>
<text x="3057.6" y="1271" font-size="17.6" fill="#111" font-family='"Liberation Serif", "DejaVu Serif", serif' text-anchor="middle" xml:space="preserve">0.969</text>
<text x="3179.5" y="1271" font-size="17.6" fill="#111" font-family='"Liberation Serif", "DejaVu Serif", serif' text-anchor="middle" xml:space="preserve">0.969</text>
<text x="3271.2" y="1271" font-size="17.6" fill="#111" font-family='"Liberation Serif", "DejaVu Serif", serif' text-anchor="middle" xml:space="preserve">0.864</text>
<text x="3353.8" y="1271" font-size="17.6" fill="#111" font-family='"Liberation Serif", "DejaVu Serif", serif' text-anchor="middle" xml:space="preserve">0.476</text>
<text x="2672.4" y="1290.5" font-size="17.6" fill="#111" font-family='"Liberation Serif", "DejaVu Serif", serif' text-anchor="middle" xml:space="preserve">NR-DGCCA(ours)</text>
<text x="2814.2" y="1290.5" font-size="17.6" fill="#111" font-family='"Liberation Serif", "DejaVu Serif", serif' text-anchor="middle" xml:space="preserve">0.903</text>
<text x="2935.7" y="1290.5" font-size="17.6" fill="#111" font-family='"Liberation Serif", "DejaVu Serif", serif' text-anchor="middle" xml:space="preserve"><tspan font-weight="bold">0.971</tspan></text>
<text x="3057.6" y="1290.5" font-size="17.6" fill="#111" font-family='"Liberation Serif", "DejaVu Serif", serif' text-anchor="middle" xml:space="preserve"><tspan font-weight="bold">0.991</tspan></text>
<text x="3179.5" y="1290.5" font-size="17.6" fill="#111" font-family='"Liberation Serif", "DejaVu Serif", serif' text-anchor="middle" xml:space="preserve"><tspan font-weight="bold">0.994</tspan></text>
<text x="3271.2" y="1290.5" font-size="17.6" fill="#111" font-family='"Liberation Serif", "DejaVu Serif", serif' text-anchor="middle" xml:space="preserve"><tspan font-weight="bold">0.917</tspan></text>
<text x="3353.8" y="1290.5" font-size="17.6" fill="#111" font-family='"Liberation Serif", "DejaVu Serif", serif' text-anchor="middle" xml:space="preserve"><tspan font-weight="bold">0.621</tspan></text>
</g>
<g id="panel6">
<text x="2935.5" y="1725.4" font-size="38" fill="#7030A0" font-family='"Liberation Sans", "DejaVu Sans", sans-serif' font-weight="bold" textLength="102.5" lengthAdjust="spacingAndGlyphs" xml:space="preserve">Paper</text>
<path d="M2856.1,1767.95h65.1v9.3h-65.1zM2930.5,1767.95h9.3v9.3h-9.3zM3004.9,1767.95h9.3v9.3h-9.3zM3023.5,1767.95h18.6v9.3h-18.6zM3051.4,1767.95h37.2v9.3h-37.2zM3097.9,1767.95h65.1v9.3h-65.1zM2856.1,1777.25h9.3v9.3h-9.3zM2911.9,1777.25h9.3v9.3h-9.3zM2939.8,1777.25h46.5v9.3h-46.5zM3032.8,1777.25h18.6v9.3h-18.6zM3060.7,1777.25h18.6v9.3h-18.6zM3097.9,1777.25h9.3v9.3h-9.3zM3153.7,1777.25h9.3v9.3h-9.3zM2856.1,1786.55h9.3v9.3h-9.3zM2874.7,1786.55h27.9v9.3h-27.9zM2911.9,1786.55h9.3v9.3h-9.3zM2949.1,1786.55h9.3v9.3h-9.3zM2967.7,1786.55h37.2v9.3h-37.2zM3042.1,1786.55h9.3v9.3h-9.3zM3070.0,1786.55h18.6v9.3h-18.6zM3097.9,1786.55h9.3v9.3h-9.3zM3116.5,1786.55h27.9v9.3h-27.9zM3153.7,1786.55h9.3v9.3h-9.3zM2856.1,1795.85h9.3v9.3h-9.3zM2874.7,1795.85h27.9v9.3h-27.9zM2911.9,1795.85h9.3v9.3h-9.3zM2930.5,1795.85h9.3v9.3h-9.3zM2949.1,1795.85h9.3v9.3h-9.3zM2995.6,1795.85h27.9v9.3h-27.9zM3042.1,1795.85h9.3v9.3h-9.3zM3060.7,1795.85h9.3v9.3h-9.3zM3097.9,1795.85h9.3v9.3h-9.3zM3116.5,1795.85h27.9v9.3h-27.9zM3153.7,1795.85h9.3v9.3h-9.3zM2856.1,1805.15h9.3v9.3h-9.3zM2874.7,1805.15h27.9v9.3h-27.9zM2911.9,1805.15h9.3v9.3h-9.3zM2939.8,1805.15h18.6v9.3h-18.6zM2977.0,1805.15h9.3v9.3h-9.3zM3004.9,1805.15h27.9v9.3h-27.9zM3097.9,1805.15h9.3v9.3h-9.3zM3116.5,1805.15h27.9v9.3h-27.9zM3153.7,1805.15h9.3v9.3h-9.3zM2856.1,1814.45h9.3v9.3h-9.3zM2911.9,1814.45h9.3v9.3h-9.3zM2939.8,1814.45h9.3v9.3h-9.3zM2967.7,1814.45h18.6v9.3h-18.6zM2995.6,1814.45h27.9v9.3h-27.9zM3051.4,1814.45h9.3v9.3h-9.3zM3097.9,1814.45h9.3v9.3h-9.3zM3153.7,1814.45h9.3v9.3h-9.3zM2856.1,1823.75h65.1v9.3h-65.1zM2930.5,1823.75h9.3v9.3h-9.3zM2949.1,1823.75h9.3v9.3h-9.3zM2967.7,1823.75h9.3v9.3h-9.3zM2986.3,1823.75h9.3v9.3h-9.3zM3004.9,1823.75h9.3v9.3h-9.3zM3023.5,1823.75h9.3v9.3h-9.3zM3042.1,1823.75h9.3v9.3h-9.3zM3060.7,1823.75h9.3v9.3h-9.3zM3079.3,1823.75h9.3v9.3h-9.3zM3097.9,1823.75h65.1v9.3h-65.1zM2949.1,1833.05h18.6v9.3h-18.6zM3004.9,1833.05h18.6v9.3h-18.6zM3042.1,1833.05h27.9v9.3h-27.9zM3079.3,1833.05h9.3v9.3h-9.3zM2874.7,1842.35h9.3v9.3h-9.3zM2893.3,1842.35h27.9v9.3h-27.9zM2930.5,1842.35h9.3v9.3h-9.3zM2949.1,1842.35h27.9v9.3h-27.9zM3004.9,1842.35h18.6v9.3h-18.6zM3060.7,1842.35h18.6v9.3h-18.6zM3088.6,1842.35h9.3v9.3h-9.3zM3125.8,1842.35h9.3v9.3h-9.3zM3153.7,1842.35h9.3v9.3h-9.3zM2865.4,1851.65h9.3v9.3h-9.3zM2884.0,1851.65h9.3v9.3h-9.3zM2902.6,1851.65h9.3v9.3h-9.3zM2921.2,1851.65h27.9v9.3h-27.9zM2958.4,1851.65h18.6v9.3h-18.6zM3032.8,1851.65h46.5v9.3h-46.5zM3097.9,1851.65h9.3v9.3h-9.3zM3135.1,1851.65h9.3v9.3h-9.3zM3153.7,1851.65h9.3v9.3h-9.3zM2874.7,1860.95h9.3v9.3h-9.3zM2893.3,1860.95h9.3v9.3h-9.3zM2911.9,1860.95h55.8v9.3h-55.8zM2995.6,1860.95h9.3v9.3h-9.3zM3032.8,1860.95h9.3v9.3h-9.3zM3060.7,1860.95h18.6v9.3h-18.6zM3116.5,1860.95h18.6v9.3h-18.6zM3144.4,1860.95h18.6v9.3h-18.6zM2856.1,1870.25h9.3v9.3h-9.3zM2884.0,1870.25h18.6v9.3h-18.6zM2921.2,1870.25h27.9v9.3h-27.9zM2977.0,1870.25h9.3v9.3h-9.3zM2995.6,1870.25h18.6v9.3h-18.6zM3023.5,1870.25h18.6v9.3h-18.6zM3051.4,1870.25h18.6v9.3h-18.6zM3079.3,1870.25h9.3v9.3h-9.3zM2856.1,1879.55h18.6v9.3h-18.6zM2911.9,1879.55h46.5v9.3h-46.5zM2967.7,1879.55h9.3v9.3h-9.3zM2986.3,1879.55h9.3v9.3h-9.3zM3014.2,1879.55h9.3v9.3h-9.3zM3032.8,1879.55h9.3v9.3h-9.3zM3060.7,1879.55h55.8v9.3h-55.8zM3125.8,1879.55h9.3v9.3h-9.3zM3153.7,1879.55h9.3v9.3h-9.3zM2874.7,1888.85h9.3v9.3h-9.3zM2893.3,1888.85h18.6v9.3h-18.6zM2930.5,1888.85h46.5v9.3h-46.5zM2986.3,1888.85h18.6v9.3h-18.6zM3023.5,1888.85h9.3v9.3h-9.3zM3042.1,1888.85h9.3v9.3h-9.3zM3060.7,1888.85h9.3v9.3h-9.3zM3079.3,1888.85h9.3v9.3h-9.3zM3097.9,1888.85h9.3v9.3h-9.3zM3116.5,1888.85h9.3v9.3h-9.3zM3135.1,1888.85h27.9v9.3h-27.9zM2874.7,1898.15h27.9v9.3h-27.9zM2911.9,1898.15h37.2v9.3h-37.2zM2958.4,1898.15h27.9v9.3h-27.9zM2995.6,1898.15h9.3v9.3h-9.3zM3014.2,1898.15h18.6v9.3h-18.6zM3051.4,1898.15h9.3v9.3h-9.3zM3079.3,1898.15h27.9v9.3h-27.9zM3116.5,1898.15h9.3v9.3h-9.3zM3135.1,1898.15h27.9v9.3h-27.9zM2856.1,1907.45h9.3v9.3h-9.3zM2874.7,1907.45h9.3v9.3h-9.3zM2893.3,1907.45h9.3v9.3h-9.3zM2921.2,1907.45h9.3v9.3h-9.3zM2939.8,1907.45h27.9v9.3h-27.9zM3023.5,1907.45h18.6v9.3h-18.6zM3051.4,1907.45h18.6v9.3h-18.6zM3079.3,1907.45h55.8v9.3h-55.8zM2856.1,1916.75h9.3v9.3h-9.3zM2874.7,1916.75h46.5v9.3h-46.5zM2977.0,1916.75h18.6v9.3h-18.6zM3051.4,1916.75h27.9v9.3h-27.9zM3097.9,1916.75h9.3v9.3h-9.3zM3135.1,1916.75h27.9v9.3h-27.9zM2856.1,1926.05h18.6v9.3h-18.6zM2884.0,1926.05h9.3v9.3h-9.3zM2902.6,1926.05h9.3v9.3h-9.3zM2930.5,1926.05h18.6v9.3h-18.6zM2958.4,1926.05h27.9v9.3h-27.9zM2995.6,1926.05h9.3v9.3h-9.3zM3051.4,1926.05h9.3v9.3h-9.3zM3088.6,1926.05h18.6v9.3h-18.6zM3125.8,1926.05h18.6v9.3h-18.6zM2856.1,1935.35h18.6v9.3h-18.6zM2893.3,1935.35h9.3v9.3h-9.3zM2911.9,1935.35h18.6v9.3h-18.6zM2939.8,1935.35h9.3v9.3h-9.3zM2977.0,1935.35h27.9v9.3h-27.9zM3023.5,1935.35h18.6v9.3h-18.6zM3051.4,1935.35h18.6v9.3h-18.6zM3097.9,1935.35h9.3v9.3h-9.3zM3116.5,1935.35h9.3v9.3h-9.3zM3135.1,1935.35h27.9v9.3h-27.9zM2865.4,1944.65h9.3v9.3h-9.3zM2893.3,1944.65h9.3v9.3h-9.3zM2930.5,1944.65h9.3v9.3h-9.3zM2949.1,1944.65h37.2v9.3h-37.2zM3032.8,1944.65h9.3v9.3h-9.3zM3051.4,1944.65h9.3v9.3h-9.3zM3088.6,1944.65h9.3v9.3h-9.3zM2856.1,1953.95h9.3v9.3h-9.3zM2884.0,1953.95h18.6v9.3h-18.6zM2911.9,1953.95h18.6v9.3h-18.6zM2949.1,1953.95h9.3v9.3h-9.3zM2967.7,1953.95h9.3v9.3h-9.3zM2995.6,1953.95h9.3v9.3h-9.3zM3032.8,1953.95h9.3v9.3h-9.3zM3051.4,1953.95h9.3v9.3h-9.3zM3079.3,1953.95h18.6v9.3h-18.6zM3125.8,1953.95h9.3v9.3h-9.3zM3153.7,1953.95h9.3v9.3h-9.3zM2865.4,1963.25h9.3v9.3h-9.3zM2893.3,1963.25h18.6v9.3h-18.6zM2921.2,1963.25h18.6v9.3h-18.6zM2949.1,1963.25h27.9v9.3h-27.9zM2986.3,1963.25h18.6v9.3h-18.6zM3051.4,1963.25h9.3v9.3h-9.3zM3070.0,1963.25h9.3v9.3h-9.3zM3088.6,1963.25h9.3v9.3h-9.3zM3125.8,1963.25h9.3v9.3h-9.3zM3144.4,1963.25h18.6v9.3h-18.6zM2856.1,1972.55h9.3v9.3h-9.3zM2874.7,1972.55h9.3v9.3h-9.3zM2911.9,1972.55h37.2v9.3h-37.2zM2995.6,1972.55h18.6v9.3h-18.6zM3042.1,1972.55h18.6v9.3h-18.6zM3079.3,1972.55h9.3v9.3h-9.3zM3097.9,1972.55h9.3v9.3h-9.3zM3116.5,1972.55h9.3v9.3h-9.3zM3153.7,1972.55h9.3v9.3h-9.3zM2865.4,1981.85h9.3v9.3h-9.3zM2930.5,1981.85h9.3v9.3h-9.3zM2949.1,1981.85h18.6v9.3h-18.6zM2977.0,1981.85h9.3v9.3h-9.3zM2995.6,1981.85h9.3v9.3h-9.3zM3014.2,1981.85h27.9v9.3h-27.9zM3070.0,1981.85h9.3v9.3h-9.3zM3088.6,1981.85h9.3v9.3h-9.3zM3107.2,1981.85h18.6v9.3h-18.6zM3153.7,1981.85h9.3v9.3h-9.3zM2856.1,1991.15h9.3v9.3h-9.3zM2874.7,1991.15h46.5v9.3h-46.5zM2939.8,1991.15h37.2v9.3h-37.2zM2986.3,1991.15h9.3v9.3h-9.3zM3004.9,1991.15h9.3v9.3h-9.3zM3023.5,1991.15h9.3v9.3h-9.3zM3051.4,1991.15h18.6v9.3h-18.6zM3079.3,1991.15h55.8v9.3h-55.8zM3144.4,1991.15h18.6v9.3h-18.6zM2930.5,2000.45h18.6v9.3h-18.6zM2958.4,2000.45h18.6v9.3h-18.6zM2986.3,2000.45h18.6v9.3h-18.6zM3014.2,2000.45h37.2v9.3h-37.2zM3079.3,2000.45h9.3v9.3h-9.3zM3116.5,2000.45h18.6v9.3h-18.6zM3144.4,2000.45h18.6v9.3h-18.6zM2856.1,2009.75h65.1v9.3h-65.1zM2939.8,2009.75h9.3v9.3h-9.3zM2958.4,2009.75h9.3v9.3h-9.3zM2977.0,2009.75h9.3v9.3h-9.3zM3004.9,2009.75h9.3v9.3h-9.3zM3032.8,2009.75h27.9v9.3h-27.9zM3079.3,2009.75h9.3v9.3h-9.3zM3097.9,2009.75h9.3v9.3h-9.3zM3116.5,2009.75h9.3v9.3h-9.3zM3135.1,2009.75h27.9v9.3h-27.9zM2856.1,2019.05h9.3v9.3h-9.3zM2911.9,2019.05h9.3v9.3h-9.3zM2930.5,2019.05h9.3v9.3h-9.3zM2949.1,2019.05h18.6v9.3h-18.6zM3014.2,2019.05h27.9v9.3h-27.9zM3079.3,2019.05h9.3v9.3h-9.3zM3116.5,2019.05h9.3v9.3h-9.3zM3153.7,2019.05h9.3v9.3h-9.3zM2856.1,2028.35h9.3v9.3h-9.3zM2874.7,2028.35h27.9v9.3h-27.9zM2911.9,2028.35h9.3v9.3h-9.3zM2930.5,2028.35h27.9v9.3h-27.9zM2967.7,2028.35h9.3v9.3h-9.3zM2995.6,2028.35h9.3v9.3h-9.3zM3014.2,2028.35h27.9v9.3h-27.9zM3079.3,2028.35h46.5v9.3h-46.5zM3144.4,2028.35h9.3v9.3h-9.3zM2856.1,2037.65h9.3v9.3h-9.3zM2874.7,2037.65h27.9v9.3h-27.9zM2911.9,2037.65h9.3v9.3h-9.3zM2939.8,2037.65h9.3v9.3h-9.3zM2967.7,2037.65h18.6v9.3h-18.6zM2995.6,2037.65h9.3v9.3h-9.3zM3014.2,2037.65h9.3v9.3h-9.3zM3032.8,2037.65h27.9v9.3h-27.9zM3070.0,2037.65h9.3v9.3h-9.3zM3116.5,2037.65h18.6v9.3h-18.6zM2856.1,2046.95h9.3v9.3h-9.3zM2874.7,2046.95h27.9v9.3h-27.9zM2911.9,2046.95h9.3v9.3h-9.3zM2930.5,2046.95h9.3v9.3h-9.3zM2958.4,2046.95h18.6v9.3h-18.6zM3032.8,2046.95h9.3v9.3h-9.3zM3051.4,2046.95h9.3v9.3h-9.3zM3079.3,2046.95h18.6v9.3h-18.6zM3107.2,2046.95h18.6v9.3h-18.6zM3135.1,2046.95h9.3v9.3h-9.3zM3153.7,2046.95h9.3v9.3h-9.3zM2856.1,2056.25h9.3v9.3h-9.3zM2911.9,2056.25h9.3v9.3h-9.3zM2949.1,2056.25h9.3v9.3h-9.3zM3014.2,2056.25h27.9v9.3h-27.9zM3051.4,2056.25h37.2v9.3h-37.2zM3107.2,2056.25h9.3v9.3h-9.3zM3125.8,2056.25h9.3v9.3h-9.3zM3144.4,2056.25h9.3v9.3h-9.3zM2856.1,2065.55h65.1v9.3h-65.1zM2958.4,2065.55h9.3v9.3h-9.3zM2995.6,2065.55h9.3v9.3h-9.3zM3014.2,2065.55h9.3v9.3h-9.3zM3079.3,2065.55h9.3v9.3h-9.3zM3107.2,2065.55h18.6v9.3h-18.6zM3135.1,2065.55h27.9v9.3h-27.9z" fill="#000" shape-rendering="crispEdges"/>
</g>
</svg>
</div>
</body></html>
